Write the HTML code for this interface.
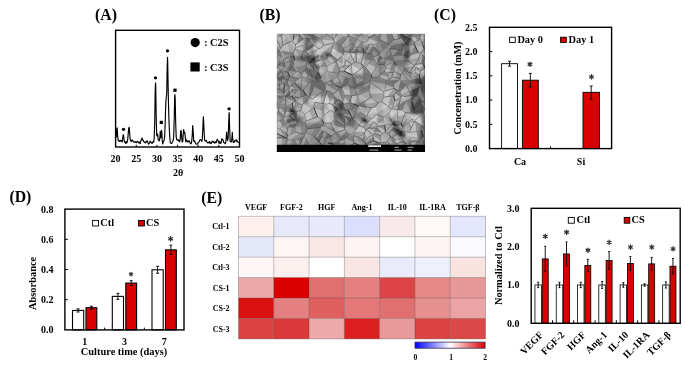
<!DOCTYPE html>
<html><head><meta charset="utf-8"><style>
html,body{margin:0;padding:0;background:#fff;}
svg{display:block;will-change:transform;}
svg text{font-family:"Liberation Serif", serif;font-weight:bold;fill:#000;}
</style></head><body>
<svg width="685" height="367" viewBox="0 0 685 367">
<rect width="685" height="367" fill="#fff"/>
<text x="95.00" y="19.60" font-size="15.8" text-anchor="start" >(A)</text>
<path d="M116.20,137.53 L116.70,129.15 L117.00,128.10 L117.20,127.88 L117.70,136.18 L118.20,140.47 L118.70,140.41 L119.20,141.42 L119.70,140.64 L120.20,141.37 L120.70,140.67 L121.20,140.30 L121.70,140.93 L122.20,141.95 L122.70,138.53 L123.20,134.47 L123.70,135.94 L124.20,140.98 L124.70,142.27 L125.20,141.93 L125.70,143.40 L126.20,141.61 L126.70,143.01 L127.20,141.90 L127.70,139.47 L128.20,134.10 L128.70,127.83 L129.00,127.56 L129.20,127.39 L129.70,133.73 L130.20,139.53 L130.70,140.99 L131.20,141.61 L131.70,140.49 L132.20,140.01 L132.70,140.28 L133.20,141.83 L133.70,141.94 L134.20,141.68 L134.70,142.27 L135.20,142.11 L135.70,141.50 L136.20,142.47 L136.70,142.61 L137.20,141.36 L137.70,141.66 L138.20,141.71 L138.70,142.80 L139.20,143.04 L139.70,142.03 L140.20,143.50 L140.70,141.51 L141.20,140.11 L141.70,139.13 L142.20,138.10 L142.70,140.28 L143.20,140.20 L143.70,141.50 L144.20,142.27 L144.70,142.11 L145.20,142.92 L145.70,141.82 L146.20,142.13 L146.70,141.05 L147.20,140.92 L147.70,141.95 L148.20,143.38 L148.70,144.13 L149.20,143.09 L149.70,143.00 L150.20,141.16 L150.70,141.96 L151.20,142.16 L151.70,143.23 L152.20,143.34 L152.70,141.97 L153.20,141.67 L153.70,142.23 L154.20,138.11 L154.70,122.58 L155.20,90.42 L155.50,82.90 L155.70,84.87 L156.20,117.06 L156.70,135.61 L157.20,135.82 L157.70,134.01 L158.20,139.65 L158.70,140.47 L159.20,140.95 L159.70,139.07 L160.20,132.77 L160.30,131.39 L160.70,137.76 L161.20,135.71 L161.60,130.31 L161.70,130.35 L162.20,140.40 L162.70,143.99 L163.20,142.15 L163.70,141.10 L164.20,139.98 L164.70,135.45 L165.20,122.78 L165.70,105.45 L166.00,100.20 L166.20,97.99 L166.70,93.97 L167.20,66.79 L167.50,57.38 L167.70,61.61 L168.20,90.69 L168.60,108.41 L168.70,112.36 L169.20,126.73 L169.70,135.90 L170.20,141.91 L170.70,143.15 L171.20,143.55 L171.70,143.42 L172.20,142.17 L172.70,141.55 L173.20,139.99 L173.70,136.54 L174.20,118.47 L174.70,95.57 L174.90,94.63 L175.20,99.14 L175.70,123.51 L176.20,137.08 L176.70,139.71 L177.20,140.10 L177.70,139.92 L178.20,140.46 L178.70,139.70 L179.20,141.66 L179.70,141.82 L180.20,138.87 L180.70,131.67 L181.00,130.32 L181.20,130.73 L181.70,137.62 L182.20,142.03 L182.70,141.55 L183.20,134.40 L183.60,130.36 L183.70,129.53 L184.20,132.99 L184.70,132.15 L185.20,136.36 L185.70,141.73 L186.20,140.84 L186.70,139.86 L187.20,142.03 L187.70,142.01 L188.20,141.04 L188.70,141.77 L189.20,140.76 L189.70,141.69 L190.20,143.41 L190.70,143.89 L191.20,143.56 L191.70,141.55 L192.20,135.84 L192.70,125.56 L192.80,126.23 L193.20,131.90 L193.70,140.84 L194.20,141.53 L194.70,140.95 L195.20,142.38 L195.70,143.68 L196.20,144.03 L196.70,144.11 L197.20,144.17 L197.70,143.92 L198.20,142.27 L198.70,142.15 L199.20,141.54 L199.70,140.25 L200.20,139.57 L200.70,139.94 L201.20,140.12 L201.70,141.26 L202.20,140.39 L202.70,130.67 L203.20,119.74 L203.40,116.80 L203.70,122.52 L204.20,133.80 L204.70,140.15 L205.20,141.13 L205.70,140.75 L206.20,140.42 L206.70,141.35 L207.20,142.56 L207.70,143.01 L208.20,142.29 L208.70,142.51 L209.20,143.13 L209.70,141.54 L210.20,142.43 L210.70,143.59 L211.20,143.65 L211.70,142.37 L212.20,141.18 L212.70,141.22 L213.20,142.42 L213.70,141.54 L214.20,142.37 L214.70,143.29 L215.20,142.20 L215.70,141.73 L216.20,142.67 L216.70,141.02 L217.20,139.28 L217.70,140.40 L218.20,140.77 L218.70,142.70 L219.20,143.27 L219.70,141.60 L220.20,142.57 L220.70,143.39 L221.20,142.32 L221.70,139.10 L222.20,138.76 L222.70,139.96 L223.20,140.05 L223.70,142.52 L224.20,142.89 L224.70,142.75 L225.20,143.80 L225.70,142.48 L226.20,138.26 L226.60,132.10 L226.70,132.43 L227.20,138.81 L227.70,140.60 L228.20,137.38 L228.70,122.65 L229.10,112.63 L229.20,112.79 L229.70,129.74 L230.20,141.40 L230.70,141.91 L231.20,141.98 L231.70,140.13 L232.20,133.99 L232.30,132.40 L232.70,138.43 L233.20,142.52 L233.70,142.49 L234.20,142.17 L234.70,140.52 L235.20,140.86 L235.70,140.33 L236.20,139.63 L236.70,141.60 L237.20,140.94 L237.70,141.54 L238.20,142.62 L238.70,142.70" fill="none" stroke="#000" stroke-width="1.15" stroke-linejoin="round"/>
<rect x="115.60" y="30.30" width="123.90" height="116.70" fill="none" stroke="#000" stroke-width="1.4" />
<line x1="136.25" y1="147.00" x2="136.25" y2="144.80" stroke="#000" stroke-width="1"/>
<line x1="156.90" y1="147.00" x2="156.90" y2="144.80" stroke="#000" stroke-width="1"/>
<line x1="177.55" y1="147.00" x2="177.55" y2="144.80" stroke="#000" stroke-width="1"/>
<line x1="198.20" y1="147.00" x2="198.20" y2="144.80" stroke="#000" stroke-width="1"/>
<line x1="218.85" y1="147.00" x2="218.85" y2="144.80" stroke="#000" stroke-width="1"/>
<text x="115.60" y="162.20" font-size="10" text-anchor="middle" >20</text>
<text x="136.25" y="162.20" font-size="10" text-anchor="middle" >25</text>
<text x="156.90" y="162.20" font-size="10" text-anchor="middle" >30</text>
<text x="177.55" y="162.20" font-size="10" text-anchor="middle" >35</text>
<text x="198.20" y="162.20" font-size="10" text-anchor="middle" >40</text>
<text x="218.85" y="162.20" font-size="10" text-anchor="middle" >45</text>
<text x="239.50" y="162.20" font-size="10" text-anchor="middle" >50</text>
<text x="178.00" y="175.80" font-size="10" text-anchor="middle" >2θ</text>
<circle cx="195.2" cy="42.6" r="4.6" fill="#000"/>
<text x="204.20" y="46.30" font-size="10" text-anchor="start" >:</text>
<text x="210.00" y="46.30" font-size="10.4" text-anchor="start" >C2S</text>
<rect x="190.40" y="62.40" width="9.30" height="9.10" fill="#000" stroke="none" stroke-width="0" />
<text x="204.20" y="70.80" font-size="10" text-anchor="start" >:</text>
<text x="210.00" y="70.80" font-size="10.4" text-anchor="start" >C3S</text>
<circle cx="123.5" cy="129.3" r="1.65" fill="#000"/>
<circle cx="155.5" cy="77.8" r="1.65" fill="#000"/>
<circle cx="167.5" cy="50.8" r="1.65" fill="#000"/>
<circle cx="229.1" cy="108.8" r="1.65" fill="#000"/>
<rect x="159.70" y="120.80" width="3.20" height="3.20" fill="#000" stroke="none" stroke-width="0" />
<rect x="173.40" y="88.60" width="3.20" height="3.20" fill="#000" stroke="none" stroke-width="0" />
<text x="259.40" y="20.30" font-size="15.8" text-anchor="start" >(B)</text>
<defs><clipPath id="semclip"><rect x="276.8" y="33.7" width="148.2" height="111.3"/></clipPath><filter id="semblur" x="-5%" y="-5%" width="110%" height="110%"><feGaussianBlur stdDeviation="1.0"/></filter></defs>
<g clip-path="url(#semclip)">
<g filter="url(#semblur)">
<rect x="274.8" y="31.700000000000003" width="152.2" height="115.3" fill="rgb(137,137,137)"/>
<polygon points="277.4,34.9 305.5,35.6 305.3,52.3 275.3,50.7" fill="rgb(172,172,172)"/>
<polygon points="306.0,34.5 316.4,32.6 314.9,49.9 304.6,51.1" fill="rgb(108,108,108)"/>
<polygon points="275.2,49.8 291.2,52.3 293.0,61.8 278.1,61.7" fill="rgb(148,148,148)"/>
<polygon points="277.0,63.0 327.0,63.0 327.0,90.0 277.0,90.0" fill="rgb(135,135,135)"/>
<polygon points="334.2,35.7 347.1,34.6 345.9,55.6 335.7,55.7" fill="rgb(143,143,143)"/>
<polygon points="348.4,33.3 365.1,32.8 364.3,47.4 346.3,49.4" fill="rgb(154,154,154)"/>
<polygon points="363.8,34.6 375.4,33.3 377.1,45.9 364.9,45.9" fill="rgb(177,177,177)"/>
<polygon points="326.7,53.4 347.7,53.3 346.9,74.8 324.3,74.6" fill="rgb(166,166,166)"/>
<polygon points="363.5,49.3 374.2,47.4 374.9,75.2 362.9,74.5" fill="rgb(137,137,137)"/>
<polygon points="327.5,75.2 340.4,73.1 341.1,91.0 324.6,90.9" fill="rgb(148,148,148)"/>
<polygon points="342.1,74.9 363.9,75.2 364.1,89.4 341.4,91.5" fill="rgb(120,120,120)"/>
<polygon points="365.0,75.1 376.2,72.9 375.3,88.8 364.1,88.7" fill="rgb(148,148,148)"/>
<polygon points="375.7,35.8 400.8,32.4 403.8,43.1 374.7,42.1" fill="rgb(148,148,148)"/>
<polygon points="411.9,35.2 424.8,33.7 423.4,44.5 409.9,43.0" fill="rgb(172,172,172)"/>
<polygon points="376.2,41.7 384.8,44.6 384.5,65.5 373.6,64.3" fill="rgb(137,137,137)"/>
<polygon points="382.7,44.2 404.8,42.8 407.3,65.8 385.7,64.3" fill="rgb(131,131,131)"/>
<polygon points="410.0,43.8 424.9,42.2 424.7,63.2 409.6,66.3" fill="rgb(166,166,166)"/>
<polygon points="376.7,65.0 405.5,63.9 404.0,89.2 376.0,91.3" fill="rgb(148,148,148)"/>
<polygon points="414.1,74.6 426.0,74.3 425.6,90.9 414.1,90.7" fill="rgb(102,102,102)"/>
<polygon points="404.7,64.4 415.6,65.2 413.9,91.6 406.0,90.3" fill="rgb(137,137,137)"/>
<polygon points="275.2,89.2 302.1,89.6 302.9,99.1 277.5,99.1" fill="rgb(148,148,148)"/>
<polygon points="302.5,89.5 318.9,90.2 317.5,99.2 304.3,98.7" fill="rgb(137,137,137)"/>
<polygon points="319.7,90.6 326.1,89.1 324.8,99.2 319.6,97.9" fill="rgb(143,143,143)"/>
<polygon points="277.7,104.8 292.8,102.8 293.0,119.8 277.6,119.2" fill="rgb(160,160,160)"/>
<polygon points="277.4,120.5 286.5,120.3 284.3,143.8 276.8,145.5" fill="rgb(166,166,166)"/>
<polygon points="285.0,126.3 308.0,124.0 307.4,144.0 284.4,143.7" fill="rgb(154,154,154)"/>
<polygon points="306.8,122.9 325.9,122.3 326.9,144.6 307.9,145.3" fill="rgb(137,137,137)"/>
<polygon points="276.1,99.5 290.2,97.7 291.2,103.7 275.6,105.2" fill="rgb(137,137,137)"/>
<polygon points="325.5,87.3 341.4,87.5 341.2,97.4 326.3,99.6" fill="rgb(143,143,143)"/>
<polygon points="342.1,88.7 360.6,89.5 359.0,102.7 341.3,104.2" fill="rgb(166,166,166)"/>
<polygon points="361.1,90.7 376.4,88.5 377.4,99.2 358.1,101.2" fill="rgb(166,166,166)"/>
<polygon points="334.0,102.7 357.0,105.4 356.1,126.8 332.6,126.2" fill="rgb(126,126,126)"/>
<polygon points="355.1,103.6 370.4,105.5 369.0,118.6 355.1,119.5" fill="rgb(137,137,137)"/>
<polygon points="325.7,126.3 356.7,127.0 354.2,144.9 324.6,145.4" fill="rgb(137,137,137)"/>
<polygon points="354.8,121.8 377.0,123.7 374.2,137.9 354.2,139.4" fill="rgb(177,177,177)"/>
<polygon points="356.0,136.9 375.2,136.6 377.8,144.3 355.4,144.9" fill="rgb(148,148,148)"/>
<polygon points="375.5,89.4 396.9,87.6 396.9,118.8 375.1,118.9" fill="rgb(177,177,177)"/>
<polygon points="395.3,89.1 414.5,88.5 415.5,101.3 394.3,100.1" fill="rgb(172,172,172)"/>
<polygon points="395.8,102.5 413.0,101.2 409.9,116.0 395.7,115.3" fill="rgb(160,160,160)"/>
<polygon points="375.7,120.0 391.7,121.0 391.4,144.6 376.3,143.9" fill="rgb(166,166,166)"/>
<polygon points="394.1,135.9 406.9,135.9 409.2,144.8 394.0,146.0" fill="rgb(166,166,166)"/>
<polygon points="422.2,118.2 424.9,119.7 425.0,144.4 419.5,145.3" fill="rgb(102,102,102)"/>
<polygon points="409.6,137.7 419.7,140.5 421.8,145.6 406.8,145.8" fill="rgb(137,137,137)"/>
<polygon points="280.0,35.0 290.0,35.0 301.0,47.0 297.0,49.0" fill="rgb(194,194,194)"/>
<polygon points="313.0,47.0 324.0,35.0 335.0,35.0 337.0,51.0 331.0,56.0 315.0,55.0" fill="rgb(192,192,192)"/>
<polygon points="292.0,51.0 304.0,50.0 312.0,52.0 310.0,56.0 293.0,56.0" fill="rgb(172,172,172)"/>
<polygon points="292.0,56.0 320.0,55.0 327.0,59.0 320.0,63.0 300.0,62.0" fill="rgb(85,85,85)"/>
<polygon points="309.2,58.8 315.7,55.4 316.2,62.0 308.0,64.6" fill="rgb(45,45,45)"/>
<polygon points="315.8,55.7 325.3,58.5 324.7,74.0 314.7,72.4" fill="rgb(177,177,177)"/>
<polygon points="294.2,72.0 306.1,73.2 306.0,84.2 294.1,86.7" fill="rgb(160,160,160)"/>
<polygon points="278.4,78.7 285.8,79.3 286.4,90.0 278.6,89.5" fill="rgb(148,148,148)"/>
<polygon points="308.9,65.2 318.4,65.0 319.7,81.2 310.7,80.1" fill="rgb(102,102,102)"/>
<polygon points="325.1,52.2 331.1,52.9 332.1,56.7 325.0,57.5" fill="rgb(68,68,68)"/>
<polygon points="347.9,52.8 364.8,54.6 362.5,74.2 345.5,72.2" fill="rgb(194,194,194)"/>
<polygon points="365.9,60.5 376.2,61.3 374.2,73.1 363.9,72.8" fill="rgb(166,166,166)"/>
<polygon points="399.4,32.7 413.2,34.7 410.6,41.6 402.7,43.6" fill="rgb(45,45,45)"/>
<polygon points="402.0,38.6 409.0,40.0 410.0,60.0 404.0,61.0" fill="rgb(80,80,80)"/>
<polygon points="408.0,66.0 414.0,62.5 422.0,65.0 422.0,72.5 415.0,74.5 408.0,72.0" fill="rgb(194,194,194)"/>
<polygon points="382.2,66.2 396.4,67.0 395.0,79.1 381.4,79.2" fill="rgb(172,172,172)"/>
<polygon points="415.6,78.7 426.2,80.5 426.1,89.8 417.3,90.1" fill="rgb(80,80,80)"/>
<polygon points="278.5,97.0 290.0,94.0 292.0,99.0 280.0,102.7" fill="rgb(102,102,102)"/>
<polygon points="309.3,96.9 327.9,96.2 325.5,105.6 307.9,105.6" fill="rgb(200,200,200)"/>
<polygon points="292.1,100.9 303.9,99.2 302.9,116.4 291.1,114.7" fill="rgb(166,166,166)"/>
<polygon points="301.3,104.4 321.5,104.6 322.2,123.6 302.8,122.7" fill="rgb(177,177,177)"/>
<polygon points="289.8,108.0 295.6,108.0 295.8,114.9 289.0,116.5" fill="rgb(45,45,45)"/>
<polygon points="286.0,117.0 299.0,114.0 301.4,127.0 288.0,127.0" fill="rgb(108,108,108)"/>
<polygon points="325.5,99.6 334.3,98.6 333.5,128.6 324.6,127.6" fill="rgb(194,194,194)"/>
<polygon points="334.2,104.6 343.8,102.8 341.9,117.8 334.0,118.0" fill="rgb(85,85,85)"/>
<polygon points="365.2,99.7 375.5,97.3 375.9,121.7 366.4,123.3" fill="rgb(189,189,189)"/>
<polygon points="359.8,117.1 367.6,119.6 367.5,123.8 362.7,122.2" fill="rgb(39,39,39)"/>
<polygon points="338.1,128.0 356.2,125.4 356.7,136.5 339.8,134.2" fill="rgb(166,166,166)"/>
<polygon points="382.5,104.3 397.4,105.8 397.6,116.4 383.1,116.4" fill="rgb(206,206,206)"/>
<polygon points="411.2,87.4 424.1,88.7 424.3,117.9 409.9,121.2" fill="rgb(80,80,80)"/>
<polygon points="393.6,110.0 405.1,110.1 404.0,121.8 393.4,122.7" fill="rgb(194,194,194)"/>
<polygon points="407.0,115.4 422.0,114.0 419.0,139.4 405.5,139.6" fill="rgb(189,189,189)"/>
<polygon points="388.7,119.5 393.0,119.5 405.5,134.0 405.5,138.0 400.0,138.0" fill="rgb(45,45,45)"/>
</g>
<polygon points="294.2,33.7 284.8,33.7 287.9,37.0 293.9,36.0" fill="#000" fill-opacity="0.01"/>
<polygon points="292.7,41.6 293.4,39.7 293.9,36.0 287.9,37.0 291.9,41.3" fill="#000" fill-opacity="0.16"/>
<path d="M291.9,41.3L292.7,41.6M292.7,41.6L293.4,39.7M293.4,39.7L294.2,33.7" stroke="#111" stroke-opacity="0.6" stroke-width="0.75" fill="none"/>
<path d="M294.2,33.7L284.8,33.7M284.8,33.7L291.9,41.3" stroke="#f0f0f0" stroke-opacity="0.4" stroke-width="0.6" fill="none"/>
<polygon points="345.1,124.8 344.4,125.9 344.8,129.7 349.3,134.2 352.3,134.5 355.8,130.0 346.6,123.7" fill="#fff" fill-opacity="0.02"/>
<polygon points="352.9,119.0 346.6,123.7 355.8,130.0 359.1,125.7 358.8,125.0 353.0,119.1" fill="#000" fill-opacity="0.16"/>
<path d="M344.8,129.7L349.3,134.2M349.3,134.2L352.3,134.5M352.3,134.5L359.1,125.7M359.1,125.7L358.8,125.0" stroke="#111" stroke-opacity="0.6" stroke-width="0.75" fill="none"/>
<path d="M353.0,119.1L352.9,119.0M352.9,119.0L345.1,124.8M345.1,124.8L344.4,125.9M344.4,125.9L344.8,129.7M358.8,125.0L353.0,119.1" stroke="#f0f0f0" stroke-opacity="0.4" stroke-width="0.6" fill="none"/>
<polygon points="361.0,63.6 363.7,66.6 365.7,67.6 370.8,60.4 362.5,58.4" fill="#fff" fill-opacity="0.03"/>
<polygon points="364.2,52.6 362.5,58.4 370.8,60.4 373.5,56.5 371.8,54.5 365.4,52.5" fill="#000" fill-opacity="0.14"/>
<path d="M361.0,63.6L363.7,66.6M363.7,66.6L365.7,67.6M365.7,67.6L373.5,56.5" stroke="#111" stroke-opacity="0.6" stroke-width="0.75" fill="none"/>
<path d="M365.4,52.5L364.2,52.6M364.2,52.6L361.0,63.6M373.5,56.5L371.8,54.5M371.8,54.5L365.4,52.5" stroke="#f0f0f0" stroke-opacity="0.4" stroke-width="0.6" fill="none"/>
<polygon points="276.8,33.7 276.8,37.6 279.4,36.6 279.2,33.7" fill="#fff" fill-opacity="0.12"/>
<polygon points="283.6,33.7 279.2,33.7 279.4,36.6 281.4,35.7" fill="#000" fill-opacity="0.18"/>
<path d="M281.4,35.7L283.6,33.7M276.8,37.6L281.4,35.7" stroke="#111" stroke-opacity="0.6" stroke-width="0.75" fill="none"/>
<path d="M283.6,33.7L276.8,33.7M276.8,33.7L276.8,37.6" stroke="#f0f0f0" stroke-opacity="0.4" stroke-width="0.6" fill="none"/>
<polygon points="300.3,89.7 292.9,85.4 291.5,86.8 294.2,89.0 297.4,90.2" fill="#fff" fill-opacity="0.03"/>
<polygon points="301.3,89.6 295.0,83.3 292.9,85.4 300.3,89.7" fill="#000" fill-opacity="0.12"/>
<path d="M297.4,90.2L301.3,89.6M301.3,89.6L295.0,83.3M294.2,89.0L297.4,90.2" stroke="#111" stroke-opacity="0.6" stroke-width="0.75" fill="none"/>
<path d="M295.0,83.3L291.5,86.8M291.5,86.8L294.2,89.0" stroke="#f0f0f0" stroke-opacity="0.4" stroke-width="0.6" fill="none"/>
<polygon points="410.1,113.3 412.2,118.6 414.4,120.5 419.3,116.8 411.5,112.1" fill="#fff" fill-opacity="0.20"/>
<polygon points="411.5,112.1 419.3,116.8 423.5,113.6 414.5,109.7 414.3,109.7" fill="#000" fill-opacity="0.05"/>
<path d="M412.2,118.6L414.4,120.5M414.4,120.5L423.5,113.6" stroke="#111" stroke-opacity="0.6" stroke-width="0.75" fill="none"/>
<path d="M414.3,109.7L410.1,113.3M410.1,113.3L412.2,118.6M423.5,113.6L414.5,109.7M414.5,109.7L414.3,109.7" stroke="#f0f0f0" stroke-opacity="0.4" stroke-width="0.6" fill="none"/>
<polygon points="283.8,78.6 281.4,79.3 281.9,83.9 282.4,83.9 286.1,79.4" fill="#000" fill-opacity="0.00"/>
<polygon points="288.1,81.8 288.3,80.4 288.2,80.1 286.1,79.4 282.4,83.9 284.4,84.2" fill="#000" fill-opacity="0.18"/>
<path d="M284.4,84.2L288.1,81.8M288.1,81.8L288.3,80.4M288.3,80.4L288.2,80.1M281.9,83.9L284.4,84.2" stroke="#111" stroke-opacity="0.6" stroke-width="0.75" fill="none"/>
<path d="M288.2,80.1L283.8,78.6M283.8,78.6L281.4,79.3M281.4,79.3L281.9,83.9" stroke="#f0f0f0" stroke-opacity="0.4" stroke-width="0.6" fill="none"/>
<polygon points="289.6,76.7 290.7,76.5 296.1,72.2 288.8,70.6 287.8,72.1" fill="#fff" fill-opacity="0.09"/>
<polygon points="297.5,71.1 293.7,65.8 290.0,68.9 288.8,70.6 296.1,72.2" fill="#000" fill-opacity="0.15"/>
<path d="M287.8,72.1L289.6,76.7M289.6,76.7L290.7,76.5M290.7,76.5L297.5,71.1" stroke="#111" stroke-opacity="0.6" stroke-width="0.75" fill="none"/>
<path d="M297.5,71.1L293.7,65.8M293.7,65.8L290.0,68.9M290.0,68.9L287.8,72.1" stroke="#f0f0f0" stroke-opacity="0.4" stroke-width="0.6" fill="none"/>
<polygon points="414.5,109.7 419.0,111.6 422.9,105.6 421.5,103.2" fill="#fff" fill-opacity="0.02"/>
<polygon points="423.5,113.6 424.3,113.8 425.0,110.2 425.0,109.3 422.9,105.6 419.0,111.6" fill="#000" fill-opacity="0.12"/>
<path d="M414.5,109.7L423.5,113.6M423.5,113.6L424.3,113.8M424.3,113.8L425.0,110.2M425.0,110.2L425.0,109.3" stroke="#111" stroke-opacity="0.6" stroke-width="0.75" fill="none"/>
<path d="M421.5,103.2L414.5,109.7M425.0,109.3L421.5,103.2" stroke="#f0f0f0" stroke-opacity="0.4" stroke-width="0.6" fill="none"/>
<polygon points="369.8,43.8 365.4,52.5 367.7,53.2 373.3,44.7" fill="#fff" fill-opacity="0.14"/>
<polygon points="373.3,44.7 367.7,53.2 371.8,54.5 374.3,46.9 374.4,45.0" fill="#000" fill-opacity="0.14"/>
<path d="M365.4,52.5L371.8,54.5M371.8,54.5L374.3,46.9" stroke="#111" stroke-opacity="0.6" stroke-width="0.75" fill="none"/>
<path d="M374.4,45.0L369.8,43.8M369.8,43.8L365.4,52.5M374.3,46.9L374.4,45.0" stroke="#f0f0f0" stroke-opacity="0.4" stroke-width="0.6" fill="none"/>
<polygon points="327.1,33.7 327.2,34.3 329.3,35.8 332.7,34.7 332.5,33.7" fill="#fff" fill-opacity="0.01"/>
<polygon points="333.2,38.5 332.7,34.7 329.3,35.8" fill="#000" fill-opacity="0.14"/>
<path d="M327.2,34.3L333.2,38.5M333.2,38.5L332.5,33.7" stroke="#111" stroke-opacity="0.6" stroke-width="0.75" fill="none"/>
<path d="M332.5,33.7L327.1,33.7M327.1,33.7L327.2,34.3" stroke="#f0f0f0" stroke-opacity="0.4" stroke-width="0.6" fill="none"/>
<polygon points="356.3,94.9 351.6,95.9 351.2,98.2 352.8,103.6 354.8,104.4 356.7,95.2" fill="#fff" fill-opacity="0.24"/>
<polygon points="359.7,105.8 360.1,104.0 357.4,95.7 356.7,95.2 354.8,104.4 358.9,106.2" fill="#000" fill-opacity="0.04"/>
<path d="M358.9,106.2L359.7,105.8M359.7,105.8L360.1,104.0M360.1,104.0L357.4,95.7M352.8,103.6L358.9,106.2" stroke="#111" stroke-opacity="0.6" stroke-width="0.75" fill="none"/>
<path d="M357.4,95.7L356.3,94.9M356.3,94.9L351.6,95.9M351.6,95.9L351.2,98.2M351.2,98.2L352.8,103.6" stroke="#f0f0f0" stroke-opacity="0.4" stroke-width="0.6" fill="none"/>
<polygon points="370.5,82.4 368.9,90.1 370.0,93.9 384.0,92.9 384.0,92.0" fill="#fff" fill-opacity="0.19"/>
<polygon points="371.1,97.4 378.1,102.8 382.1,101.8 383.8,97.0 384.0,92.9 370.0,93.9" fill="#000" fill-opacity="0.09"/>
<path d="M371.1,97.4L378.1,102.8M378.1,102.8L382.1,101.8M382.1,101.8L383.8,97.0M383.8,97.0L384.0,92.0" stroke="#111" stroke-opacity="0.6" stroke-width="0.75" fill="none"/>
<path d="M384.0,92.0L370.5,82.4M370.5,82.4L368.9,90.1M368.9,90.1L371.1,97.4" stroke="#f0f0f0" stroke-opacity="0.4" stroke-width="0.6" fill="none"/>
<polygon points="306.2,132.4 310.8,134.8 315.7,128.0 307.4,128.9" fill="#fff" fill-opacity="0.10"/>
<polygon points="314.8,136.8 321.0,127.4 315.7,128.0 310.8,134.8" fill="#000" fill-opacity="0.06"/>
<path d="M306.2,132.4L314.8,136.8M314.8,136.8L321.0,127.4" stroke="#111" stroke-opacity="0.6" stroke-width="0.75" fill="none"/>
<path d="M307.4,128.9L306.2,132.4M321.0,127.4L307.4,128.9" stroke="#f0f0f0" stroke-opacity="0.4" stroke-width="0.6" fill="none"/>
<polygon points="294.4,81.3 291.1,76.6 290.7,76.5 289.6,76.7 288.2,80.1 288.3,80.4" fill="#fff" fill-opacity="0.04"/>
<polygon points="295.2,81.4 298.6,78.7 291.1,76.6 294.4,81.3" fill="#000" fill-opacity="0.18"/>
<path d="M288.3,80.4L295.2,81.4M295.2,81.4L298.6,78.7" stroke="#111" stroke-opacity="0.6" stroke-width="0.75" fill="none"/>
<path d="M298.6,78.7L290.7,76.5M290.7,76.5L289.6,76.7M289.6,76.7L288.2,80.1M288.2,80.1L288.3,80.4" stroke="#f0f0f0" stroke-opacity="0.4" stroke-width="0.6" fill="none"/>
<polygon points="400.5,130.4 402.3,130.2 402.7,127.4 402.1,125.7 392.0,125.4 392.1,125.6 393.2,127.0" fill="#fff" fill-opacity="0.22"/>
<polygon points="401.3,123.4 397.9,121.2 393.0,121.8 391.7,124.8 392.0,125.4 402.1,125.7" fill="#000" fill-opacity="0.14"/>
<path d="M393.2,127.0L400.5,130.4M400.5,130.4L402.3,130.2M402.3,130.2L402.7,127.4M402.7,127.4L401.3,123.4" stroke="#111" stroke-opacity="0.6" stroke-width="0.75" fill="none"/>
<path d="M401.3,123.4L397.9,121.2M397.9,121.2L393.0,121.8M393.0,121.8L391.7,124.8M391.7,124.8L392.1,125.6M392.1,125.6L393.2,127.0" stroke="#f0f0f0" stroke-opacity="0.4" stroke-width="0.6" fill="none"/>
<polygon points="377.1,36.5 379.9,33.7 374.3,33.7 375.0,35.3" fill="#fff" fill-opacity="0.08"/>
<polygon points="380.2,38.4 381.4,33.7 379.9,33.7 377.1,36.5" fill="#000" fill-opacity="0.12"/>
<path d="M375.0,35.3L380.2,38.4M380.2,38.4L381.4,33.7" stroke="#111" stroke-opacity="0.6" stroke-width="0.75" fill="none"/>
<path d="M381.4,33.7L374.3,33.7M374.3,33.7L375.0,35.3" stroke="#f0f0f0" stroke-opacity="0.4" stroke-width="0.6" fill="none"/>
<polygon points="357.1,38.6 357.4,37.8 350.8,33.7 348.9,33.7 349.4,36.0" fill="#fff" fill-opacity="0.21"/>
<polygon points="358.0,36.6 357.2,33.7 350.8,33.7 357.4,37.8" fill="#000" fill-opacity="0.08"/>
<path d="M349.4,36.0L357.1,38.6M357.1,38.6L358.0,36.6M358.0,36.6L357.2,33.7" stroke="#111" stroke-opacity="0.6" stroke-width="0.75" fill="none"/>
<path d="M357.2,33.7L348.9,33.7M348.9,33.7L349.4,36.0" stroke="#f0f0f0" stroke-opacity="0.4" stroke-width="0.6" fill="none"/>
<polygon points="398.9,105.6 405.1,100.5 403.9,96.6 402.5,95.3 400.5,97.6" fill="#fff" fill-opacity="0.14"/>
<polygon points="398.1,109.9 402.1,110.1 405.5,101.6 405.1,100.5 398.9,105.6" fill="#000" fill-opacity="0.24"/>
<path d="M398.1,109.9L402.1,110.1M402.1,110.1L405.5,101.6" stroke="#111" stroke-opacity="0.6" stroke-width="0.75" fill="none"/>
<path d="M400.5,97.6L398.1,109.9M405.5,101.6L403.9,96.6M403.9,96.6L402.5,95.3M402.5,95.3L400.5,97.6" stroke="#f0f0f0" stroke-opacity="0.4" stroke-width="0.6" fill="none"/>
<polygon points="356.1,52.9 356.5,61.4 363.1,52.4 357.7,52.0" fill="#fff" fill-opacity="0.09"/>
<polygon points="356.6,62.4 361.0,63.6 364.2,52.6 364.0,52.5 363.1,52.4 356.5,61.4" fill="#000" fill-opacity="0.07"/>
<path d="M356.6,62.4L361.0,63.6M361.0,63.6L364.2,52.6" stroke="#111" stroke-opacity="0.6" stroke-width="0.75" fill="none"/>
<path d="M357.7,52.0L356.1,52.9M356.1,52.9L356.6,62.4M364.2,52.6L364.0,52.5M364.0,52.5L357.7,52.0" stroke="#f0f0f0" stroke-opacity="0.4" stroke-width="0.6" fill="none"/>
<polygon points="425.0,37.4 425.0,35.6 420.5,34.0 420.5,34.5" fill="#fff" fill-opacity="0.14"/>
<polygon points="425.0,33.7 420.6,33.7 420.5,34.0 425.0,35.6" fill="#000" fill-opacity="0.13"/>
<path d="M420.5,34.5L425.0,37.4M425.0,37.4L425.0,33.7" stroke="#111" stroke-opacity="0.6" stroke-width="0.75" fill="none"/>
<path d="M425.0,33.7L420.6,33.7M420.6,33.7L420.5,34.5" stroke="#f0f0f0" stroke-opacity="0.4" stroke-width="0.6" fill="none"/>
<polygon points="295.4,44.4 295.9,47.5 304.3,45.0 301.7,39.9" fill="#fff" fill-opacity="0.15"/>
<polygon points="304.0,38.3 301.7,39.9 304.3,45.0 307.5,44.0 310.8,39.2 310.8,38.9 305.7,38.1" fill="#000" fill-opacity="0.07"/>
<path d="M295.9,47.5L307.5,44.0M307.5,44.0L310.8,39.2M310.8,39.2L310.8,38.9" stroke="#111" stroke-opacity="0.6" stroke-width="0.75" fill="none"/>
<path d="M305.7,38.1L304.0,38.3M304.0,38.3L295.4,44.4M295.4,44.4L295.9,47.5M310.8,38.9L305.7,38.1" stroke="#f0f0f0" stroke-opacity="0.4" stroke-width="0.6" fill="none"/>
<polygon points="352.6,75.6 354.5,76.9 363.7,79.3 363.0,67.2 352.6,75.3" fill="#fff" fill-opacity="0.04"/>
<polygon points="370.3,81.0 371.9,77.5 371.2,74.8 365.7,67.6 363.7,66.6 363.0,67.2 363.7,79.3" fill="#000" fill-opacity="0.19"/>
<path d="M354.5,76.9L370.3,81.0M370.3,81.0L371.9,77.5M371.9,77.5L371.2,74.8" stroke="#111" stroke-opacity="0.6" stroke-width="0.75" fill="none"/>
<path d="M352.6,75.3L352.6,75.6M352.6,75.6L354.5,76.9M371.2,74.8L365.7,67.6M365.7,67.6L363.7,66.6M363.7,66.6L352.6,75.3" stroke="#f0f0f0" stroke-opacity="0.4" stroke-width="0.6" fill="none"/>
<polygon points="344.0,71.1 352.4,74.9 352.2,73.8 347.3,67.7" fill="#fff" fill-opacity="0.27"/>
<polygon points="347.3,67.7 352.2,73.8 351.4,64.6 349.0,65.9" fill="#000" fill-opacity="0.08"/>
<path d="M344.0,71.1L352.4,74.9M352.4,74.9L351.4,64.6" stroke="#111" stroke-opacity="0.6" stroke-width="0.75" fill="none"/>
<path d="M349.0,65.9L344.0,71.1M351.4,64.6L349.0,65.9" stroke="#f0f0f0" stroke-opacity="0.4" stroke-width="0.6" fill="none"/>
<polygon points="328.6,103.5 330.1,101.4 326.5,92.7 323.4,103.6 327.6,104.2" fill="#fff" fill-opacity="0.26"/>
<polygon points="333.7,96.3 333.5,93.7 327.1,90.4 326.5,92.7 330.1,101.4" fill="#000" fill-opacity="0.11"/>
<path d="M327.6,104.2L328.6,103.5M328.6,103.5L333.7,96.3M333.7,96.3L333.5,93.7M323.4,103.6L327.6,104.2" stroke="#111" stroke-opacity="0.6" stroke-width="0.75" fill="none"/>
<path d="M333.5,93.7L327.1,90.4M327.1,90.4L323.4,103.6" stroke="#f0f0f0" stroke-opacity="0.4" stroke-width="0.6" fill="none"/>
<polygon points="364.3,141.9 365.3,143.1 367.2,138.9 364.1,136.4" fill="#fff" fill-opacity="0.14"/>
<polygon points="364.1,136.4 367.2,138.9 367.7,137.7 365.4,131.9 364.0,134.0" fill="#000" fill-opacity="0.06"/>
<path d="M364.3,141.9L365.3,143.1M365.3,143.1L367.7,137.7" stroke="#111" stroke-opacity="0.6" stroke-width="0.75" fill="none"/>
<path d="M364.0,134.0L364.3,141.9M367.7,137.7L365.4,131.9M365.4,131.9L364.0,134.0" stroke="#f0f0f0" stroke-opacity="0.4" stroke-width="0.6" fill="none"/>
<polygon points="301.7,73.9 302.2,76.7 307.2,77.9 308.2,76.1 304.4,70.5" fill="#fff" fill-opacity="0.17"/>
<polygon points="306.4,67.9 304.4,70.5 308.2,76.1 310.7,71.9 310.4,70.2" fill="#000" fill-opacity="0.22"/>
<path d="M302.2,76.7L307.2,77.9M307.2,77.9L310.7,71.9M310.7,71.9L310.4,70.2" stroke="#111" stroke-opacity="0.6" stroke-width="0.75" fill="none"/>
<path d="M310.4,70.2L306.4,67.9M306.4,67.9L301.7,73.9M301.7,73.9L302.2,76.7" stroke="#f0f0f0" stroke-opacity="0.4" stroke-width="0.6" fill="none"/>
<polygon points="389.8,48.4 391.4,54.4 393.1,55.9 398.5,49.8" fill="#fff" fill-opacity="0.10"/>
<polygon points="402.1,50.3 398.5,49.8 393.1,55.9 393.1,56.0 402.4,55.3" fill="#000" fill-opacity="0.22"/>
<path d="M402.4,55.3L402.1,50.3M391.4,54.4L393.1,56.0M393.1,56.0L402.4,55.3" stroke="#111" stroke-opacity="0.6" stroke-width="0.75" fill="none"/>
<path d="M402.1,50.3L389.8,48.4M389.8,48.4L391.4,54.4" stroke="#f0f0f0" stroke-opacity="0.4" stroke-width="0.6" fill="none"/>
<polygon points="403.9,96.6 405.1,100.4 414.0,96.4 411.1,95.5" fill="#fff" fill-opacity="0.03"/>
<polygon points="405.5,101.6 412.1,101.7 414.6,96.6 414.0,96.4 405.1,100.4" fill="#000" fill-opacity="0.18"/>
<path d="M405.5,101.6L412.1,101.7M412.1,101.7L414.6,96.6" stroke="#111" stroke-opacity="0.6" stroke-width="0.75" fill="none"/>
<path d="M411.1,95.5L403.9,96.6M403.9,96.6L405.5,101.6M414.6,96.6L411.1,95.5" stroke="#f0f0f0" stroke-opacity="0.4" stroke-width="0.6" fill="none"/>
<polygon points="338.1,73.7 338.1,74.6 349.9,78.7 352.5,75.7 338.2,73.5" fill="#fff" fill-opacity="0.15"/>
<polygon points="339.4,71.3 338.2,73.5 352.5,75.7 352.6,75.6 352.6,75.3 352.4,74.9 344.0,71.1" fill="#000" fill-opacity="0.10"/>
<path d="M338.1,74.6L349.9,78.7M349.9,78.7L352.6,75.6M352.6,75.6L352.6,75.3M352.6,75.3L352.4,74.9M352.4,74.9L344.0,71.1" stroke="#111" stroke-opacity="0.6" stroke-width="0.75" fill="none"/>
<path d="M344.0,71.1L339.4,71.3M339.4,71.3L338.1,73.7M338.1,73.7L338.1,74.6" stroke="#f0f0f0" stroke-opacity="0.4" stroke-width="0.6" fill="none"/>
<polygon points="314.2,70.0 318.1,72.2 318.3,70.2 313.6,64.9" fill="#fff" fill-opacity="0.13"/>
<polygon points="313.2,61.4 313.6,64.9 318.3,70.2 318.4,70.0 314.7,61.6" fill="#000" fill-opacity="0.22"/>
<path d="M314.2,70.0L318.1,72.2M318.1,72.2L318.4,70.0" stroke="#111" stroke-opacity="0.6" stroke-width="0.75" fill="none"/>
<path d="M314.7,61.6L313.2,61.4M313.2,61.4L314.2,70.0M318.4,70.0L314.7,61.6" stroke="#f0f0f0" stroke-opacity="0.4" stroke-width="0.6" fill="none"/>
<polygon points="287.8,72.1 282.1,71.7 283.4,76.9 288.6,74.2" fill="#fff" fill-opacity="0.02"/>
<polygon points="288.6,74.2 283.4,76.9 283.8,78.6 288.2,80.1 289.6,76.7" fill="#000" fill-opacity="0.11"/>
<path d="M289.6,76.7L287.8,72.1M283.8,78.6L288.2,80.1M288.2,80.1L289.6,76.7" stroke="#111" stroke-opacity="0.6" stroke-width="0.75" fill="none"/>
<path d="M287.8,72.1L282.1,71.7M282.1,71.7L283.8,78.6" stroke="#f0f0f0" stroke-opacity="0.4" stroke-width="0.6" fill="none"/>
<polygon points="404.1,33.7 403.9,34.4 409.7,37.2 414.2,36.2 409.7,33.7" fill="#fff" fill-opacity="0.09"/>
<polygon points="420.5,34.5 420.6,33.7 409.7,33.7 414.2,36.2 420.4,34.8" fill="#000" fill-opacity="0.15"/>
<path d="M420.4,34.8L420.5,34.5M420.5,34.5L420.6,33.7M409.7,37.2L420.4,34.8" stroke="#111" stroke-opacity="0.6" stroke-width="0.75" fill="none"/>
<path d="M420.6,33.7L404.1,33.7M404.1,33.7L403.9,34.4M403.9,34.4L409.7,37.2" stroke="#f0f0f0" stroke-opacity="0.4" stroke-width="0.6" fill="none"/>
<polygon points="342.6,102.1 338.4,89.8 333.5,93.7 333.7,96.3 338.6,100.0 341.6,101.7 342.6,102.2" fill="#fff" fill-opacity="0.20"/>
<polygon points="345.8,94.9 342.6,87.4 342.2,87.3 341.2,87.7 338.4,89.8 342.6,102.1" fill="#000" fill-opacity="0.16"/>
<path d="M342.6,102.2L345.8,94.9M333.7,96.3L338.6,100.0M338.6,100.0L341.6,101.7M341.6,101.7L342.6,102.2" stroke="#111" stroke-opacity="0.6" stroke-width="0.75" fill="none"/>
<path d="M345.8,94.9L342.6,87.4M342.6,87.4L342.2,87.3M342.2,87.3L341.2,87.7M341.2,87.7L333.5,93.7M333.5,93.7L333.7,96.3" stroke="#f0f0f0" stroke-opacity="0.4" stroke-width="0.6" fill="none"/>
<polygon points="292.3,102.5 293.0,108.0 295.2,101.6" fill="#fff" fill-opacity="0.18"/>
<polygon points="295.7,101.4 295.2,101.6 293.0,108.0 293.1,108.8 293.2,108.9 295.4,106.0 296.3,101.8 296.0,101.5" fill="#000" fill-opacity="0.05"/>
<path d="M292.3,102.5L293.1,108.8M293.1,108.8L293.2,108.9M293.2,108.9L295.4,106.0M295.4,106.0L296.3,101.8" stroke="#111" stroke-opacity="0.6" stroke-width="0.75" fill="none"/>
<path d="M296.0,101.5L295.7,101.4M295.7,101.4L292.3,102.5M296.3,101.8L296.0,101.5" stroke="#f0f0f0" stroke-opacity="0.4" stroke-width="0.6" fill="none"/>
<polygon points="376.2,114.5 372.4,118.9 373.7,121.6 376.6,124.0 377.6,123.3 377.6,115.1" fill="#fff" fill-opacity="0.25"/>
<polygon points="377.6,115.1 377.6,123.3 383.9,118.1 384.0,117.5" fill="#000" fill-opacity="0.08"/>
<path d="M373.7,121.6L376.6,124.0M376.6,124.0L383.9,118.1M383.9,118.1L384.0,117.5" stroke="#111" stroke-opacity="0.6" stroke-width="0.75" fill="none"/>
<path d="M384.0,117.5L376.2,114.5M376.2,114.5L372.4,118.9M372.4,118.9L373.7,121.6" stroke="#f0f0f0" stroke-opacity="0.4" stroke-width="0.6" fill="none"/>
<polygon points="303.5,136.8 300.1,145.0 303.6,145.0 306.0,138.6 304.3,136.0" fill="#fff" fill-opacity="0.07"/>
<polygon points="310.2,145.0 306.0,138.6 303.6,145.0" fill="#000" fill-opacity="0.17"/>
<path d="M300.1,145.0L310.2,145.0M310.2,145.0L304.3,136.0" stroke="#111" stroke-opacity="0.6" stroke-width="0.75" fill="none"/>
<path d="M304.3,136.0L303.5,136.8M303.5,136.8L300.1,145.0" stroke="#f0f0f0" stroke-opacity="0.4" stroke-width="0.6" fill="none"/>
<polygon points="415.1,70.1 411.1,73.2 415.6,71.9" fill="#fff" fill-opacity="0.23"/>
<polygon points="415.6,71.9 411.1,73.2 410.6,73.5 416.1,73.4" fill="#000" fill-opacity="0.11"/>
<path d="M416.1,73.4L415.1,70.1M410.6,73.5L416.1,73.4" stroke="#111" stroke-opacity="0.6" stroke-width="0.75" fill="none"/>
<path d="M415.1,70.1L410.6,73.5" stroke="#f0f0f0" stroke-opacity="0.4" stroke-width="0.6" fill="none"/>
<polygon points="302.2,104.8 300.7,110.6 305.0,114.4 311.6,109.1 304.2,102.9" fill="#fff" fill-opacity="0.20"/>
<polygon points="312.6,99.2 310.0,97.6 309.8,97.6 304.2,102.9 311.6,109.1 313.8,107.4 314.8,102.2" fill="#000" fill-opacity="0.04"/>
<path d="M300.7,110.6L305.0,114.4M305.0,114.4L313.8,107.4M313.8,107.4L314.8,102.2" stroke="#111" stroke-opacity="0.6" stroke-width="0.75" fill="none"/>
<path d="M314.8,102.2L312.6,99.2M312.6,99.2L310.0,97.6M310.0,97.6L309.8,97.6M309.8,97.6L302.2,104.8M302.2,104.8L300.7,110.6" stroke="#f0f0f0" stroke-opacity="0.4" stroke-width="0.6" fill="none"/>
<polygon points="276.8,83.6 278.9,83.7 278.7,82.1 276.8,80.2" fill="#fff" fill-opacity="0.18"/>
<polygon points="276.8,77.6 276.8,80.2 278.7,82.1 278.3,78.7" fill="#000" fill-opacity="0.17"/>
<path d="M276.8,83.6L278.9,83.7M278.9,83.7L278.3,78.7" stroke="#111" stroke-opacity="0.6" stroke-width="0.75" fill="none"/>
<path d="M278.3,78.7L276.8,77.6M276.8,77.6L276.8,83.6" stroke="#f0f0f0" stroke-opacity="0.4" stroke-width="0.6" fill="none"/>
<polygon points="309.7,60.0 302.8,54.3 301.8,60.6 306.9,61.8" fill="#fff" fill-opacity="0.03"/>
<polygon points="309.8,59.9 310.1,57.4 306.1,51.1 305.0,50.4 303.4,50.2 302.8,54.3 309.7,60.0" fill="#000" fill-opacity="0.20"/>
<path d="M306.9,61.8L309.8,59.9M309.8,59.9L310.1,57.4M301.8,60.6L306.9,61.8" stroke="#111" stroke-opacity="0.6" stroke-width="0.75" fill="none"/>
<path d="M310.1,57.4L306.1,51.1M306.1,51.1L305.0,50.4M305.0,50.4L303.4,50.2M303.4,50.2L301.8,60.6" stroke="#f0f0f0" stroke-opacity="0.4" stroke-width="0.6" fill="none"/>
<polygon points="321.7,137.0 324.7,137.9 327.4,133.4 322.8,130.8" fill="#fff" fill-opacity="0.07"/>
<polygon points="327.6,138.8 331.9,137.0 332.1,136.0 327.4,133.4 324.7,137.9" fill="#000" fill-opacity="0.26"/>
<path d="M321.7,137.0L327.6,138.8M327.6,138.8L331.9,137.0M331.9,137.0L332.1,136.0" stroke="#111" stroke-opacity="0.6" stroke-width="0.75" fill="none"/>
<path d="M322.8,130.8L321.7,137.0M332.1,136.0L322.8,130.8" stroke="#f0f0f0" stroke-opacity="0.4" stroke-width="0.6" fill="none"/>
<polygon points="345.1,124.8 349.0,122.0 344.9,116.3 344.2,116.1 344.0,116.3" fill="#fff" fill-opacity="0.11"/>
<polygon points="352.9,119.0 352.8,118.8 352.5,118.5 344.9,116.3 349.0,122.0" fill="#000" fill-opacity="0.23"/>
<path d="M345.1,124.8L352.9,119.0M352.9,119.0L352.8,118.8M352.8,118.8L352.5,118.5" stroke="#111" stroke-opacity="0.6" stroke-width="0.75" fill="none"/>
<path d="M344.0,116.3L345.1,124.8M352.5,118.5L344.2,116.1M344.2,116.1L344.0,116.3" stroke="#f0f0f0" stroke-opacity="0.4" stroke-width="0.6" fill="none"/>
<polygon points="410.2,142.1 409.7,143.0 411.6,145.0 415.4,145.0 415.9,141.2" fill="#fff" fill-opacity="0.19"/>
<polygon points="420.7,140.4 415.9,141.2 415.4,145.0 419.3,145.0 419.8,144.9" fill="#000" fill-opacity="0.16"/>
<path d="M419.8,144.9L420.7,140.4M411.6,145.0L419.3,145.0M419.3,145.0L419.8,144.9" stroke="#111" stroke-opacity="0.6" stroke-width="0.75" fill="none"/>
<path d="M420.7,140.4L410.2,142.1M410.2,142.1L409.7,143.0M409.7,143.0L411.6,145.0" stroke="#f0f0f0" stroke-opacity="0.4" stroke-width="0.6" fill="none"/>
<polygon points="382.9,133.0 385.3,132.3 385.4,132.1 385.2,129.9 377.5,126.8 377.4,126.9" fill="#fff" fill-opacity="0.24"/>
<polygon points="384.9,125.3 377.5,126.5 377.5,126.8 385.2,129.9" fill="#000" fill-opacity="0.14"/>
<path d="M382.9,133.0L385.3,132.3M385.3,132.3L385.4,132.1M385.4,132.1L384.9,125.3" stroke="#111" stroke-opacity="0.6" stroke-width="0.75" fill="none"/>
<path d="M377.4,126.9L382.9,133.0M384.9,125.3L377.5,126.5M377.5,126.5L377.4,126.9" stroke="#f0f0f0" stroke-opacity="0.4" stroke-width="0.6" fill="none"/>
<polygon points="321.7,137.0 318.9,141.7 322.4,144.9 323.9,137.7" fill="#fff" fill-opacity="0.12"/>
<polygon points="323.9,145.0 325.7,143.5 327.6,138.8 323.9,137.7 322.4,144.9 322.5,145.0" fill="#000" fill-opacity="0.09"/>
<path d="M322.5,145.0L323.9,145.0M323.9,145.0L325.7,143.5M325.7,143.5L327.6,138.8M318.9,141.7L322.5,145.0" stroke="#111" stroke-opacity="0.6" stroke-width="0.75" fill="none"/>
<path d="M327.6,138.8L321.7,137.0M321.7,137.0L318.9,141.7" stroke="#f0f0f0" stroke-opacity="0.4" stroke-width="0.6" fill="none"/>
<polygon points="276.8,52.1 277.8,51.6 276.8,48.6" fill="#fff" fill-opacity="0.00"/>
<polygon points="276.8,47.4 276.8,48.6 277.8,51.6 278.5,51.2" fill="#000" fill-opacity="0.15"/>
<path d="M276.8,52.1L278.5,51.2" stroke="#111" stroke-opacity="0.6" stroke-width="0.75" fill="none"/>
<path d="M278.5,51.2L276.8,47.4M276.8,47.4L276.8,52.1" stroke="#f0f0f0" stroke-opacity="0.4" stroke-width="0.6" fill="none"/>
<polygon points="425.0,52.9 421.4,52.3 420.9,53.0 424.7,56.8 425.0,56.9" fill="#fff" fill-opacity="0.03"/>
<polygon points="425.0,48.6 424.0,48.8 421.4,52.3 425.0,52.9" fill="#000" fill-opacity="0.13"/>
<path d="M425.0,56.9L425.0,48.6M420.9,53.0L424.7,56.8M424.7,56.8L425.0,56.9" stroke="#111" stroke-opacity="0.6" stroke-width="0.75" fill="none"/>
<path d="M425.0,48.6L424.0,48.8M424.0,48.8L420.9,53.0" stroke="#f0f0f0" stroke-opacity="0.4" stroke-width="0.6" fill="none"/>
<polygon points="338.1,74.6 337.9,76.2 341.5,85.6 345.4,77.1" fill="#fff" fill-opacity="0.16"/>
<polygon points="347.4,85.1 349.9,78.7 345.4,77.1 341.5,85.6 342.2,87.3 342.6,87.4" fill="#000" fill-opacity="0.12"/>
<path d="M342.6,87.4L347.4,85.1M347.4,85.1L349.9,78.7M342.2,87.3L342.6,87.4" stroke="#111" stroke-opacity="0.6" stroke-width="0.75" fill="none"/>
<path d="M349.9,78.7L338.1,74.6M338.1,74.6L337.9,76.2M337.9,76.2L342.2,87.3" stroke="#f0f0f0" stroke-opacity="0.4" stroke-width="0.6" fill="none"/>
<polygon points="382.1,101.8 378.1,102.8 375.4,106.8 376.1,113.6 387.8,106.3" fill="#fff" fill-opacity="0.05"/>
<polygon points="391.4,109.1 387.8,106.3 376.1,113.6 376.2,114.5 384.0,117.5 390.3,111.6" fill="#000" fill-opacity="0.10"/>
<path d="M390.3,111.6L391.4,109.1M376.2,114.5L384.0,117.5M384.0,117.5L390.3,111.6" stroke="#111" stroke-opacity="0.6" stroke-width="0.75" fill="none"/>
<path d="M391.4,109.1L382.1,101.8M382.1,101.8L378.1,102.8M378.1,102.8L375.4,106.8M375.4,106.8L376.2,114.5" stroke="#f0f0f0" stroke-opacity="0.4" stroke-width="0.6" fill="none"/>
<polygon points="278.9,83.7 279.9,84.8 281.9,83.9 281.7,82.1 278.6,81.3" fill="#fff" fill-opacity="0.03"/>
<polygon points="278.3,78.7 278.6,81.3 281.7,82.1 281.4,79.3" fill="#000" fill-opacity="0.20"/>
<path d="M278.9,83.7L279.9,84.8M279.9,84.8L281.9,83.9M281.9,83.9L281.4,79.3" stroke="#111" stroke-opacity="0.6" stroke-width="0.75" fill="none"/>
<path d="M281.4,79.3L278.3,78.7M278.3,78.7L278.9,83.7" stroke="#f0f0f0" stroke-opacity="0.4" stroke-width="0.6" fill="none"/>
<polygon points="283.7,96.9 283.7,94.0 276.8,92.5 276.8,95.6 281.7,97.0" fill="#fff" fill-opacity="0.05"/>
<polygon points="283.7,93.0 280.3,89.3 276.8,89.1 276.8,92.5 283.7,94.0" fill="#000" fill-opacity="0.10"/>
<path d="M281.7,97.0L283.7,96.9M283.7,96.9L283.7,93.0M276.8,95.6L281.7,97.0" stroke="#111" stroke-opacity="0.6" stroke-width="0.75" fill="none"/>
<path d="M283.7,93.0L280.3,89.3M280.3,89.3L276.8,89.1M276.8,89.1L276.8,95.6" stroke="#f0f0f0" stroke-opacity="0.4" stroke-width="0.6" fill="none"/>
<polygon points="405.6,112.4 401.3,123.4 401.5,123.9 410.9,115.3 410.1,113.3" fill="#fff" fill-opacity="0.15"/>
<polygon points="402.7,127.4 408.6,122.5 412.2,118.6 410.9,115.3 401.5,123.9" fill="#000" fill-opacity="0.05"/>
<path d="M401.3,123.4L402.7,127.4M402.7,127.4L408.6,122.5M408.6,122.5L412.2,118.6" stroke="#111" stroke-opacity="0.6" stroke-width="0.75" fill="none"/>
<path d="M410.1,113.3L405.6,112.4M405.6,112.4L401.3,123.4M412.2,118.6L410.1,113.3" stroke="#f0f0f0" stroke-opacity="0.4" stroke-width="0.6" fill="none"/>
<polygon points="358.0,36.6 357.1,38.6 357.4,39.6 362.1,42.1 367.0,41.6 360.1,35.3" fill="#fff" fill-opacity="0.09"/>
<polygon points="368.8,38.2 366.5,34.5 363.6,33.7 362.6,33.7 360.1,35.3 367.0,41.6 367.6,41.5" fill="#000" fill-opacity="0.11"/>
<path d="M367.6,41.5L368.8,38.2M368.8,38.2L366.5,34.5M357.4,39.6L362.1,42.1M362.1,42.1L367.6,41.5" stroke="#111" stroke-opacity="0.6" stroke-width="0.75" fill="none"/>
<path d="M366.5,34.5L363.6,33.7M363.6,33.7L362.6,33.7M362.6,33.7L358.0,36.6M358.0,36.6L357.1,38.6M357.1,38.6L357.4,39.6" stroke="#f0f0f0" stroke-opacity="0.4" stroke-width="0.6" fill="none"/>
<polygon points="317.5,116.8 321.7,119.2 323.0,116.3 323.2,110.7 314.3,108.6" fill="#fff" fill-opacity="0.14"/>
<polygon points="313.8,107.4 314.3,108.6 323.2,110.7 323.3,103.6 314.8,102.2" fill="#000" fill-opacity="0.11"/>
<path d="M313.8,107.4L317.5,116.8M317.5,116.8L321.7,119.2M321.7,119.2L323.0,116.3M323.0,116.3L323.3,103.6" stroke="#111" stroke-opacity="0.6" stroke-width="0.75" fill="none"/>
<path d="M314.8,102.2L313.8,107.4M323.3,103.6L314.8,102.2" stroke="#f0f0f0" stroke-opacity="0.4" stroke-width="0.6" fill="none"/>
<polygon points="314.0,33.7 313.9,34.3 318.4,36.5 322.9,33.7" fill="#fff" fill-opacity="0.13"/>
<polygon points="327.1,34.3 325.4,33.7 322.9,33.7 318.4,36.5 321.1,37.8" fill="#000" fill-opacity="0.01"/>
<path d="M321.1,37.8L327.1,34.3M327.1,34.3L325.4,33.7" stroke="#111" stroke-opacity="0.6" stroke-width="0.75" fill="none"/>
<path d="M325.4,33.7L314.0,33.7M314.0,33.7L313.9,34.3M313.9,34.3L321.1,37.8" stroke="#f0f0f0" stroke-opacity="0.4" stroke-width="0.6" fill="none"/>
<polygon points="283.8,58.8 283.6,62.2 284.3,62.5 288.9,62.1 290.0,56.8" fill="#fff" fill-opacity="0.05"/>
<polygon points="294.8,60.0 293.6,55.6 290.0,56.8 288.9,62.1 293.9,61.7" fill="#000" fill-opacity="0.23"/>
<path d="M293.9,61.7L294.8,60.0M294.8,60.0L293.6,55.6M284.3,62.5L293.9,61.7" stroke="#111" stroke-opacity="0.6" stroke-width="0.75" fill="none"/>
<path d="M293.6,55.6L283.8,58.8M283.8,58.8L283.6,62.2M283.6,62.2L284.3,62.5" stroke="#f0f0f0" stroke-opacity="0.4" stroke-width="0.6" fill="none"/>
<polygon points="300.7,110.6 296.3,111.4 296.4,118.8 305.1,115.3 305.0,114.4" fill="#fff" fill-opacity="0.11"/>
<polygon points="296.4,121.2 297.3,122.0 305.2,122.7 305.9,121.0 305.1,115.3 296.4,118.8" fill="#000" fill-opacity="0.09"/>
<path d="M296.4,121.2L297.3,122.0M297.3,122.0L305.2,122.7M305.2,122.7L305.9,121.0M305.9,121.0L305.0,114.4" stroke="#111" stroke-opacity="0.6" stroke-width="0.75" fill="none"/>
<path d="M305.0,114.4L300.7,110.6M300.7,110.6L296.3,111.4M296.3,111.4L296.4,121.2" stroke="#f0f0f0" stroke-opacity="0.4" stroke-width="0.6" fill="none"/>
<polygon points="278.0,107.9 276.8,107.6 276.8,113.5 277.5,113.1 278.1,108.0" fill="#fff" fill-opacity="0.21"/>
<polygon points="278.6,108.4 278.1,108.0 277.5,113.1 279.3,111.9" fill="#000" fill-opacity="0.17"/>
<path d="M279.3,111.9L278.6,108.4M276.8,113.5L279.3,111.9" stroke="#111" stroke-opacity="0.6" stroke-width="0.75" fill="none"/>
<path d="M278.6,108.4L278.0,107.9M278.0,107.9L276.8,107.6M276.8,107.6L276.8,113.5" stroke="#f0f0f0" stroke-opacity="0.4" stroke-width="0.6" fill="none"/>
<polygon points="402.5,73.4 400.9,74.7 399.9,78.4 400.1,79.5 400.7,80.1 408.3,79.9" fill="#fff" fill-opacity="0.12"/>
<polygon points="411.3,83.1 408.3,79.9 400.7,80.1 405.9,85.6 406.6,85.4" fill="#000" fill-opacity="0.06"/>
<path d="M406.6,85.4L411.3,83.1M400.1,79.5L405.9,85.6M405.9,85.6L406.6,85.4" stroke="#111" stroke-opacity="0.6" stroke-width="0.75" fill="none"/>
<path d="M411.3,83.1L402.5,73.4M402.5,73.4L400.9,74.7M400.9,74.7L399.9,78.4M399.9,78.4L400.1,79.5" stroke="#f0f0f0" stroke-opacity="0.4" stroke-width="0.6" fill="none"/>
<polygon points="346.4,60.1 344.0,65.5 347.1,65.8 348.2,61.5" fill="#fff" fill-opacity="0.16"/>
<polygon points="351.4,64.6 351.7,64.1 348.2,61.5 347.1,65.8 349.0,65.9" fill="#000" fill-opacity="0.11"/>
<path d="M349.0,65.9L351.4,64.6M351.4,64.6L351.7,64.1M344.0,65.5L349.0,65.9" stroke="#111" stroke-opacity="0.6" stroke-width="0.75" fill="none"/>
<path d="M351.7,64.1L346.4,60.1M346.4,60.1L344.0,65.5" stroke="#f0f0f0" stroke-opacity="0.4" stroke-width="0.6" fill="none"/>
<polygon points="290.3,134.5 291.5,126.8 288.4,126.8 286.5,133.3 287.5,135.9" fill="#fff" fill-opacity="0.14"/>
<polygon points="295.7,132.0 294.7,126.8 291.5,126.8 290.3,134.5" fill="#000" fill-opacity="0.08"/>
<path d="M287.5,135.9L295.7,132.0M295.7,132.0L294.7,126.8M286.5,133.3L287.5,135.9" stroke="#111" stroke-opacity="0.6" stroke-width="0.75" fill="none"/>
<path d="M294.7,126.8L288.4,126.8M288.4,126.8L286.5,133.3" stroke="#f0f0f0" stroke-opacity="0.4" stroke-width="0.6" fill="none"/>
<polygon points="384.4,64.6 385.4,65.8 394.3,62.2 394.2,61.7 385.3,59.3" fill="#fff" fill-opacity="0.12"/>
<polygon points="391.4,54.4 385.4,59.1 385.3,59.3 394.2,61.7 393.1,56.0" fill="#000" fill-opacity="0.14"/>
<path d="M384.4,64.6L385.4,65.8M385.4,65.8L394.3,62.2M394.3,62.2L393.1,56.0" stroke="#111" stroke-opacity="0.6" stroke-width="0.75" fill="none"/>
<path d="M393.1,56.0L391.4,54.4M391.4,54.4L385.4,59.1M385.4,59.1L384.4,64.6" stroke="#f0f0f0" stroke-opacity="0.4" stroke-width="0.6" fill="none"/>
<polygon points="300.0,33.7 304.0,38.3 305.7,38.1 305.6,37.3 301.0,33.7" fill="#fff" fill-opacity="0.17"/>
<polygon points="301.0,33.7 305.6,37.3 304.8,33.7" fill="#000" fill-opacity="0.11"/>
<path d="M304.0,38.3L305.7,38.1M305.7,38.1L304.8,33.7" stroke="#111" stroke-opacity="0.6" stroke-width="0.75" fill="none"/>
<path d="M304.8,33.7L300.0,33.7M300.0,33.7L304.0,38.3" stroke="#f0f0f0" stroke-opacity="0.4" stroke-width="0.6" fill="none"/>
<polygon points="283.6,62.2 283.8,58.8 283.5,58.0 276.8,55.2 276.8,56.6 280.6,62.8" fill="#fff" fill-opacity="0.01"/>
<polygon points="281.5,51.5 279.8,50.8 278.5,51.2 276.8,52.1 276.8,55.2 283.5,58.0" fill="#000" fill-opacity="0.19"/>
<path d="M280.6,62.8L283.6,62.2M283.6,62.2L283.8,58.8M276.8,56.6L280.6,62.8" stroke="#111" stroke-opacity="0.6" stroke-width="0.75" fill="none"/>
<path d="M283.8,58.8L281.5,51.5M281.5,51.5L279.8,50.8M279.8,50.8L278.5,51.2M278.5,51.2L276.8,52.1M276.8,52.1L276.8,56.6" stroke="#f0f0f0" stroke-opacity="0.4" stroke-width="0.6" fill="none"/>
<polygon points="363.6,33.7 365.7,34.3 365.9,33.7" fill="#fff" fill-opacity="0.02"/>
<polygon points="365.9,33.7 365.7,34.3 366.5,34.5 367.0,34.0 367.0,33.7" fill="#000" fill-opacity="0.13"/>
<path d="M366.5,34.5L367.0,34.0M367.0,34.0L367.0,33.7" stroke="#111" stroke-opacity="0.6" stroke-width="0.75" fill="none"/>
<path d="M367.0,33.7L363.6,33.7M363.6,33.7L366.5,34.5" stroke="#f0f0f0" stroke-opacity="0.4" stroke-width="0.6" fill="none"/>
<polygon points="409.6,132.5 410.0,132.7 416.6,131.5 414.9,121.0 414.7,120.9 411.0,128.1" fill="#fff" fill-opacity="0.03"/>
<polygon points="421.3,130.6 422.4,126.4 414.9,121.0 416.6,131.5" fill="#000" fill-opacity="0.22"/>
<path d="M409.6,132.5L410.0,132.7M410.0,132.7L421.3,130.6M421.3,130.6L422.4,126.4" stroke="#111" stroke-opacity="0.6" stroke-width="0.75" fill="none"/>
<path d="M411.0,128.1L409.6,132.5M422.4,126.4L414.7,120.9M414.7,120.9L411.0,128.1" stroke="#f0f0f0" stroke-opacity="0.4" stroke-width="0.6" fill="none"/>
<polygon points="276.8,39.4 276.8,46.7 279.7,46.2" fill="#fff" fill-opacity="0.11"/>
<polygon points="279.8,50.8 280.6,48.3 279.7,46.2 276.8,46.7 276.8,47.4 278.5,51.2" fill="#000" fill-opacity="0.07"/>
<path d="M278.5,51.2L279.8,50.8M279.8,50.8L280.6,48.3M276.8,47.4L278.5,51.2" stroke="#111" stroke-opacity="0.6" stroke-width="0.75" fill="none"/>
<path d="M280.6,48.3L276.8,39.4M276.8,39.4L276.8,47.4" stroke="#f0f0f0" stroke-opacity="0.4" stroke-width="0.6" fill="none"/>
<polygon points="395.6,145.0 397.6,145.0 396.2,143.8" fill="#fff" fill-opacity="0.11"/>
<polygon points="396.3,143.7 396.2,143.8 397.6,145.0 398.8,145.0 397.0,143.7" fill="#000" fill-opacity="0.17"/>
<path d="M395.6,145.0L398.8,145.0M398.8,145.0L397.0,143.7" stroke="#111" stroke-opacity="0.6" stroke-width="0.75" fill="none"/>
<path d="M397.0,143.7L396.3,143.7M396.3,143.7L395.6,145.0" stroke="#f0f0f0" stroke-opacity="0.4" stroke-width="0.6" fill="none"/>
<polygon points="301.8,60.6 301.9,60.1 295.1,49.5 293.2,53.2 293.6,55.6 294.8,60.0" fill="#fff" fill-opacity="0.14"/>
<polygon points="303.4,50.2 295.9,47.9 295.1,49.5 301.9,60.1" fill="#000" fill-opacity="0.11"/>
<path d="M294.8,60.0L301.8,60.6M301.8,60.6L303.4,50.2M293.6,55.6L294.8,60.0" stroke="#111" stroke-opacity="0.6" stroke-width="0.75" fill="none"/>
<path d="M303.4,50.2L295.9,47.9M295.9,47.9L293.2,53.2M293.2,53.2L293.6,55.6" stroke="#f0f0f0" stroke-opacity="0.4" stroke-width="0.6" fill="none"/>
<polygon points="284.3,62.5 284.8,66.4 288.3,68.0 290.2,62.0" fill="#fff" fill-opacity="0.11"/>
<polygon points="293.7,65.8 293.9,61.7 290.2,62.0 288.3,68.0 290.0,68.9" fill="#000" fill-opacity="0.20"/>
<path d="M290.0,68.9L293.7,65.8M293.7,65.8L293.9,61.7M284.8,66.4L290.0,68.9" stroke="#111" stroke-opacity="0.6" stroke-width="0.75" fill="none"/>
<path d="M293.9,61.7L284.3,62.5M284.3,62.5L284.8,66.4" stroke="#f0f0f0" stroke-opacity="0.4" stroke-width="0.6" fill="none"/>
<polygon points="276.8,101.2 280.1,98.4 276.8,97.4" fill="#fff" fill-opacity="0.06"/>
<polygon points="276.8,95.6 276.8,97.4 280.1,98.4 281.7,97.0" fill="#000" fill-opacity="0.13"/>
<path d="M276.8,101.2L281.7,97.0" stroke="#111" stroke-opacity="0.6" stroke-width="0.75" fill="none"/>
<path d="M281.7,97.0L276.8,95.6M276.8,95.6L276.8,101.2" stroke="#f0f0f0" stroke-opacity="0.4" stroke-width="0.6" fill="none"/>
<polygon points="314.7,61.6 317.0,66.9 318.6,62.5 318.0,61.2" fill="#fff" fill-opacity="0.08"/>
<polygon points="318.4,70.0 320.3,66.3 318.6,62.5 317.0,66.9" fill="#000" fill-opacity="0.16"/>
<path d="M314.7,61.6L318.4,70.0M318.4,70.0L320.3,66.3" stroke="#111" stroke-opacity="0.6" stroke-width="0.75" fill="none"/>
<path d="M318.0,61.2L314.7,61.6M320.3,66.3L318.0,61.2" stroke="#f0f0f0" stroke-opacity="0.4" stroke-width="0.6" fill="none"/>
<polygon points="378.1,76.9 386.3,80.4 389.0,79.9 388.7,77.1 380.6,74.6" fill="#fff" fill-opacity="0.07"/>
<polygon points="385.2,70.3 380.6,74.6 388.7,77.1 388.1,72.7" fill="#000" fill-opacity="0.22"/>
<path d="M378.1,76.9L386.3,80.4M386.3,80.4L389.0,79.9M389.0,79.9L388.1,72.7" stroke="#111" stroke-opacity="0.6" stroke-width="0.75" fill="none"/>
<path d="M388.1,72.7L385.2,70.3M385.2,70.3L378.1,76.9" stroke="#f0f0f0" stroke-opacity="0.4" stroke-width="0.6" fill="none"/>
<polygon points="346.8,37.8 340.8,45.3 343.2,48.3 348.8,45.8 349.3,36.1" fill="#fff" fill-opacity="0.18"/>
<polygon points="357.1,38.6 349.4,36.0 349.3,36.1 348.8,45.8 355.6,42.7 357.4,39.6" fill="#000" fill-opacity="0.13"/>
<path d="M357.4,39.6L357.1,38.6M340.8,45.3L343.2,48.3M343.2,48.3L355.6,42.7M355.6,42.7L357.4,39.6" stroke="#111" stroke-opacity="0.6" stroke-width="0.75" fill="none"/>
<path d="M357.1,38.6L349.4,36.0M349.4,36.0L346.8,37.8M346.8,37.8L340.8,45.3" stroke="#f0f0f0" stroke-opacity="0.4" stroke-width="0.6" fill="none"/>
<polygon points="402.5,73.4 411.3,83.1 411.3,83.1 410.8,77.4 402.7,73.0" fill="#fff" fill-opacity="0.20"/>
<polygon points="404.4,70.2 402.7,73.0 410.8,77.4 410.4,73.6 410.3,73.4" fill="#000" fill-opacity="0.02"/>
<path d="M402.5,73.4L411.3,83.1M411.3,83.1L411.3,83.1M411.3,83.1L410.4,73.6" stroke="#111" stroke-opacity="0.6" stroke-width="0.75" fill="none"/>
<path d="M410.3,73.4L404.4,70.2M404.4,70.2L402.5,73.4M410.4,73.6L410.3,73.4" stroke="#f0f0f0" stroke-opacity="0.4" stroke-width="0.6" fill="none"/>
<polygon points="310.8,38.9 312.2,36.8 305.0,34.7 305.7,38.1" fill="#fff" fill-opacity="0.14"/>
<polygon points="313.9,34.3 314.0,33.7 304.8,33.7 305.0,34.7 312.2,36.8" fill="#000" fill-opacity="0.17"/>
<path d="M305.7,38.1L310.8,38.9M310.8,38.9L313.9,34.3M313.9,34.3L314.0,33.7" stroke="#111" stroke-opacity="0.6" stroke-width="0.75" fill="none"/>
<path d="M314.0,33.7L304.8,33.7M304.8,33.7L305.7,38.1" stroke="#f0f0f0" stroke-opacity="0.4" stroke-width="0.6" fill="none"/>
<polygon points="318.4,48.5 319.7,58.7 322.5,51.0 320.4,48.2" fill="#fff" fill-opacity="0.04"/>
<polygon points="319.8,60.2 323.6,60.3 323.8,59.9 323.5,52.2 322.5,51.0 319.7,58.7" fill="#000" fill-opacity="0.19"/>
<path d="M319.8,60.2L323.6,60.3M323.6,60.3L323.8,59.9M323.8,59.9L323.5,52.2" stroke="#111" stroke-opacity="0.6" stroke-width="0.75" fill="none"/>
<path d="M320.4,48.2L318.4,48.5M318.4,48.5L319.8,60.2M323.5,52.2L320.4,48.2" stroke="#f0f0f0" stroke-opacity="0.4" stroke-width="0.6" fill="none"/>
<polygon points="306.2,132.4 304.5,134.6 304.3,136.0 309.9,144.6 311.8,135.2" fill="#fff" fill-opacity="0.13"/>
<polygon points="314.8,136.8 311.8,135.2 309.9,144.6 310.2,145.0 312.8,145.0 318.9,141.7" fill="#fff" fill-opacity="0.01"/>
<path d="M318.9,141.7L314.8,136.8M310.2,145.0L312.8,145.0M312.8,145.0L318.9,141.7" stroke="#111" stroke-opacity="0.6" stroke-width="0.75" fill="none"/>
<path d="M314.8,136.8L306.2,132.4M306.2,132.4L304.5,134.6M304.5,134.6L304.3,136.0M304.3,136.0L310.2,145.0" stroke="#f0f0f0" stroke-opacity="0.4" stroke-width="0.6" fill="none"/>
<polygon points="425.0,56.9 424.7,56.8 423.4,63.4 425.0,62.2" fill="#fff" fill-opacity="0.12"/>
<polygon points="425.0,62.2 423.4,63.4 423.2,64.2 425.0,68.0" fill="#000" fill-opacity="0.10"/>
<path d="M425.0,68.0L425.0,56.9M423.2,64.2L425.0,68.0" stroke="#111" stroke-opacity="0.6" stroke-width="0.75" fill="none"/>
<path d="M425.0,56.9L424.7,56.8M424.7,56.8L423.2,64.2" stroke="#f0f0f0" stroke-opacity="0.4" stroke-width="0.6" fill="none"/>
<polygon points="420.9,53.0 420.4,53.1 418.7,59.6 420.5,63.8 421.2,63.9 422.1,54.2" fill="#fff" fill-opacity="0.11"/>
<polygon points="424.7,56.8 422.1,54.2 421.2,63.9 423.2,64.2" fill="#000" fill-opacity="0.29"/>
<path d="M423.2,64.2L424.7,56.8M418.7,59.6L420.5,63.8M420.5,63.8L423.2,64.2" stroke="#111" stroke-opacity="0.6" stroke-width="0.75" fill="none"/>
<path d="M424.7,56.8L420.9,53.0M420.9,53.0L420.4,53.1M420.4,53.1L418.7,59.6" stroke="#f0f0f0" stroke-opacity="0.4" stroke-width="0.6" fill="none"/>
<polygon points="328.1,112.1 323.3,105.6 323.0,116.3" fill="#fff" fill-opacity="0.17"/>
<polygon points="330.6,110.1 327.6,104.2 323.4,103.6 323.3,103.6 323.3,105.6 328.1,112.1" fill="#000" fill-opacity="0.06"/>
<path d="M323.0,116.3L330.6,110.1" stroke="#111" stroke-opacity="0.6" stroke-width="0.75" fill="none"/>
<path d="M330.6,110.1L327.6,104.2M327.6,104.2L323.4,103.6M323.4,103.6L323.3,103.6M323.3,103.6L323.0,116.3" stroke="#f0f0f0" stroke-opacity="0.4" stroke-width="0.6" fill="none"/>
<polygon points="344.8,129.7 336.0,132.4 339.8,138.2 346.1,131.0" fill="#fff" fill-opacity="0.02"/>
<polygon points="349.3,134.2 346.1,131.0 339.8,138.2 341.4,140.5 344.3,139.9" fill="#000" fill-opacity="0.22"/>
<path d="M344.3,139.9L349.3,134.2M341.4,140.5L344.3,139.9" stroke="#111" stroke-opacity="0.6" stroke-width="0.75" fill="none"/>
<path d="M349.3,134.2L344.8,129.7M344.8,129.7L336.0,132.4M336.0,132.4L341.4,140.5" stroke="#f0f0f0" stroke-opacity="0.4" stroke-width="0.6" fill="none"/>
<polygon points="323.6,60.3 319.8,60.2 318.0,61.2 320.3,66.3 320.7,66.3 323.6,60.4" fill="#fff" fill-opacity="0.04"/>
<polygon points="323.6,60.4 320.7,66.3 326.8,66.0" fill="#000" fill-opacity="0.19"/>
<path d="M326.8,66.0L323.6,60.3M320.3,66.3L326.8,66.0" stroke="#111" stroke-opacity="0.6" stroke-width="0.75" fill="none"/>
<path d="M323.6,60.3L319.8,60.2M319.8,60.2L318.0,61.2M318.0,61.2L320.3,66.3" stroke="#f0f0f0" stroke-opacity="0.4" stroke-width="0.6" fill="none"/>
<polygon points="388.1,72.7 388.9,79.4 391.9,72.6" fill="#fff" fill-opacity="0.08"/>
<polygon points="392.7,77.0 393.4,72.6 391.9,72.6 388.9,79.4 389.0,79.9 389.7,80.0" fill="#000" fill-opacity="0.16"/>
<path d="M389.7,80.0L392.7,77.0M392.7,77.0L393.4,72.6M389.0,79.9L389.7,80.0" stroke="#111" stroke-opacity="0.6" stroke-width="0.75" fill="none"/>
<path d="M393.4,72.6L388.1,72.7M388.1,72.7L389.0,79.9" stroke="#f0f0f0" stroke-opacity="0.4" stroke-width="0.6" fill="none"/>
<polygon points="276.8,113.5 276.8,121.7 282.1,119.2 277.0,113.4" fill="#fff" fill-opacity="0.08"/>
<polygon points="284.7,116.5 284.6,116.3 279.3,111.9 277.0,113.4 282.1,119.2 284.0,118.4" fill="#000" fill-opacity="0.18"/>
<path d="M284.0,118.4L284.7,116.5M284.7,116.5L284.6,116.3M276.8,121.7L284.0,118.4" stroke="#111" stroke-opacity="0.6" stroke-width="0.75" fill="none"/>
<path d="M284.6,116.3L279.3,111.9M279.3,111.9L276.8,113.5M276.8,113.5L276.8,121.7" stroke="#f0f0f0" stroke-opacity="0.4" stroke-width="0.6" fill="none"/>
<polygon points="276.8,121.7 276.8,128.1 279.7,129.0 282.2,126.8 279.9,120.3" fill="#fff" fill-opacity="0.19"/>
<polygon points="279.9,120.3 282.2,126.8 286.7,122.9 284.0,118.4" fill="#000" fill-opacity="0.20"/>
<path d="M276.8,128.1L279.7,129.0M279.7,129.0L286.7,122.9" stroke="#111" stroke-opacity="0.6" stroke-width="0.75" fill="none"/>
<path d="M284.0,118.4L276.8,121.7M276.8,121.7L276.8,128.1M286.7,122.9L284.0,118.4" stroke="#f0f0f0" stroke-opacity="0.4" stroke-width="0.6" fill="none"/>
<polygon points="333.6,104.2 338.6,102.7 337.2,101.2" fill="#fff" fill-opacity="0.22"/>
<polygon points="337.2,101.2 338.6,102.7 341.6,101.7 338.6,100.0" fill="#000" fill-opacity="0.05"/>
<path d="M333.6,104.2L341.6,101.7M341.6,101.7L338.6,100.0" stroke="#111" stroke-opacity="0.6" stroke-width="0.75" fill="none"/>
<path d="M338.6,100.0L333.6,104.2" stroke="#f0f0f0" stroke-opacity="0.4" stroke-width="0.6" fill="none"/>
<polygon points="307.3,53.0 318.0,48.2 314.7,45.4 306.1,51.1" fill="#fff" fill-opacity="0.23"/>
<polygon points="310.1,57.4 318.4,48.5 318.0,48.2 307.3,53.0" fill="#000" fill-opacity="0.08"/>
<path d="M306.1,51.1L310.1,57.4M310.1,57.4L318.4,48.5" stroke="#111" stroke-opacity="0.6" stroke-width="0.75" fill="none"/>
<path d="M318.4,48.5L314.7,45.4M314.7,45.4L306.1,51.1" stroke="#f0f0f0" stroke-opacity="0.4" stroke-width="0.6" fill="none"/>
<polygon points="404.0,44.1 402.1,50.3 402.4,55.3 402.5,55.4 408.8,49.3 407.6,46.0" fill="#fff" fill-opacity="0.14"/>
<polygon points="407.7,58.8 411.1,55.1 408.8,49.3 402.5,55.4" fill="#000" fill-opacity="0.17"/>
<path d="M402.4,55.3L407.7,58.8M407.7,58.8L411.1,55.1M411.1,55.1L407.6,46.0" stroke="#111" stroke-opacity="0.6" stroke-width="0.75" fill="none"/>
<path d="M407.6,46.0L404.0,44.1M404.0,44.1L402.1,50.3M402.1,50.3L402.4,55.3" stroke="#f0f0f0" stroke-opacity="0.4" stroke-width="0.6" fill="none"/>
<polygon points="391.7,124.8 393.0,121.8 392.9,121.3 384.5,117.0 384.0,117.5 383.9,118.1 385.9,123.9" fill="#fff" fill-opacity="0.19"/>
<polygon points="390.3,111.6 384.5,117.0 392.9,121.3" fill="#000" fill-opacity="0.14"/>
<path d="M385.9,123.9L391.7,124.8M391.7,124.8L393.0,121.8" stroke="#111" stroke-opacity="0.6" stroke-width="0.75" fill="none"/>
<path d="M393.0,121.8L390.3,111.6M390.3,111.6L384.0,117.5M384.0,117.5L383.9,118.1M383.9,118.1L385.9,123.9" stroke="#f0f0f0" stroke-opacity="0.4" stroke-width="0.6" fill="none"/>
<polygon points="355.3,112.7 362.4,112.0 359.9,106.0 359.7,105.8 358.9,106.2 357.6,107.3" fill="#fff" fill-opacity="0.18"/>
<polygon points="352.8,118.8 352.9,119.0 353.0,119.1 363.0,113.4 362.4,112.0 355.3,112.7" fill="#000" fill-opacity="0.03"/>
<path d="M352.8,118.8L352.9,119.0M352.9,119.0L353.0,119.1M353.0,119.1L363.0,113.4" stroke="#111" stroke-opacity="0.6" stroke-width="0.75" fill="none"/>
<path d="M357.6,107.3L352.8,118.8M363.0,113.4L359.9,106.0M359.9,106.0L359.7,105.8M359.7,105.8L358.9,106.2M358.9,106.2L357.6,107.3" stroke="#f0f0f0" stroke-opacity="0.4" stroke-width="0.6" fill="none"/>
<polygon points="373.9,141.0 380.2,143.2 380.7,142.8 380.7,141.2 372.9,134.8 372.8,135.0" fill="#fff" fill-opacity="0.29"/>
<polygon points="380.6,135.6 374.5,133.6 373.0,134.4 372.9,134.8 380.7,141.2" fill="#000" fill-opacity="0.09"/>
<path d="M373.9,141.0L380.2,143.2M380.2,143.2L380.7,142.8M380.7,142.8L380.6,135.6" stroke="#111" stroke-opacity="0.6" stroke-width="0.75" fill="none"/>
<path d="M372.8,135.0L373.9,141.0M380.6,135.6L374.5,133.6M374.5,133.6L373.0,134.4M373.0,134.4L372.8,135.0" stroke="#f0f0f0" stroke-opacity="0.4" stroke-width="0.6" fill="none"/>
<polygon points="385.9,123.9 385.8,123.7 378.4,122.6 376.6,124.0 377.5,126.5 384.9,125.3" fill="#fff" fill-opacity="0.21"/>
<polygon points="383.9,118.1 378.4,122.6 385.8,123.7" fill="#000" fill-opacity="0.01"/>
<path d="M384.9,125.3L385.9,123.9M377.5,126.5L384.9,125.3" stroke="#111" stroke-opacity="0.6" stroke-width="0.75" fill="none"/>
<path d="M385.9,123.9L383.9,118.1M383.9,118.1L376.6,124.0M376.6,124.0L377.5,126.5" stroke="#f0f0f0" stroke-opacity="0.4" stroke-width="0.6" fill="none"/>
<polygon points="392.7,77.0 389.7,80.0 390.2,80.5 399.9,79.6 400.1,79.5 399.9,78.4" fill="#fff" fill-opacity="0.08"/>
<polygon points="393.4,84.2 399.9,79.6 390.2,80.5" fill="#000" fill-opacity="0.23"/>
<path d="M389.7,80.0L393.4,84.2M393.4,84.2L400.1,79.5M400.1,79.5L399.9,78.4" stroke="#111" stroke-opacity="0.6" stroke-width="0.75" fill="none"/>
<path d="M399.9,78.4L392.7,77.0M392.7,77.0L389.7,80.0" stroke="#f0f0f0" stroke-opacity="0.4" stroke-width="0.6" fill="none"/>
<polygon points="424.0,48.8 423.3,46.3 415.2,46.1 418.5,52.8 420.4,53.1 420.9,53.0" fill="#fff" fill-opacity="0.18"/>
<polygon points="422.3,42.6 419.7,39.3 414.8,42.2 414.1,44.0 415.2,46.1 423.3,46.3" fill="#000" fill-opacity="0.01"/>
<path d="M420.9,53.0L424.0,48.8M424.0,48.8L422.3,42.6M414.1,44.0L418.5,52.8M418.5,52.8L420.4,53.1M420.4,53.1L420.9,53.0" stroke="#111" stroke-opacity="0.6" stroke-width="0.75" fill="none"/>
<path d="M422.3,42.6L419.7,39.3M419.7,39.3L414.8,42.2M414.8,42.2L414.1,44.0" stroke="#f0f0f0" stroke-opacity="0.4" stroke-width="0.6" fill="none"/>
<polygon points="295.7,132.0 287.5,135.9 287.1,138.2 287.4,139.6 290.1,140.0 299.8,133.2" fill="#fff" fill-opacity="0.17"/>
<polygon points="299.8,133.2 290.1,140.0 294.0,140.4 303.5,136.8 304.3,136.0 304.5,134.6" fill="#000" fill-opacity="0.07"/>
<path d="M287.4,139.6L294.0,140.4M294.0,140.4L303.5,136.8M303.5,136.8L304.3,136.0M304.3,136.0L304.5,134.6" stroke="#111" stroke-opacity="0.6" stroke-width="0.75" fill="none"/>
<path d="M304.5,134.6L295.7,132.0M295.7,132.0L287.5,135.9M287.5,135.9L287.1,138.2M287.1,138.2L287.4,139.6" stroke="#f0f0f0" stroke-opacity="0.4" stroke-width="0.6" fill="none"/>
<polygon points="375.4,106.8 371.4,107.9 367.3,114.7 375.9,111.9" fill="#fff" fill-opacity="0.18"/>
<polygon points="372.4,118.9 376.2,114.5 375.9,111.9 367.3,114.7 366.6,115.8 371.0,118.7" fill="#000" fill-opacity="0.03"/>
<path d="M371.0,118.7L372.4,118.9M372.4,118.9L376.2,114.5M366.6,115.8L371.0,118.7" stroke="#111" stroke-opacity="0.6" stroke-width="0.75" fill="none"/>
<path d="M376.2,114.5L375.4,106.8M375.4,106.8L371.4,107.9M371.4,107.9L366.6,115.8" stroke="#f0f0f0" stroke-opacity="0.4" stroke-width="0.6" fill="none"/>
<polygon points="295.3,99.0 292.5,95.8 291.9,96.0 295.5,100.9" fill="#fff" fill-opacity="0.01"/>
<polygon points="295.1,96.6 293.7,95.4 292.5,95.8 295.3,99.0" fill="#000" fill-opacity="0.20"/>
<path d="M295.5,100.9L295.1,96.6M291.9,96.0L295.5,100.9" stroke="#111" stroke-opacity="0.6" stroke-width="0.75" fill="none"/>
<path d="M295.1,96.6L293.7,95.4M293.7,95.4L291.9,96.0" stroke="#f0f0f0" stroke-opacity="0.4" stroke-width="0.6" fill="none"/>
<polygon points="336.4,111.7 344.0,114.0 345.4,111.5 338.9,107.8" fill="#fff" fill-opacity="0.04"/>
<polygon points="343.2,104.3 339.0,107.6 338.9,107.8 345.4,111.5 346.7,109.2 343.5,104.4" fill="#000" fill-opacity="0.23"/>
<path d="M336.4,111.7L344.0,114.0M344.0,114.0L346.7,109.2" stroke="#111" stroke-opacity="0.6" stroke-width="0.75" fill="none"/>
<path d="M343.5,104.4L343.2,104.3M343.2,104.3L339.0,107.6M339.0,107.6L336.4,111.7M346.7,109.2L343.5,104.4" stroke="#f0f0f0" stroke-opacity="0.4" stroke-width="0.6" fill="none"/>
<polygon points="394.1,71.6 393.4,72.6 392.7,77.0 396.2,77.7 396.9,72.9" fill="#fff" fill-opacity="0.13"/>
<polygon points="396.9,72.9 396.2,77.7 399.9,78.4 400.9,74.7" fill="#000" fill-opacity="0.03"/>
<path d="M392.7,77.0L399.9,78.4M399.9,78.4L400.9,74.7" stroke="#111" stroke-opacity="0.6" stroke-width="0.75" fill="none"/>
<path d="M400.9,74.7L394.1,71.6M394.1,71.6L393.4,72.6M393.4,72.6L392.7,77.0" stroke="#f0f0f0" stroke-opacity="0.4" stroke-width="0.6" fill="none"/>
<polygon points="415.1,69.9 412.3,68.7 410.3,73.4 410.4,73.6 410.6,73.5 415.1,70.1" fill="#fff" fill-opacity="0.04"/>
<polygon points="415.8,66.8 414.9,65.6 414.5,65.3 413.9,65.1 412.3,68.7 415.1,69.9" fill="#000" fill-opacity="0.14"/>
<path d="M415.1,70.1L415.8,66.8M410.3,73.4L410.4,73.6M410.4,73.6L410.6,73.5M410.6,73.5L415.1,70.1" stroke="#111" stroke-opacity="0.6" stroke-width="0.75" fill="none"/>
<path d="M415.8,66.8L414.9,65.6M414.9,65.6L414.5,65.3M414.5,65.3L413.9,65.1M413.9,65.1L410.3,73.4" stroke="#f0f0f0" stroke-opacity="0.4" stroke-width="0.6" fill="none"/>
<polygon points="382.1,101.8 387.9,106.4 390.6,96.2 383.8,97.0" fill="#fff" fill-opacity="0.22"/>
<polygon points="391.4,109.1 392.0,109.0 394.9,100.9 393.9,95.8 390.6,96.2 387.9,106.4" fill="#000" fill-opacity="0.12"/>
<path d="M382.1,101.8L391.4,109.1M391.4,109.1L392.0,109.0M392.0,109.0L394.9,100.9M394.9,100.9L393.9,95.8" stroke="#111" stroke-opacity="0.6" stroke-width="0.75" fill="none"/>
<path d="M383.8,97.0L382.1,101.8M393.9,95.8L383.8,97.0" stroke="#f0f0f0" stroke-opacity="0.4" stroke-width="0.6" fill="none"/>
<polygon points="276.8,89.1 277.0,89.1 279.8,86.2 279.7,85.6 276.8,86.2" fill="#fff" fill-opacity="0.16"/>
<polygon points="280.3,89.3 279.8,86.2 277.0,89.1" fill="#000" fill-opacity="0.15"/>
<path d="M276.8,89.1L280.3,89.3M280.3,89.3L279.7,85.6" stroke="#111" stroke-opacity="0.6" stroke-width="0.75" fill="none"/>
<path d="M276.8,86.2L276.8,89.1M279.7,85.6L276.8,86.2" stroke="#f0f0f0" stroke-opacity="0.4" stroke-width="0.6" fill="none"/>
<polygon points="321.7,119.2 323.8,123.1 330.8,122.7 331.5,122.2 326.7,113.3 323.0,116.3" fill="#fff" fill-opacity="0.16"/>
<polygon points="334.6,119.9 334.8,113.0 330.6,110.1 326.7,113.3 331.5,122.2" fill="#000" fill-opacity="0.01"/>
<path d="M321.7,119.2L323.8,123.1M323.8,123.1L330.8,122.7M330.8,122.7L334.6,119.9M334.6,119.9L334.8,113.0" stroke="#111" stroke-opacity="0.6" stroke-width="0.75" fill="none"/>
<path d="M323.0,116.3L321.7,119.2M334.8,113.0L330.6,110.1M330.6,110.1L323.0,116.3" stroke="#f0f0f0" stroke-opacity="0.4" stroke-width="0.6" fill="none"/>
<polygon points="297.3,145.0 300.0,145.0 298.2,138.9 294.0,140.4" fill="#fff" fill-opacity="0.06"/>
<polygon points="300.1,145.0 303.5,136.8 298.2,138.9 300.0,145.0" fill="#000" fill-opacity="0.24"/>
<path d="M297.3,145.0L300.1,145.0M300.1,145.0L303.5,136.8" stroke="#111" stroke-opacity="0.6" stroke-width="0.75" fill="none"/>
<path d="M294.0,140.4L297.3,145.0M303.5,136.8L294.0,140.4" stroke="#f0f0f0" stroke-opacity="0.4" stroke-width="0.6" fill="none"/>
<polygon points="421.3,130.6 423.5,136.7 425.0,137.3 425.0,133.8 422.1,127.6" fill="#fff" fill-opacity="0.04"/>
<polygon points="422.1,127.6 425.0,133.8 425.0,124.6 422.4,126.4" fill="#000" fill-opacity="0.10"/>
<path d="M421.3,130.6L423.5,136.7M423.5,136.7L425.0,137.3M425.0,137.3L425.0,124.6" stroke="#111" stroke-opacity="0.6" stroke-width="0.75" fill="none"/>
<path d="M422.4,126.4L421.3,130.6M425.0,124.6L422.4,126.4" stroke="#f0f0f0" stroke-opacity="0.4" stroke-width="0.6" fill="none"/>
<polygon points="297.5,71.1 290.7,76.5 295.2,77.7 299.8,72.6" fill="#fff" fill-opacity="0.14"/>
<polygon points="302.2,76.7 301.7,73.9 299.8,72.6 295.2,77.7 298.6,78.7 301.6,77.7" fill="#000" fill-opacity="0.07"/>
<path d="M301.6,77.7L302.2,76.7M302.2,76.7L301.7,73.9M290.7,76.5L298.6,78.7M298.6,78.7L301.6,77.7" stroke="#111" stroke-opacity="0.6" stroke-width="0.75" fill="none"/>
<path d="M301.7,73.9L297.5,71.1M297.5,71.1L290.7,76.5" stroke="#f0f0f0" stroke-opacity="0.4" stroke-width="0.6" fill="none"/>
<polygon points="312.5,80.2 316.1,80.4 314.8,78.4 308.4,75.8 307.2,77.9" fill="#fff" fill-opacity="0.10"/>
<polygon points="310.7,71.9 308.4,75.8 314.8,78.4" fill="#000" fill-opacity="0.13"/>
<path d="M307.2,77.9L312.5,80.2M312.5,80.2L316.1,80.4M316.1,80.4L310.7,71.9" stroke="#111" stroke-opacity="0.6" stroke-width="0.75" fill="none"/>
<path d="M310.7,71.9L307.2,77.9" stroke="#f0f0f0" stroke-opacity="0.4" stroke-width="0.6" fill="none"/>
<polygon points="327.6,138.8 325.7,143.5 327.7,143.0 328.7,141.9 328.8,138.3" fill="#fff" fill-opacity="0.13"/>
<polygon points="331.9,137.0 328.8,138.3 328.7,141.9 332.2,137.9" fill="#000" fill-opacity="0.05"/>
<path d="M325.7,143.5L327.7,143.0M327.7,143.0L332.2,137.9" stroke="#111" stroke-opacity="0.6" stroke-width="0.75" fill="none"/>
<path d="M332.2,137.9L331.9,137.0M331.9,137.0L327.6,138.8M327.6,138.8L325.7,143.5" stroke="#f0f0f0" stroke-opacity="0.4" stroke-width="0.6" fill="none"/>
<polygon points="282.1,71.7 281.4,71.4 276.8,77.1 276.8,77.6 276.8,77.6 283.0,75.2" fill="#fff" fill-opacity="0.08"/>
<polygon points="281.4,79.3 283.8,78.6 283.0,75.2 276.8,77.6 278.3,78.7" fill="#000" fill-opacity="0.27"/>
<path d="M278.3,78.7L281.4,79.3M281.4,79.3L283.8,78.6M283.8,78.6L282.1,71.7M276.8,77.6L278.3,78.7" stroke="#111" stroke-opacity="0.6" stroke-width="0.75" fill="none"/>
<path d="M282.1,71.7L281.4,71.4M281.4,71.4L276.8,77.1M276.8,77.1L276.8,77.6" stroke="#f0f0f0" stroke-opacity="0.4" stroke-width="0.6" fill="none"/>
<polygon points="402.3,130.2 403.1,131.0 407.1,131.9 406.8,124.0 402.7,127.4" fill="#fff" fill-opacity="0.12"/>
<polygon points="409.6,132.5 411.0,128.1 408.6,122.5 406.8,124.0 407.1,131.9" fill="#000" fill-opacity="0.09"/>
<path d="M403.1,131.0L409.6,132.5M409.6,132.5L411.0,128.1" stroke="#111" stroke-opacity="0.6" stroke-width="0.75" fill="none"/>
<path d="M402.7,127.4L402.3,130.2M402.3,130.2L403.1,131.0M411.0,128.1L408.6,122.5M408.6,122.5L402.7,127.4" stroke="#f0f0f0" stroke-opacity="0.4" stroke-width="0.6" fill="none"/>
<polygon points="367.6,41.5 369.8,43.8 374.4,45.0 379.4,41.7 368.6,38.8" fill="#fff" fill-opacity="0.15"/>
<polygon points="380.2,38.4 375.0,35.3 368.8,38.2 368.6,38.8 379.4,41.7 381.2,40.4" fill="#000" fill-opacity="0.18"/>
<path d="M381.2,40.4L380.2,38.4M369.8,43.8L374.4,45.0M374.4,45.0L381.2,40.4" stroke="#111" stroke-opacity="0.6" stroke-width="0.75" fill="none"/>
<path d="M380.2,38.4L375.0,35.3M375.0,35.3L368.8,38.2M368.8,38.2L367.6,41.5M367.6,41.5L369.8,43.8" stroke="#f0f0f0" stroke-opacity="0.4" stroke-width="0.6" fill="none"/>
<polygon points="301.6,77.7 298.6,78.7 295.2,81.4 295.0,83.3 295.6,83.8 301.8,82.7" fill="#fff" fill-opacity="0.05"/>
<polygon points="302.0,89.6 301.8,82.7 295.6,83.8 301.3,89.6" fill="#000" fill-opacity="0.08"/>
<path d="M301.3,89.6L302.0,89.6M302.0,89.6L301.6,77.7M295.0,83.3L301.3,89.6" stroke="#111" stroke-opacity="0.6" stroke-width="0.75" fill="none"/>
<path d="M301.6,77.7L298.6,78.7M298.6,78.7L295.2,81.4M295.2,81.4L295.0,83.3" stroke="#f0f0f0" stroke-opacity="0.4" stroke-width="0.6" fill="none"/>
<polygon points="347.4,85.1 342.6,87.4 345.8,94.9 349.9,95.6 349.5,85.9" fill="#fff" fill-opacity="0.23"/>
<polygon points="349.5,85.9 349.9,95.6 351.6,95.9 356.3,94.9 355.2,88.0" fill="#000" fill-opacity="0.13"/>
<path d="M345.8,94.9L351.6,95.9M351.6,95.9L356.3,94.9M356.3,94.9L355.2,88.0" stroke="#111" stroke-opacity="0.6" stroke-width="0.75" fill="none"/>
<path d="M355.2,88.0L347.4,85.1M347.4,85.1L342.6,87.4M342.6,87.4L345.8,94.9" stroke="#f0f0f0" stroke-opacity="0.4" stroke-width="0.6" fill="none"/>
<polygon points="279.7,129.0 286.5,133.3 287.5,129.8 282.5,126.6" fill="#fff" fill-opacity="0.15"/>
<polygon points="282.5,126.6 287.5,129.8 288.4,126.8 287.4,123.5 286.7,122.9" fill="#000" fill-opacity="0.06"/>
<path d="M279.7,129.0L286.5,133.3M286.5,133.3L288.4,126.8" stroke="#111" stroke-opacity="0.6" stroke-width="0.75" fill="none"/>
<path d="M286.7,122.9L279.7,129.0M288.4,126.8L287.4,123.5M287.4,123.5L286.7,122.9" stroke="#f0f0f0" stroke-opacity="0.4" stroke-width="0.6" fill="none"/>
<polygon points="365.4,131.9 367.7,137.7 369.4,136.8 367.7,130.3 366.5,129.4 365.9,129.4" fill="#fff" fill-opacity="0.18"/>
<polygon points="372.8,135.0 373.0,134.4 367.7,130.3 369.4,136.8" fill="#000" fill-opacity="0.01"/>
<path d="M367.7,137.7L372.8,135.0M372.8,135.0L373.0,134.4" stroke="#111" stroke-opacity="0.6" stroke-width="0.75" fill="none"/>
<path d="M365.9,129.4L365.4,131.9M365.4,131.9L367.7,137.7M373.0,134.4L366.5,129.4M366.5,129.4L365.9,129.4" stroke="#f0f0f0" stroke-opacity="0.4" stroke-width="0.6" fill="none"/>
<polygon points="306.2,47.4 313.5,43.4 310.8,39.2 307.5,44.0" fill="#fff" fill-opacity="0.12"/>
<polygon points="305.0,50.4 306.1,51.1 314.7,45.4 313.5,43.4 306.2,47.4" fill="#000" fill-opacity="0.10"/>
<path d="M305.0,50.4L306.1,51.1M306.1,51.1L314.7,45.4" stroke="#111" stroke-opacity="0.6" stroke-width="0.75" fill="none"/>
<path d="M307.5,44.0L305.0,50.4M314.7,45.4L310.8,39.2M310.8,39.2L307.5,44.0" stroke="#f0f0f0" stroke-opacity="0.4" stroke-width="0.6" fill="none"/>
<polygon points="276.8,101.2 276.8,102.6 281.4,101.5 283.8,97.0 283.7,96.9 281.7,97.0" fill="#fff" fill-opacity="0.17"/>
<polygon points="276.8,107.6 278.0,107.9 281.4,101.5 276.8,102.6" fill="#000" fill-opacity="0.01"/>
<path d="M276.8,101.2L276.8,107.6M276.8,107.6L278.0,107.9M278.0,107.9L283.8,97.0" stroke="#111" stroke-opacity="0.6" stroke-width="0.75" fill="none"/>
<path d="M281.7,97.0L276.8,101.2M283.8,97.0L283.7,96.9M283.7,96.9L281.7,97.0" stroke="#f0f0f0" stroke-opacity="0.4" stroke-width="0.6" fill="none"/>
<polygon points="285.4,98.1 285.9,105.4 292.4,102.9 292.3,102.5" fill="#fff" fill-opacity="0.20"/>
<polygon points="286.0,107.1 286.3,107.6 293.1,108.8 292.4,102.9 285.9,105.4" fill="#000" fill-opacity="0.12"/>
<path d="M286.0,107.1L286.3,107.6M286.3,107.6L293.1,108.8M293.1,108.8L292.3,102.5" stroke="#111" stroke-opacity="0.6" stroke-width="0.75" fill="none"/>
<path d="M292.3,102.5L285.4,98.1M285.4,98.1L286.0,107.1" stroke="#f0f0f0" stroke-opacity="0.4" stroke-width="0.6" fill="none"/>
<polygon points="357.4,39.6 355.6,42.7 355.8,44.6 356.6,46.5 357.6,46.9 361.1,41.6" fill="#fff" fill-opacity="0.15"/>
<polygon points="361.1,41.6 357.6,46.9 363.0,48.8 362.1,42.1" fill="#000" fill-opacity="0.12"/>
<path d="M356.6,46.5L363.0,48.8M363.0,48.8L362.1,42.1" stroke="#111" stroke-opacity="0.6" stroke-width="0.75" fill="none"/>
<path d="M362.1,42.1L357.4,39.6M357.4,39.6L355.6,42.7M355.6,42.7L355.8,44.6M355.8,44.6L356.6,46.5" stroke="#f0f0f0" stroke-opacity="0.4" stroke-width="0.6" fill="none"/>
<polygon points="366.5,129.4 373.0,134.4 374.5,133.6 374.9,132.5 368.8,128.2" fill="#fff" fill-opacity="0.17"/>
<polygon points="368.8,128.2 374.9,132.5 376.3,128.1 368.8,128.2" fill="#000" fill-opacity="0.10"/>
<path d="M366.5,129.4L373.0,134.4M373.0,134.4L374.5,133.6M374.5,133.6L376.3,128.1" stroke="#111" stroke-opacity="0.6" stroke-width="0.75" fill="none"/>
<path d="M368.8,128.2L366.5,129.4M376.3,128.1L368.8,128.2" stroke="#f0f0f0" stroke-opacity="0.4" stroke-width="0.6" fill="none"/>
<polygon points="312.6,99.2 314.8,102.2 321.0,103.3 320.5,92.7" fill="#fff" fill-opacity="0.15"/>
<polygon points="327.1,90.4 325.5,88.6 320.5,92.7 321.0,103.3 323.3,103.6 323.4,103.6" fill="#000" fill-opacity="0.16"/>
<path d="M323.4,103.6L327.1,90.4M314.8,102.2L323.3,103.6M323.3,103.6L323.4,103.6" stroke="#111" stroke-opacity="0.6" stroke-width="0.75" fill="none"/>
<path d="M327.1,90.4L325.5,88.6M325.5,88.6L312.6,99.2M312.6,99.2L314.8,102.2" stroke="#f0f0f0" stroke-opacity="0.4" stroke-width="0.6" fill="none"/>
<polygon points="373.9,141.0 365.8,144.9 365.8,145.0 371.9,145.0 376.4,141.9" fill="#fff" fill-opacity="0.08"/>
<polygon points="376.4,141.9 371.9,145.0 379.8,145.0 380.2,143.2" fill="#000" fill-opacity="0.24"/>
<path d="M380.2,143.2L373.9,141.0M365.8,145.0L379.8,145.0M379.8,145.0L380.2,143.2" stroke="#111" stroke-opacity="0.6" stroke-width="0.75" fill="none"/>
<path d="M373.9,141.0L365.8,144.9M365.8,144.9L365.8,145.0" stroke="#f0f0f0" stroke-opacity="0.4" stroke-width="0.6" fill="none"/>
<polygon points="333.6,43.0 323.9,45.4 320.4,48.2 323.5,52.2 323.6,52.3 333.5,43.5" fill="#fff" fill-opacity="0.02"/>
<polygon points="333.5,43.5 323.6,52.3 329.6,54.8 330.7,54.4" fill="#000" fill-opacity="0.18"/>
<path d="M330.7,54.4L333.6,43.0M323.5,52.2L329.6,54.8M329.6,54.8L330.7,54.4" stroke="#111" stroke-opacity="0.6" stroke-width="0.75" fill="none"/>
<path d="M333.6,43.0L323.9,45.4M323.9,45.4L320.4,48.2M320.4,48.2L323.5,52.2" stroke="#f0f0f0" stroke-opacity="0.4" stroke-width="0.6" fill="none"/>
<polygon points="291.9,96.0 293.7,95.4 294.9,93.7 291.0,92.2 290.7,92.5 288.1,96.7" fill="#fff" fill-opacity="0.11"/>
<polygon points="297.4,90.2 294.2,89.0 291.0,92.2 294.9,93.7" fill="#000" fill-opacity="0.10"/>
<path d="M288.1,96.7L291.9,96.0M291.9,96.0L293.7,95.4M293.7,95.4L297.4,90.2" stroke="#111" stroke-opacity="0.6" stroke-width="0.75" fill="none"/>
<path d="M297.4,90.2L294.2,89.0M294.2,89.0L290.7,92.5M290.7,92.5L288.1,96.7" stroke="#f0f0f0" stroke-opacity="0.4" stroke-width="0.6" fill="none"/>
<polygon points="318.1,72.2 321.0,77.9 324.6,74.1 320.1,66.6 318.4,70.0" fill="#fff" fill-opacity="0.14"/>
<polygon points="327.1,71.4 327.2,66.4 326.8,66.0 320.3,66.3 320.1,66.6 324.6,74.1" fill="#000" fill-opacity="0.03"/>
<path d="M318.1,72.2L321.0,77.9M321.0,77.9L327.1,71.4M327.1,71.4L327.2,66.4" stroke="#111" stroke-opacity="0.6" stroke-width="0.75" fill="none"/>
<path d="M318.4,70.0L318.1,72.2M327.2,66.4L326.8,66.0M326.8,66.0L320.3,66.3M320.3,66.3L318.4,70.0" stroke="#f0f0f0" stroke-opacity="0.4" stroke-width="0.6" fill="none"/>
<polygon points="328.6,103.5 327.6,104.2 330.6,110.1 334.8,113.0 335.3,112.6 331.7,104.0" fill="#fff" fill-opacity="0.13"/>
<polygon points="331.7,104.0 335.3,112.6 336.4,111.7 339.0,107.6 333.5,104.3" fill="#000" fill-opacity="0.23"/>
<path d="M330.6,110.1L334.8,113.0M334.8,113.0L336.4,111.7M336.4,111.7L339.0,107.6" stroke="#111" stroke-opacity="0.6" stroke-width="0.75" fill="none"/>
<path d="M333.5,104.3L328.6,103.5M328.6,103.5L327.6,104.2M327.6,104.2L330.6,110.1M339.0,107.6L333.5,104.3" stroke="#f0f0f0" stroke-opacity="0.4" stroke-width="0.6" fill="none"/>
<polygon points="413.5,106.8 419.5,97.8 417.6,95.3 414.6,96.6 412.1,101.7" fill="#fff" fill-opacity="0.18"/>
<polygon points="414.3,109.7 414.5,109.7 421.5,103.2 422.2,101.3 419.5,97.8 413.5,106.8" fill="#000" fill-opacity="0.04"/>
<path d="M412.1,101.7L414.3,109.7M414.3,109.7L414.5,109.7M414.5,109.7L421.5,103.2M421.5,103.2L422.2,101.3" stroke="#111" stroke-opacity="0.6" stroke-width="0.75" fill="none"/>
<path d="M422.2,101.3L417.6,95.3M417.6,95.3L414.6,96.6M414.6,96.6L412.1,101.7" stroke="#f0f0f0" stroke-opacity="0.4" stroke-width="0.6" fill="none"/>
<polygon points="283.9,92.5 283.7,93.0 283.7,96.9 283.8,97.0 284.9,97.7 289.9,87.5 289.9,87.1" fill="#fff" fill-opacity="0.07"/>
<polygon points="285.2,97.8 288.1,96.7 290.7,92.5 289.9,87.5 284.9,97.7" fill="#000" fill-opacity="0.24"/>
<path d="M283.7,96.9L283.8,97.0M283.8,97.0L285.2,97.8M285.2,97.8L288.1,96.7M288.1,96.7L290.7,92.5" stroke="#111" stroke-opacity="0.6" stroke-width="0.75" fill="none"/>
<path d="M289.9,87.1L283.9,92.5M283.9,92.5L283.7,93.0M283.7,93.0L283.7,96.9M290.7,92.5L289.9,87.1" stroke="#f0f0f0" stroke-opacity="0.4" stroke-width="0.6" fill="none"/>
<polygon points="282.1,71.7 283.5,71.8 287.6,67.7 284.8,66.4 281.2,71.0 281.4,71.4" fill="#fff" fill-opacity="0.16"/>
<polygon points="287.8,72.1 290.0,68.9 287.6,67.7 283.5,71.8" fill="#000" fill-opacity="0.06"/>
<path d="M282.1,71.7L287.8,72.1M287.8,72.1L290.0,68.9" stroke="#111" stroke-opacity="0.6" stroke-width="0.75" fill="none"/>
<path d="M281.4,71.4L282.1,71.7M290.0,68.9L284.8,66.4M284.8,66.4L281.2,71.0M281.2,71.0L281.4,71.4" stroke="#f0f0f0" stroke-opacity="0.4" stroke-width="0.6" fill="none"/>
<polygon points="370.5,82.4 370.2,81.4 356.7,86.6 355.2,88.0 355.9,92.2 370.0,84.7" fill="#000" fill-opacity="0.02"/>
<polygon points="370.0,84.7 355.9,92.2 356.3,94.9 357.4,95.7 368.9,90.1" fill="#000" fill-opacity="0.17"/>
<path d="M368.9,90.1L370.5,82.4M356.3,94.9L357.4,95.7M357.4,95.7L368.9,90.1" stroke="#111" stroke-opacity="0.6" stroke-width="0.75" fill="none"/>
<path d="M370.5,82.4L370.2,81.4M370.2,81.4L356.7,86.6M356.7,86.6L355.2,88.0M355.2,88.0L356.3,94.9" stroke="#f0f0f0" stroke-opacity="0.4" stroke-width="0.6" fill="none"/>
<polygon points="425.0,68.3 421.1,70.4 419.4,75.1 420.0,79.6 425.0,74.9" fill="#fff" fill-opacity="0.28"/>
<polygon points="425.0,74.9 420.0,79.6 420.7,84.9 425.0,84.8" fill="#000" fill-opacity="0.12"/>
<path d="M425.0,84.8L425.0,68.3M419.4,75.1L420.7,84.9M420.7,84.9L425.0,84.8" stroke="#111" stroke-opacity="0.6" stroke-width="0.75" fill="none"/>
<path d="M425.0,68.3L421.1,70.4M421.1,70.4L419.4,75.1" stroke="#f0f0f0" stroke-opacity="0.4" stroke-width="0.6" fill="none"/>
<polygon points="417.9,139.0 416.4,131.5 410.0,132.7 410.9,137.1" fill="#fff" fill-opacity="0.08"/>
<polygon points="421.0,139.8 423.5,136.7 421.3,130.6 416.4,131.5 417.9,139.0" fill="#000" fill-opacity="0.27"/>
<path d="M410.9,137.1L421.0,139.8M421.0,139.8L423.5,136.7M423.5,136.7L421.3,130.6" stroke="#111" stroke-opacity="0.6" stroke-width="0.75" fill="none"/>
<path d="M421.3,130.6L410.0,132.7M410.0,132.7L410.9,137.1" stroke="#f0f0f0" stroke-opacity="0.4" stroke-width="0.6" fill="none"/>
<polygon points="370.5,82.4 384.0,92.0 384.9,91.2 385.8,84.3 370.2,81.4" fill="#fff" fill-opacity="0.15"/>
<polygon points="371.9,77.5 370.3,81.0 370.2,81.4 370.2,81.4 385.8,84.3 386.3,80.4 378.1,76.9" fill="#000" fill-opacity="0.14"/>
<path d="M370.5,82.4L384.0,92.0M384.0,92.0L384.9,91.2M384.9,91.2L386.3,80.4" stroke="#111" stroke-opacity="0.6" stroke-width="0.75" fill="none"/>
<path d="M378.1,76.9L371.9,77.5M371.9,77.5L370.3,81.0M370.3,81.0L370.2,81.4M370.2,81.4L370.5,82.4M386.3,80.4L378.1,76.9" stroke="#f0f0f0" stroke-opacity="0.4" stroke-width="0.6" fill="none"/>
<polygon points="284.4,84.2 281.9,83.9 279.9,84.8 279.7,85.6 280.3,88.9 284.3,86.4" fill="#fff" fill-opacity="0.09"/>
<polygon points="283.7,93.0 283.9,92.5 284.3,86.4 280.3,88.9 280.3,89.3" fill="#000" fill-opacity="0.10"/>
<path d="M280.3,89.3L283.7,93.0M283.7,93.0L283.9,92.5M283.9,92.5L284.4,84.2" stroke="#111" stroke-opacity="0.6" stroke-width="0.75" fill="none"/>
<path d="M284.4,84.2L281.9,83.9M281.9,83.9L279.9,84.8M279.9,84.8L279.7,85.6M279.7,85.6L280.3,89.3" stroke="#f0f0f0" stroke-opacity="0.4" stroke-width="0.6" fill="none"/>
<polygon points="402.4,55.3 393.1,56.0 394.0,60.6 407.7,60.1 407.7,58.8" fill="#fff" fill-opacity="0.08"/>
<polygon points="394.3,62.2 396.2,65.1 403.9,65.9 407.7,61.2 407.7,60.1 394.0,60.6" fill="#000" fill-opacity="0.12"/>
<path d="M394.3,62.2L396.2,65.1M396.2,65.1L403.9,65.9M403.9,65.9L407.7,61.2M407.7,61.2L407.7,58.8" stroke="#111" stroke-opacity="0.6" stroke-width="0.75" fill="none"/>
<path d="M407.7,58.8L402.4,55.3M402.4,55.3L393.1,56.0M393.1,56.0L394.3,62.2" stroke="#f0f0f0" stroke-opacity="0.4" stroke-width="0.6" fill="none"/>
<polygon points="378.7,54.9 373.9,56.6 377.0,61.7 379.2,55.4" fill="#fff" fill-opacity="0.14"/>
<polygon points="382.6,58.1 379.2,55.4 377.0,61.7 377.8,62.9" fill="#000" fill-opacity="0.26"/>
<path d="M377.8,62.9L382.6,58.1" stroke="#111" stroke-opacity="0.6" stroke-width="0.75" fill="none"/>
<path d="M382.6,58.1L378.7,54.9M378.7,54.9L373.9,56.6M373.9,56.6L377.8,62.9" stroke="#f0f0f0" stroke-opacity="0.4" stroke-width="0.6" fill="none"/>
<polygon points="287.4,139.6 286.1,145.0 289.5,145.0 292.7,140.3" fill="#fff" fill-opacity="0.10"/>
<polygon points="292.7,140.3 289.5,145.0 297.3,145.0 294.0,140.4" fill="#000" fill-opacity="0.14"/>
<path d="M286.1,145.0L297.3,145.0M297.3,145.0L294.0,140.4" stroke="#111" stroke-opacity="0.6" stroke-width="0.75" fill="none"/>
<path d="M294.0,140.4L287.4,139.6M287.4,139.6L286.1,145.0" stroke="#f0f0f0" stroke-opacity="0.4" stroke-width="0.6" fill="none"/>
<polygon points="339.1,68.6 339.4,71.3 344.0,71.1 345.1,70.1 341.9,66.8" fill="#fff" fill-opacity="0.14"/>
<polygon points="341.9,66.8 345.1,70.1 349.0,65.9 344.0,65.5 343.8,65.6" fill="#000" fill-opacity="0.11"/>
<path d="M339.4,71.3L344.0,71.1M344.0,71.1L349.0,65.9" stroke="#111" stroke-opacity="0.6" stroke-width="0.75" fill="none"/>
<path d="M343.8,65.6L339.1,68.6M339.1,68.6L339.4,71.3M349.0,65.9L344.0,65.5M344.0,65.5L343.8,65.6" stroke="#f0f0f0" stroke-opacity="0.4" stroke-width="0.6" fill="none"/>
<polygon points="279.7,129.0 276.8,128.1 276.8,133.6 282.9,136.5 280.5,129.5" fill="#fff" fill-opacity="0.16"/>
<polygon points="287.1,138.2 287.5,135.9 286.5,133.3 280.5,129.5 282.9,136.5 286.6,138.2" fill="#000" fill-opacity="0.10"/>
<path d="M286.6,138.2L287.1,138.2M287.1,138.2L287.5,135.9M287.5,135.9L286.5,133.3M276.8,133.6L286.6,138.2" stroke="#111" stroke-opacity="0.6" stroke-width="0.75" fill="none"/>
<path d="M286.5,133.3L279.7,129.0M279.7,129.0L276.8,128.1M276.8,128.1L276.8,133.6" stroke="#f0f0f0" stroke-opacity="0.4" stroke-width="0.6" fill="none"/>
<polygon points="400.5,97.6 394.9,100.9 393.0,106.3 399.4,103.1" fill="#fff" fill-opacity="0.12"/>
<polygon points="397.6,109.9 398.1,109.9 399.4,103.1 393.0,106.3 392.0,109.0" fill="#000" fill-opacity="0.16"/>
<path d="M392.0,109.0L397.6,109.9M397.6,109.9L398.1,109.9M398.1,109.9L400.5,97.6" stroke="#111" stroke-opacity="0.6" stroke-width="0.75" fill="none"/>
<path d="M400.5,97.6L394.9,100.9M394.9,100.9L392.0,109.0" stroke="#f0f0f0" stroke-opacity="0.4" stroke-width="0.6" fill="none"/>
<polygon points="380.7,142.8 380.2,143.2 380.0,144.2 385.6,143.6 385.1,142.5" fill="#000" fill-opacity="0.01"/>
<polygon points="379.8,145.0 386.2,145.0 385.6,143.6 380.0,144.2" fill="#000" fill-opacity="0.18"/>
<path d="M379.8,145.0L386.2,145.0M386.2,145.0L385.1,142.5" stroke="#111" stroke-opacity="0.6" stroke-width="0.75" fill="none"/>
<path d="M385.1,142.5L380.7,142.8M380.7,142.8L380.2,143.2M380.2,143.2L379.8,145.0" stroke="#f0f0f0" stroke-opacity="0.4" stroke-width="0.6" fill="none"/>
<polygon points="389.2,46.8 403.1,42.7 400.5,38.4 393.8,39.6 388.7,44.0 388.7,45.7" fill="#fff" fill-opacity="0.03"/>
<polygon points="389.8,48.4 402.1,50.3 404.0,44.1 403.1,42.7 389.2,46.8" fill="#000" fill-opacity="0.17"/>
<path d="M389.8,48.4L402.1,50.3M402.1,50.3L404.0,44.1" stroke="#111" stroke-opacity="0.6" stroke-width="0.75" fill="none"/>
<path d="M388.7,45.7L389.8,48.4M404.0,44.1L400.5,38.4M400.5,38.4L393.8,39.6M393.8,39.6L388.7,44.0M388.7,44.0L388.7,45.7" stroke="#f0f0f0" stroke-opacity="0.4" stroke-width="0.6" fill="none"/>
<polygon points="390.6,145.0 393.3,145.0 390.5,137.5 387.3,141.6" fill="#fff" fill-opacity="0.08"/>
<polygon points="395.6,145.0 396.3,143.7 394.8,139.9 392.4,137.1 390.8,137.0 390.5,137.5 393.3,145.0" fill="#000" fill-opacity="0.14"/>
<path d="M390.6,145.0L395.6,145.0M395.6,145.0L396.3,143.7M396.3,143.7L394.8,139.9" stroke="#111" stroke-opacity="0.6" stroke-width="0.75" fill="none"/>
<path d="M387.3,141.6L390.6,145.0M394.8,139.9L392.4,137.1M392.4,137.1L390.8,137.0M390.8,137.0L387.3,141.6" stroke="#f0f0f0" stroke-opacity="0.4" stroke-width="0.6" fill="none"/>
<polygon points="321.7,119.2 317.5,116.8 305.9,121.0 305.2,122.7 306.8,127.2 321.9,119.5" fill="#fff" fill-opacity="0.03"/>
<polygon points="323.8,123.1 321.9,119.5 306.8,127.2 307.4,128.9 321.0,127.4 321.5,127.2" fill="#000" fill-opacity="0.17"/>
<path d="M321.5,127.2L323.8,123.1M323.8,123.1L321.7,119.2M307.4,128.9L321.0,127.4M321.0,127.4L321.5,127.2" stroke="#111" stroke-opacity="0.6" stroke-width="0.75" fill="none"/>
<path d="M321.7,119.2L317.5,116.8M317.5,116.8L305.9,121.0M305.9,121.0L305.2,122.7M305.2,122.7L307.4,128.9" stroke="#f0f0f0" stroke-opacity="0.4" stroke-width="0.6" fill="none"/>
<polygon points="400.5,97.6 400.6,97.5 395.6,93.5 393.9,95.8 394.9,100.9" fill="#fff" fill-opacity="0.18"/>
<polygon points="402.5,95.3 400.8,91.1 397.6,90.7 395.6,93.5 400.6,97.5" fill="#000" fill-opacity="0.21"/>
<path d="M394.9,100.9L400.5,97.6M400.5,97.6L402.5,95.3M393.9,95.8L394.9,100.9" stroke="#111" stroke-opacity="0.6" stroke-width="0.75" fill="none"/>
<path d="M402.5,95.3L400.8,91.1M400.8,91.1L397.6,90.7M397.6,90.7L393.9,95.8" stroke="#f0f0f0" stroke-opacity="0.4" stroke-width="0.6" fill="none"/>
<polygon points="305.0,114.4 305.9,121.0 312.7,118.5 309.2,111.1" fill="#fff" fill-opacity="0.26"/>
<polygon points="309.2,111.1 312.7,118.5 317.5,116.8 313.8,107.4" fill="#000" fill-opacity="0.08"/>
<path d="M305.9,121.0L317.5,116.8M317.5,116.8L313.8,107.4" stroke="#111" stroke-opacity="0.6" stroke-width="0.75" fill="none"/>
<path d="M313.8,107.4L305.0,114.4M305.0,114.4L305.9,121.0" stroke="#f0f0f0" stroke-opacity="0.4" stroke-width="0.6" fill="none"/>
<polygon points="289.3,115.7 293.8,119.7 294.0,111.3" fill="#fff" fill-opacity="0.13"/>
<polygon points="294.5,110.8 294.0,111.3 293.8,119.7 295.1,120.9 296.4,121.2 296.3,111.4" fill="#000" fill-opacity="0.22"/>
<path d="M289.3,115.7L295.1,120.9M295.1,120.9L296.4,121.2M296.4,121.2L296.3,111.4" stroke="#111" stroke-opacity="0.6" stroke-width="0.75" fill="none"/>
<path d="M296.3,111.4L294.5,110.8M294.5,110.8L289.3,115.7" stroke="#f0f0f0" stroke-opacity="0.4" stroke-width="0.6" fill="none"/>
<polygon points="324.5,83.2 324.6,83.5 331.7,84.7 329.7,81.0" fill="#fff" fill-opacity="0.09"/>
<polygon points="329.7,81.0 331.7,84.7 335.6,85.5 332.4,79.8" fill="#000" fill-opacity="0.19"/>
<path d="M324.6,83.5L335.6,85.5M335.6,85.5L332.4,79.8" stroke="#111" stroke-opacity="0.6" stroke-width="0.75" fill="none"/>
<path d="M332.4,79.8L324.5,83.2M324.5,83.2L324.6,83.5" stroke="#f0f0f0" stroke-opacity="0.4" stroke-width="0.6" fill="none"/>
<polygon points="343.5,104.4 346.7,109.2 347.9,109.7 352.5,108.5 348.0,103.3" fill="#fff" fill-opacity="0.04"/>
<polygon points="348.0,103.3 352.5,108.5 357.6,107.3 358.9,106.2 352.8,103.6 348.9,103.0" fill="#000" fill-opacity="0.13"/>
<path d="M346.7,109.2L347.9,109.7M347.9,109.7L357.6,107.3M357.6,107.3L358.9,106.2M358.9,106.2L352.8,103.6" stroke="#111" stroke-opacity="0.6" stroke-width="0.75" fill="none"/>
<path d="M348.9,103.0L343.5,104.4M343.5,104.4L346.7,109.2M352.8,103.6L348.9,103.0" stroke="#f0f0f0" stroke-opacity="0.4" stroke-width="0.6" fill="none"/>
<polygon points="318.4,48.5 318.4,48.5 310.1,57.4 309.8,59.8 319.2,54.6" fill="#fff" fill-opacity="0.09"/>
<polygon points="319.2,54.6 309.8,59.8 309.8,59.9 313.2,61.4 314.7,61.6 318.0,61.2 319.8,60.2" fill="#000" fill-opacity="0.25"/>
<path d="M309.8,59.9L313.2,61.4M313.2,61.4L314.7,61.6M314.7,61.6L318.0,61.2M318.0,61.2L319.8,60.2" stroke="#111" stroke-opacity="0.6" stroke-width="0.75" fill="none"/>
<path d="M319.8,60.2L318.4,48.5M318.4,48.5L318.4,48.5M318.4,48.5L310.1,57.4M310.1,57.4L309.8,59.9" stroke="#f0f0f0" stroke-opacity="0.4" stroke-width="0.6" fill="none"/>
<polygon points="367.5,114.3 363.6,106.6 359.9,106.0 363.0,113.4 364.8,115.6 366.6,115.8" fill="#fff" fill-opacity="0.23"/>
<polygon points="371.4,107.9 363.6,106.6 367.5,114.3" fill="#000" fill-opacity="0.09"/>
<path d="M366.6,115.8L371.4,107.9M363.0,113.4L364.8,115.6M364.8,115.6L366.6,115.8" stroke="#111" stroke-opacity="0.6" stroke-width="0.75" fill="none"/>
<path d="M371.4,107.9L359.9,106.0M359.9,106.0L363.0,113.4" stroke="#f0f0f0" stroke-opacity="0.4" stroke-width="0.6" fill="none"/>
<polygon points="302.8,90.1 306.3,95.0 308.3,96.5 311.2,81.6" fill="#fff" fill-opacity="0.11"/>
<polygon points="316.7,80.5 316.1,80.4 312.5,80.2 311.2,81.6 308.3,96.5 309.8,97.6 310.0,97.6" fill="#000" fill-opacity="0.21"/>
<path d="M310.0,97.6L316.7,80.5M302.8,90.1L306.3,95.0M306.3,95.0L309.8,97.6M309.8,97.6L310.0,97.6" stroke="#111" stroke-opacity="0.6" stroke-width="0.75" fill="none"/>
<path d="M316.7,80.5L316.1,80.4M316.1,80.4L312.5,80.2M312.5,80.2L302.8,90.1" stroke="#f0f0f0" stroke-opacity="0.4" stroke-width="0.6" fill="none"/>
<polygon points="365.3,143.1 365.5,143.6 373.2,137.2 372.8,135.0 367.7,137.7" fill="#fff" fill-opacity="0.16"/>
<polygon points="365.8,144.9 373.9,141.0 373.2,137.2 365.5,143.6" fill="#000" fill-opacity="0.19"/>
<path d="M365.3,143.1L365.8,144.9M365.8,144.9L373.9,141.0M373.9,141.0L372.8,135.0" stroke="#111" stroke-opacity="0.6" stroke-width="0.75" fill="none"/>
<path d="M367.7,137.7L365.3,143.1M372.8,135.0L367.7,137.7" stroke="#f0f0f0" stroke-opacity="0.4" stroke-width="0.6" fill="none"/>
<polygon points="323.6,60.3 326.8,66.0 327.2,66.4 330.4,64.4 324.9,59.4 323.8,59.9" fill="#fff" fill-opacity="0.09"/>
<polygon points="332.4,63.2 327.7,57.8 324.9,59.4 330.4,64.4" fill="#000" fill-opacity="0.04"/>
<path d="M326.8,66.0L327.2,66.4M327.2,66.4L332.4,63.2" stroke="#111" stroke-opacity="0.6" stroke-width="0.75" fill="none"/>
<path d="M323.8,59.9L323.6,60.3M323.6,60.3L326.8,66.0M332.4,63.2L327.7,57.8M327.7,57.8L323.8,59.9" stroke="#f0f0f0" stroke-opacity="0.4" stroke-width="0.6" fill="none"/>
<polygon points="385.9,123.9 384.9,125.3 385.4,132.1 385.4,132.1 388.8,124.3" fill="#fff" fill-opacity="0.06"/>
<polygon points="391.7,124.8 388.8,124.3 385.4,132.1 392.1,125.6" fill="#000" fill-opacity="0.06"/>
<path d="M392.1,125.6L391.7,124.8M384.9,125.3L385.4,132.1M385.4,132.1L392.1,125.6" stroke="#111" stroke-opacity="0.6" stroke-width="0.75" fill="none"/>
<path d="M391.7,124.8L385.9,123.9M385.9,123.9L384.9,125.3" stroke="#f0f0f0" stroke-opacity="0.4" stroke-width="0.6" fill="none"/>
<polygon points="318.9,141.7 313.0,144.9 320.7,143.4 318.9,141.7" fill="#000" fill-opacity="0.01"/>
<polygon points="312.8,145.0 322.5,145.0 320.7,143.4 313.0,144.9" fill="#000" fill-opacity="0.14"/>
<path d="M312.8,145.0L322.5,145.0M322.5,145.0L318.9,141.7" stroke="#111" stroke-opacity="0.6" stroke-width="0.75" fill="none"/>
<path d="M318.9,141.7L318.9,141.7M318.9,141.7L312.8,145.0" stroke="#f0f0f0" stroke-opacity="0.4" stroke-width="0.6" fill="none"/>
<polygon points="394.8,139.9 402.4,138.0 402.6,136.2 395.2,134.9 392.4,137.1" fill="#fff" fill-opacity="0.10"/>
<polygon points="403.1,131.0 402.3,130.2 400.5,130.4 395.2,134.9 402.6,136.2" fill="#000" fill-opacity="0.14"/>
<path d="M392.4,137.1L394.8,139.9M394.8,139.9L402.4,138.0M402.4,138.0L403.1,131.0" stroke="#111" stroke-opacity="0.6" stroke-width="0.75" fill="none"/>
<path d="M403.1,131.0L402.3,130.2M402.3,130.2L400.5,130.4M400.5,130.4L392.4,137.1" stroke="#f0f0f0" stroke-opacity="0.4" stroke-width="0.6" fill="none"/>
<polygon points="333.4,144.4 333.3,145.0 335.3,145.0 339.8,143.1 339.7,142.5" fill="#fff" fill-opacity="0.01"/>
<polygon points="340.0,145.0 339.8,143.1 335.3,145.0" fill="#000" fill-opacity="0.13"/>
<path d="M333.3,145.0L340.0,145.0M340.0,145.0L339.7,142.5" stroke="#111" stroke-opacity="0.6" stroke-width="0.75" fill="none"/>
<path d="M339.7,142.5L333.4,144.4M333.4,144.4L333.3,145.0" stroke="#f0f0f0" stroke-opacity="0.4" stroke-width="0.6" fill="none"/>
<polygon points="356.6,46.5 357.4,50.4 363.1,49.3 363.0,48.8" fill="#fff" fill-opacity="0.01"/>
<polygon points="357.7,52.0 364.0,52.5 363.1,49.3 357.4,50.4" fill="#000" fill-opacity="0.11"/>
<path d="M357.7,52.0L364.0,52.5M364.0,52.5L363.0,48.8" stroke="#111" stroke-opacity="0.6" stroke-width="0.75" fill="none"/>
<path d="M363.0,48.8L356.6,46.5M356.6,46.5L357.7,52.0" stroke="#f0f0f0" stroke-opacity="0.4" stroke-width="0.6" fill="none"/>
<polygon points="374.4,45.0 374.3,46.9 380.5,52.2 382.8,50.4 379.8,41.4" fill="#fff" fill-opacity="0.02"/>
<polygon points="379.8,41.4 382.8,50.4 388.7,45.7 388.7,44.0 381.2,40.4" fill="#000" fill-opacity="0.10"/>
<path d="M374.3,46.9L380.5,52.2M380.5,52.2L388.7,45.7M388.7,45.7L388.7,44.0" stroke="#111" stroke-opacity="0.6" stroke-width="0.75" fill="none"/>
<path d="M381.2,40.4L374.4,45.0M374.4,45.0L374.3,46.9M388.7,44.0L381.2,40.4" stroke="#f0f0f0" stroke-opacity="0.4" stroke-width="0.6" fill="none"/>
<polygon points="351.6,52.4 349.8,52.6 353.1,59.4 355.3,52.8" fill="#fff" fill-opacity="0.17"/>
<polygon points="355.3,52.8 353.1,59.4 354.7,62.7 356.6,62.4 356.1,52.9" fill="#000" fill-opacity="0.12"/>
<path d="M354.7,62.7L356.6,62.4M356.6,62.4L356.1,52.9" stroke="#111" stroke-opacity="0.6" stroke-width="0.75" fill="none"/>
<path d="M356.1,52.9L351.6,52.4M351.6,52.4L349.8,52.6M349.8,52.6L354.7,62.7" stroke="#f0f0f0" stroke-opacity="0.4" stroke-width="0.6" fill="none"/>
<polygon points="314.2,70.0 310.4,70.2 310.7,71.9 314.4,77.9 317.5,71.8" fill="#fff" fill-opacity="0.05"/>
<polygon points="316.7,80.5 320.6,79.3 321.0,77.9 318.1,72.2 317.5,71.8 314.4,77.9 316.1,80.4" fill="#000" fill-opacity="0.24"/>
<path d="M316.1,80.4L316.7,80.5M316.7,80.5L320.6,79.3M320.6,79.3L321.0,77.9M321.0,77.9L318.1,72.2" stroke="#111" stroke-opacity="0.6" stroke-width="0.75" fill="none"/>
<path d="M318.1,72.2L314.2,70.0M314.2,70.0L310.4,70.2M310.4,70.2L310.7,71.9M310.7,71.9L316.1,80.4" stroke="#f0f0f0" stroke-opacity="0.4" stroke-width="0.6" fill="none"/>
<polygon points="425.0,41.5 422.3,42.6 423.3,46.2 425.0,43.0" fill="#fff" fill-opacity="0.09"/>
<polygon points="425.0,48.6 425.0,43.0 423.3,46.2 424.0,48.8" fill="#000" fill-opacity="0.20"/>
<path d="M424.0,48.8L425.0,48.6M425.0,48.6L425.0,41.5M422.3,42.6L424.0,48.8" stroke="#111" stroke-opacity="0.6" stroke-width="0.75" fill="none"/>
<path d="M425.0,41.5L422.3,42.6" stroke="#f0f0f0" stroke-opacity="0.4" stroke-width="0.6" fill="none"/>
<polygon points="283.0,45.2 280.6,48.3 279.8,50.8 281.5,51.5 290.0,52.8 287.5,43.2" fill="#fff" fill-opacity="0.17"/>
<polygon points="295.9,47.9 295.9,47.5 295.4,44.4 292.7,41.6 291.9,41.3 287.5,43.2 290.0,52.8 293.2,53.2" fill="#000" fill-opacity="0.02"/>
<path d="M293.2,53.2L295.9,47.9M295.9,47.9L295.9,47.5M295.9,47.5L295.4,44.4M281.5,51.5L293.2,53.2" stroke="#111" stroke-opacity="0.6" stroke-width="0.75" fill="none"/>
<path d="M295.4,44.4L292.7,41.6M292.7,41.6L291.9,41.3M291.9,41.3L283.0,45.2M283.0,45.2L280.6,48.3M280.6,48.3L279.8,50.8M279.8,50.8L281.5,51.5" stroke="#f0f0f0" stroke-opacity="0.4" stroke-width="0.6" fill="none"/>
<polygon points="353.1,135.6 353.8,142.9 359.0,145.0 361.8,145.0 354.2,135.9" fill="#fff" fill-opacity="0.14"/>
<polygon points="354.2,135.9 361.8,145.0 365.8,145.0 365.8,144.9 365.3,143.1 364.3,141.9 358.1,137.2" fill="#000" fill-opacity="0.02"/>
<path d="M353.8,142.9L359.0,145.0M359.0,145.0L365.8,145.0M365.8,145.0L365.8,144.9M365.8,144.9L365.3,143.1M365.3,143.1L364.3,141.9" stroke="#111" stroke-opacity="0.6" stroke-width="0.75" fill="none"/>
<path d="M358.1,137.2L353.1,135.6M353.1,135.6L353.8,142.9M364.3,141.9L358.1,137.2" stroke="#f0f0f0" stroke-opacity="0.4" stroke-width="0.6" fill="none"/>
<polygon points="277.7,67.2 276.8,67.1 276.8,73.1 280.2,69.9" fill="#fff" fill-opacity="0.21"/>
<polygon points="281.2,71.0 280.2,69.9 276.8,73.1 276.8,77.1 281.4,71.4" fill="#000" fill-opacity="0.14"/>
<path d="M281.4,71.4L281.2,71.0M276.8,77.1L281.4,71.4" stroke="#111" stroke-opacity="0.6" stroke-width="0.75" fill="none"/>
<path d="M281.2,71.0L277.7,67.2M277.7,67.2L276.8,67.1M276.8,67.1L276.8,77.1" stroke="#f0f0f0" stroke-opacity="0.4" stroke-width="0.6" fill="none"/>
<polygon points="297.3,104.9 296.5,101.9 296.3,101.8 295.4,106.0" fill="#fff" fill-opacity="0.14"/>
<polygon points="299.2,103.7 296.5,101.9 297.3,104.9" fill="#000" fill-opacity="0.12"/>
<path d="M295.4,106.0L299.2,103.7" stroke="#111" stroke-opacity="0.6" stroke-width="0.75" fill="none"/>
<path d="M299.2,103.7L296.3,101.8M296.3,101.8L295.4,106.0" stroke="#f0f0f0" stroke-opacity="0.4" stroke-width="0.6" fill="none"/>
<polygon points="400.1,79.5 393.4,84.2 394.1,88.3 397.6,90.7 397.7,90.7 400.9,80.4" fill="#fff" fill-opacity="0.15"/>
<polygon points="405.9,85.6 400.9,80.4 397.7,90.7 400.8,91.1" fill="#000" fill-opacity="0.24"/>
<path d="M400.8,91.1L405.9,85.6M394.1,88.3L397.6,90.7M397.6,90.7L400.8,91.1" stroke="#111" stroke-opacity="0.6" stroke-width="0.75" fill="none"/>
<path d="M405.9,85.6L400.1,79.5M400.1,79.5L393.4,84.2M393.4,84.2L394.1,88.3" stroke="#f0f0f0" stroke-opacity="0.4" stroke-width="0.6" fill="none"/>
<polygon points="397.6,109.9 392.0,109.0 391.4,109.1 390.3,111.6 391.9,117.4 397.6,112.3" fill="#fff" fill-opacity="0.00"/>
<polygon points="397.9,121.2 397.6,112.3 391.9,117.4 393.0,121.8" fill="#000" fill-opacity="0.12"/>
<path d="M393.0,121.8L397.9,121.2M397.9,121.2L397.6,109.9" stroke="#111" stroke-opacity="0.6" stroke-width="0.75" fill="none"/>
<path d="M397.6,109.9L392.0,109.0M392.0,109.0L391.4,109.1M391.4,109.1L390.3,111.6M390.3,111.6L393.0,121.8" stroke="#f0f0f0" stroke-opacity="0.4" stroke-width="0.6" fill="none"/>
<polygon points="373.7,121.6 370.2,126.4 377.0,125.2 376.6,124.0" fill="#fff" fill-opacity="0.10"/>
<polygon points="368.8,128.2 376.3,128.1 377.4,126.9 377.5,126.5 377.0,125.2 370.2,126.4" fill="#000" fill-opacity="0.09"/>
<path d="M368.8,128.2L376.3,128.1M376.3,128.1L377.4,126.9M377.4,126.9L377.5,126.5M377.5,126.5L376.6,124.0" stroke="#111" stroke-opacity="0.6" stroke-width="0.75" fill="none"/>
<path d="M376.6,124.0L373.7,121.6M373.7,121.6L368.8,128.2" stroke="#f0f0f0" stroke-opacity="0.4" stroke-width="0.6" fill="none"/>
<polygon points="411.0,80.1 419.8,77.8 419.4,75.1 416.1,73.4 410.6,73.5 410.4,73.6" fill="#fff" fill-opacity="0.15"/>
<polygon points="411.3,83.1 420.7,84.9 420.7,84.9 419.8,77.8 411.0,80.1" fill="#000" fill-opacity="0.15"/>
<path d="M411.3,83.1L420.7,84.9M420.7,84.9L420.7,84.9M420.7,84.9L419.4,75.1" stroke="#111" stroke-opacity="0.6" stroke-width="0.75" fill="none"/>
<path d="M410.4,73.6L411.3,83.1M419.4,75.1L416.1,73.4M416.1,73.4L410.6,73.5M410.6,73.5L410.4,73.6" stroke="#f0f0f0" stroke-opacity="0.4" stroke-width="0.6" fill="none"/>
<polygon points="384.9,91.2 384.0,92.0 383.8,97.0 387.5,96.6 393.5,88.5" fill="#fff" fill-opacity="0.29"/>
<polygon points="394.1,88.3 393.5,88.5 387.5,96.6 393.9,95.8 397.6,90.7" fill="#000" fill-opacity="0.11"/>
<path d="M397.6,90.7L394.1,88.3M383.8,97.0L393.9,95.8M393.9,95.8L397.6,90.7" stroke="#111" stroke-opacity="0.6" stroke-width="0.75" fill="none"/>
<path d="M394.1,88.3L384.9,91.2M384.9,91.2L384.0,92.0M384.0,92.0L383.8,97.0" stroke="#f0f0f0" stroke-opacity="0.4" stroke-width="0.6" fill="none"/>
<polygon points="310.8,39.2 314.7,45.4 318.4,48.5 318.4,48.5 320.4,48.2 323.7,45.6 311.5,37.8 310.8,38.9" fill="#fff" fill-opacity="0.04"/>
<polygon points="323.9,45.4 321.1,37.8 313.9,34.3 311.5,37.8 323.7,45.6" fill="#000" fill-opacity="0.12"/>
<path d="M314.7,45.4L318.4,48.5M318.4,48.5L318.4,48.5M318.4,48.5L320.4,48.2M320.4,48.2L323.9,45.4M323.9,45.4L321.1,37.8" stroke="#111" stroke-opacity="0.6" stroke-width="0.75" fill="none"/>
<path d="M310.8,38.9L310.8,39.2M310.8,39.2L314.7,45.4M321.1,37.8L313.9,34.3M313.9,34.3L310.8,38.9" stroke="#f0f0f0" stroke-opacity="0.4" stroke-width="0.6" fill="none"/>
<polygon points="365.7,67.6 371.2,74.8 376.2,67.6 368.4,63.8" fill="#fff" fill-opacity="0.23"/>
<polygon points="368.4,63.8 376.2,67.6 378.4,64.5 377.8,62.9 373.9,56.6 373.5,56.5" fill="#000" fill-opacity="0.10"/>
<path d="M365.7,67.6L371.2,74.8M371.2,74.8L378.4,64.5M378.4,64.5L377.8,62.9" stroke="#111" stroke-opacity="0.6" stroke-width="0.75" fill="none"/>
<path d="M373.5,56.5L365.7,67.6M377.8,62.9L373.9,56.6M373.9,56.6L373.5,56.5" stroke="#f0f0f0" stroke-opacity="0.4" stroke-width="0.6" fill="none"/>
<polygon points="323.8,59.9 327.7,57.8 328.2,57.0 323.6,54.9" fill="#fff" fill-opacity="0.03"/>
<polygon points="323.6,54.9 328.2,57.0 329.6,54.8 323.5,52.2" fill="#000" fill-opacity="0.11"/>
<path d="M323.8,59.9L327.7,57.8M327.7,57.8L329.6,54.8" stroke="#111" stroke-opacity="0.6" stroke-width="0.75" fill="none"/>
<path d="M323.5,52.2L323.8,59.9M329.6,54.8L323.5,52.2" stroke="#f0f0f0" stroke-opacity="0.4" stroke-width="0.6" fill="none"/>
<polygon points="385.9,68.0 389.6,68.5 393.6,62.4 385.4,65.8" fill="#fff" fill-opacity="0.16"/>
<polygon points="394.0,69.0 396.2,65.1 394.3,62.2 393.6,62.4 389.6,68.5" fill="#000" fill-opacity="0.18"/>
<path d="M385.9,68.0L394.0,69.0M394.0,69.0L396.2,65.1M396.2,65.1L394.3,62.2" stroke="#111" stroke-opacity="0.6" stroke-width="0.75" fill="none"/>
<path d="M385.4,65.8L385.9,68.0M394.3,62.2L385.4,65.8" stroke="#f0f0f0" stroke-opacity="0.4" stroke-width="0.6" fill="none"/>
<polygon points="327.2,66.4 327.1,71.4 331.6,72.4 336.3,62.3 332.4,63.2" fill="#fff" fill-opacity="0.26"/>
<polygon points="338.1,73.7 339.4,71.3 339.1,68.6 336.5,62.3 336.3,62.3 331.6,72.4" fill="#000" fill-opacity="0.11"/>
<path d="M327.1,71.4L338.1,73.7M338.1,73.7L339.4,71.3M339.4,71.3L339.1,68.6" stroke="#111" stroke-opacity="0.6" stroke-width="0.75" fill="none"/>
<path d="M332.4,63.2L327.2,66.4M327.2,66.4L327.1,71.4M339.1,68.6L336.5,62.3M336.5,62.3L332.4,63.2" stroke="#f0f0f0" stroke-opacity="0.4" stroke-width="0.6" fill="none"/>
<polygon points="295.5,100.9 295.7,101.4 296.0,101.5 297.8,99.2 295.2,98.2" fill="#fff" fill-opacity="0.22"/>
<polygon points="295.1,96.6 295.2,98.2 297.8,99.2 298.9,97.8" fill="#000" fill-opacity="0.10"/>
<path d="M295.5,100.9L295.7,101.4M295.7,101.4L296.0,101.5M296.0,101.5L298.9,97.8" stroke="#111" stroke-opacity="0.6" stroke-width="0.75" fill="none"/>
<path d="M298.9,97.8L295.1,96.6M295.1,96.6L295.5,100.9" stroke="#f0f0f0" stroke-opacity="0.4" stroke-width="0.6" fill="none"/>
<polygon points="403.9,65.9 404.2,68.5 413.7,65.6 413.9,65.1 407.7,61.2" fill="#fff" fill-opacity="0.05"/>
<polygon points="404.4,70.2 410.3,73.4 413.7,65.6 404.2,68.5" fill="#000" fill-opacity="0.19"/>
<path d="M404.4,70.2L410.3,73.4M410.3,73.4L413.9,65.1" stroke="#111" stroke-opacity="0.6" stroke-width="0.75" fill="none"/>
<path d="M407.7,61.2L403.9,65.9M403.9,65.9L404.4,70.2M413.9,65.1L407.7,61.2" stroke="#f0f0f0" stroke-opacity="0.4" stroke-width="0.6" fill="none"/>
<polygon points="371.2,74.8 371.9,77.5 378.1,76.9 379.2,75.9 378.3,64.6" fill="#fff" fill-opacity="0.09"/>
<polygon points="378.4,64.5 378.3,64.6 379.2,75.9 385.2,70.3 385.9,68.0 385.4,65.8 384.4,64.6" fill="#000" fill-opacity="0.13"/>
<path d="M371.2,74.8L371.9,77.5M371.9,77.5L378.1,76.9M378.1,76.9L385.2,70.3M385.2,70.3L385.9,68.0M385.9,68.0L385.4,65.8" stroke="#111" stroke-opacity="0.6" stroke-width="0.75" fill="none"/>
<path d="M384.4,64.6L378.4,64.5M378.4,64.5L371.2,74.8M385.4,65.8L384.4,64.6" stroke="#f0f0f0" stroke-opacity="0.4" stroke-width="0.6" fill="none"/>
<polygon points="386.1,132.8 392.6,128.1 393.2,127.0 392.1,125.6 385.4,132.1 385.3,132.3" fill="#fff" fill-opacity="0.19"/>
<polygon points="389.1,134.6 392.6,128.1 386.1,132.8" fill="#000" fill-opacity="0.12"/>
<path d="M385.3,132.3L389.1,134.6M389.1,134.6L393.2,127.0" stroke="#111" stroke-opacity="0.6" stroke-width="0.75" fill="none"/>
<path d="M393.2,127.0L392.1,125.6M392.1,125.6L385.4,132.1M385.4,132.1L385.3,132.3" stroke="#f0f0f0" stroke-opacity="0.4" stroke-width="0.6" fill="none"/>
<polygon points="358.4,36.4 359.8,33.7 357.2,33.7 358.0,36.6" fill="#000" fill-opacity="0.01"/>
<polygon points="362.6,33.7 359.8,33.7 358.4,36.4" fill="#000" fill-opacity="0.17"/>
<path d="M358.0,36.6L362.6,33.7" stroke="#111" stroke-opacity="0.6" stroke-width="0.75" fill="none"/>
<path d="M362.6,33.7L357.2,33.7M357.2,33.7L358.0,36.6" stroke="#f0f0f0" stroke-opacity="0.4" stroke-width="0.6" fill="none"/>
<polygon points="391.7,33.7 393.8,39.6 398.3,38.8 396.6,33.7" fill="#fff" fill-opacity="0.21"/>
<polygon points="404.1,33.7 396.6,33.7 398.3,38.8 400.5,38.4 403.9,34.4" fill="#000" fill-opacity="0.15"/>
<path d="M403.9,34.4L404.1,33.7M393.8,39.6L400.5,38.4M400.5,38.4L403.9,34.4" stroke="#111" stroke-opacity="0.6" stroke-width="0.75" fill="none"/>
<path d="M404.1,33.7L391.7,33.7M391.7,33.7L393.8,39.6" stroke="#f0f0f0" stroke-opacity="0.4" stroke-width="0.6" fill="none"/>
<polygon points="342.6,33.7 337.4,33.7 333.8,39.0 334.4,42.5 335.0,42.8 344.4,35.5" fill="#fff" fill-opacity="0.20"/>
<polygon points="346.8,37.8 344.4,35.5 335.0,42.8 340.8,45.3" fill="#000" fill-opacity="0.09"/>
<path d="M340.8,45.3L346.8,37.8M334.4,42.5L340.8,45.3" stroke="#111" stroke-opacity="0.6" stroke-width="0.75" fill="none"/>
<path d="M346.8,37.8L342.6,33.7M342.6,33.7L337.4,33.7M337.4,33.7L333.8,39.0M333.8,39.0L334.4,42.5" stroke="#f0f0f0" stroke-opacity="0.4" stroke-width="0.6" fill="none"/>
<polygon points="365.9,129.4 363.4,127.2 359.1,125.7 354.4,131.8 365.4,131.7" fill="#fff" fill-opacity="0.23"/>
<polygon points="353.1,135.6 358.1,137.2 364.0,134.0 365.4,131.9 365.4,131.7 354.4,131.8 352.3,134.5" fill="#000" fill-opacity="0.09"/>
<path d="M353.1,135.6L358.1,137.2M358.1,137.2L364.0,134.0M364.0,134.0L365.4,131.9M365.4,131.9L365.9,129.4" stroke="#111" stroke-opacity="0.6" stroke-width="0.75" fill="none"/>
<path d="M352.3,134.5L353.1,135.6M365.9,129.4L363.4,127.2M363.4,127.2L359.1,125.7M359.1,125.7L352.3,134.5" stroke="#f0f0f0" stroke-opacity="0.4" stroke-width="0.6" fill="none"/>
<polygon points="285.2,97.8 283.8,97.0 280.1,104.0 285.7,103.5 285.4,98.1" fill="#fff" fill-opacity="0.23"/>
<polygon points="278.0,107.9 278.6,108.4 286.0,107.1 285.7,103.5 280.1,104.0" fill="#000" fill-opacity="0.10"/>
<path d="M278.0,107.9L278.6,108.4M278.6,108.4L286.0,107.1M286.0,107.1L285.4,98.1" stroke="#111" stroke-opacity="0.6" stroke-width="0.75" fill="none"/>
<path d="M285.4,98.1L285.2,97.8M285.2,97.8L283.8,97.0M283.8,97.0L278.0,107.9" stroke="#f0f0f0" stroke-opacity="0.4" stroke-width="0.6" fill="none"/>
<polygon points="353.0,119.1 358.8,125.0 362.3,119.6 355.2,117.8" fill="#fff" fill-opacity="0.15"/>
<polygon points="363.0,113.4 355.2,117.8 362.3,119.6 364.8,115.6" fill="#fff" fill-opacity="0.02"/>
<path d="M353.0,119.1L358.8,125.0M358.8,125.0L364.8,115.6" stroke="#111" stroke-opacity="0.6" stroke-width="0.75" fill="none"/>
<path d="M364.8,115.6L363.0,113.4M363.0,113.4L353.0,119.1" stroke="#f0f0f0" stroke-opacity="0.4" stroke-width="0.6" fill="none"/>
<polygon points="398.8,145.0 403.5,145.0 400.5,142.3 397.0,143.7" fill="#fff" fill-opacity="0.03"/>
<polygon points="405.7,145.0 406.1,144.0 403.2,141.2 400.5,142.3 403.5,145.0" fill="#000" fill-opacity="0.18"/>
<path d="M398.8,145.0L405.7,145.0M405.7,145.0L406.1,144.0M406.1,144.0L403.2,141.2" stroke="#111" stroke-opacity="0.6" stroke-width="0.75" fill="none"/>
<path d="M397.0,143.7L398.8,145.0M403.2,141.2L397.0,143.7" stroke="#f0f0f0" stroke-opacity="0.4" stroke-width="0.6" fill="none"/>
<polygon points="378.7,54.9 382.6,58.1 383.3,58.4 388.8,46.1 388.7,45.7 380.5,52.2" fill="#fff" fill-opacity="0.12"/>
<polygon points="385.4,59.1 391.4,54.4 389.8,48.4 388.8,46.1 383.3,58.4" fill="#000" fill-opacity="0.00"/>
<path d="M378.7,54.9L382.6,58.1M382.6,58.1L385.4,59.1M385.4,59.1L391.4,54.4M391.4,54.4L389.8,48.4" stroke="#111" stroke-opacity="0.6" stroke-width="0.75" fill="none"/>
<path d="M380.5,52.2L378.7,54.9M389.8,48.4L388.7,45.7M388.7,45.7L380.5,52.2" stroke="#f0f0f0" stroke-opacity="0.4" stroke-width="0.6" fill="none"/>
<polygon points="397.0,143.7 400.2,142.4 397.8,139.1 394.8,139.9 396.3,143.7" fill="#fff" fill-opacity="0.25"/>
<polygon points="403.2,141.2 402.4,138.0 397.8,139.1 400.2,142.4" fill="#000" fill-opacity="0.08"/>
<path d="M396.3,143.7L397.0,143.7M397.0,143.7L403.2,141.2M403.2,141.2L402.4,138.0" stroke="#111" stroke-opacity="0.6" stroke-width="0.75" fill="none"/>
<path d="M402.4,138.0L394.8,139.9M394.8,139.9L396.3,143.7" stroke="#f0f0f0" stroke-opacity="0.4" stroke-width="0.6" fill="none"/>
<polygon points="346.5,60.2 350.6,54.3 349.8,52.6 344.0,51.2 342.6,55.6 346.4,60.1" fill="#fff" fill-opacity="0.14"/>
<polygon points="351.7,64.1 354.7,62.7 350.6,54.3 346.5,60.2" fill="#000" fill-opacity="0.09"/>
<path d="M346.4,60.1L351.7,64.1M351.7,64.1L354.7,62.7M354.7,62.7L349.8,52.6" stroke="#111" stroke-opacity="0.6" stroke-width="0.75" fill="none"/>
<path d="M349.8,52.6L344.0,51.2M344.0,51.2L342.6,55.6M342.6,55.6L346.4,60.1" stroke="#f0f0f0" stroke-opacity="0.4" stroke-width="0.6" fill="none"/>
<polygon points="411.3,83.1 406.6,85.4 409.3,91.4 420.4,86.0 420.7,84.9 411.3,83.1" fill="#fff" fill-opacity="0.11"/>
<polygon points="411.1,95.5 414.6,96.6 417.6,95.3 420.4,86.0 409.3,91.4" fill="#000" fill-opacity="0.21"/>
<path d="M411.1,95.5L414.6,96.6M414.6,96.6L417.6,95.3M417.6,95.3L420.7,84.9" stroke="#111" stroke-opacity="0.6" stroke-width="0.75" fill="none"/>
<path d="M411.3,83.1L411.3,83.1M411.3,83.1L406.6,85.4M406.6,85.4L411.1,95.5M420.7,84.9L411.3,83.1" stroke="#f0f0f0" stroke-opacity="0.4" stroke-width="0.6" fill="none"/>
<polygon points="284.6,116.3 284.7,116.5 289.3,115.7 293.3,111.9 285.5,111.7" fill="#fff" fill-opacity="0.21"/>
<polygon points="286.3,107.6 285.5,111.7 293.3,111.9 294.5,110.8 293.2,108.9 293.1,108.8" fill="#000" fill-opacity="0.16"/>
<path d="M284.6,116.3L284.7,116.5M284.7,116.5L289.3,115.7M289.3,115.7L294.5,110.8M294.5,110.8L293.2,108.9" stroke="#111" stroke-opacity="0.6" stroke-width="0.75" fill="none"/>
<path d="M293.1,108.8L286.3,107.6M286.3,107.6L284.6,116.3M293.2,108.9L293.1,108.8" stroke="#f0f0f0" stroke-opacity="0.4" stroke-width="0.6" fill="none"/>
<polygon points="408.6,122.5 411.0,128.1 413.5,123.2 408.9,122.3" fill="#fff" fill-opacity="0.15"/>
<polygon points="408.9,122.3 413.5,123.2 414.7,120.9 414.4,120.5 412.2,118.6" fill="#000" fill-opacity="0.12"/>
<path d="M408.6,122.5L411.0,128.1M411.0,128.1L414.7,120.9" stroke="#111" stroke-opacity="0.6" stroke-width="0.75" fill="none"/>
<path d="M412.2,118.6L408.6,122.5M414.7,120.9L414.4,120.5M414.4,120.5L412.2,118.6" stroke="#f0f0f0" stroke-opacity="0.4" stroke-width="0.6" fill="none"/>
<polygon points="332.4,63.2 335.2,62.6 329.4,55.0 327.7,57.8" fill="#fff" fill-opacity="0.13"/>
<polygon points="336.5,62.3 337.5,59.8 330.7,54.4 329.6,54.8 329.4,55.0 335.2,62.6" fill="#000" fill-opacity="0.24"/>
<path d="M332.4,63.2L336.5,62.3M336.5,62.3L337.5,59.8" stroke="#111" stroke-opacity="0.6" stroke-width="0.75" fill="none"/>
<path d="M327.7,57.8L332.4,63.2M337.5,59.8L330.7,54.4M330.7,54.4L329.6,54.8M329.6,54.8L327.7,57.8" stroke="#f0f0f0" stroke-opacity="0.4" stroke-width="0.6" fill="none"/>
<polygon points="289.1,87.8 284.3,85.5 283.9,92.5" fill="#fff" fill-opacity="0.07"/>
<polygon points="289.9,87.1 290.4,86.5 288.1,81.8 284.4,84.2 284.3,85.5 289.1,87.8" fill="#000" fill-opacity="0.14"/>
<path d="M283.9,92.5L289.9,87.1M289.9,87.1L290.4,86.5M284.4,84.2L283.9,92.5" stroke="#111" stroke-opacity="0.6" stroke-width="0.75" fill="none"/>
<path d="M290.4,86.5L288.1,81.8M288.1,81.8L284.4,84.2" stroke="#f0f0f0" stroke-opacity="0.4" stroke-width="0.6" fill="none"/>
<polygon points="366.5,34.5 367.7,36.4 374.4,33.9 374.3,33.7 367.4,33.7 367.0,34.0" fill="#fff" fill-opacity="0.08"/>
<polygon points="368.8,38.2 375.0,35.3 374.4,33.9 367.7,36.4" fill="#000" fill-opacity="0.23"/>
<path d="M368.8,38.2L375.0,35.3M375.0,35.3L374.3,33.7" stroke="#111" stroke-opacity="0.6" stroke-width="0.75" fill="none"/>
<path d="M367.0,34.0L366.5,34.5M366.5,34.5L368.8,38.2M374.3,33.7L367.4,33.7M367.4,33.7L367.0,34.0" stroke="#f0f0f0" stroke-opacity="0.4" stroke-width="0.6" fill="none"/>
<polygon points="343.8,65.6 344.0,65.5 345.1,63.0 342.6,55.7" fill="#fff" fill-opacity="0.12"/>
<polygon points="342.6,55.7 345.1,63.0 346.4,60.1 342.6,55.6 342.6,55.7" fill="#000" fill-opacity="0.03"/>
<path d="M343.8,65.6L344.0,65.5M344.0,65.5L346.4,60.1" stroke="#111" stroke-opacity="0.6" stroke-width="0.75" fill="none"/>
<path d="M342.6,55.7L343.8,65.6M346.4,60.1L342.6,55.6M342.6,55.6L342.6,55.7" stroke="#f0f0f0" stroke-opacity="0.4" stroke-width="0.6" fill="none"/>
<polygon points="410.0,132.7 409.6,132.5 403.1,131.0 402.4,138.0 402.7,139.3 410.5,135.5" fill="#fff" fill-opacity="0.07"/>
<polygon points="406.1,144.0 409.7,143.0 410.2,142.1 410.9,137.1 410.5,135.5 402.7,139.3 403.2,141.2" fill="#000" fill-opacity="0.07"/>
<path d="M403.2,141.2L406.1,144.0M406.1,144.0L409.7,143.0M409.7,143.0L410.2,142.1M410.2,142.1L410.9,137.1" stroke="#111" stroke-opacity="0.6" stroke-width="0.75" fill="none"/>
<path d="M410.9,137.1L410.0,132.7M410.0,132.7L409.6,132.5M409.6,132.5L403.1,131.0M403.1,131.0L402.4,138.0M402.4,138.0L403.2,141.2" stroke="#f0f0f0" stroke-opacity="0.4" stroke-width="0.6" fill="none"/>
<polygon points="288.1,96.7 285.2,97.8 285.4,98.1 292.3,102.5 293.9,102.0 288.3,96.6" fill="#fff" fill-opacity="0.15"/>
<polygon points="291.9,96.0 288.3,96.6 293.9,102.0 295.7,101.4 295.5,100.9" fill="#000" fill-opacity="0.05"/>
<path d="M295.5,100.9L291.9,96.0M292.3,102.5L295.7,101.4M295.7,101.4L295.5,100.9" stroke="#111" stroke-opacity="0.6" stroke-width="0.75" fill="none"/>
<path d="M291.9,96.0L288.1,96.7M288.1,96.7L285.2,97.8M285.2,97.8L285.4,98.1M285.4,98.1L292.3,102.5" stroke="#f0f0f0" stroke-opacity="0.4" stroke-width="0.6" fill="none"/>
<polygon points="373.7,121.6 372.4,118.9 371.0,118.7 365.8,124.5 371.9,124.1" fill="#fff" fill-opacity="0.11"/>
<polygon points="366.5,129.4 368.8,128.2 371.9,124.1 365.8,124.5 363.4,127.2 365.9,129.4" fill="#000" fill-opacity="0.09"/>
<path d="M365.9,129.4L366.5,129.4M366.5,129.4L368.8,128.2M368.8,128.2L373.7,121.6M363.4,127.2L365.9,129.4" stroke="#111" stroke-opacity="0.6" stroke-width="0.75" fill="none"/>
<path d="M373.7,121.6L372.4,118.9M372.4,118.9L371.0,118.7M371.0,118.7L363.4,127.2" stroke="#f0f0f0" stroke-opacity="0.4" stroke-width="0.6" fill="none"/>
<polygon points="332.1,136.0 331.9,137.0 332.2,137.9 332.2,137.9 338.5,140.3 334.1,133.8" fill="#fff" fill-opacity="0.09"/>
<polygon points="341.4,140.5 336.0,132.4 335.4,132.4 334.1,133.8 338.5,140.3 340.6,141.1" fill="#000" fill-opacity="0.05"/>
<path d="M340.6,141.1L341.4,140.5M341.4,140.5L336.0,132.4M332.2,137.9L340.6,141.1" stroke="#111" stroke-opacity="0.6" stroke-width="0.75" fill="none"/>
<path d="M336.0,132.4L335.4,132.4M335.4,132.4L332.1,136.0M332.1,136.0L331.9,137.0M331.9,137.0L332.2,137.9M332.2,137.9L332.2,137.9" stroke="#f0f0f0" stroke-opacity="0.4" stroke-width="0.6" fill="none"/>
<polygon points="352.4,74.9 352.6,75.3 360.0,69.5 351.5,65.0" fill="#fff" fill-opacity="0.21"/>
<polygon points="354.7,62.7 351.7,64.1 351.4,64.6 351.5,65.0 360.0,69.5 363.7,66.6 361.0,63.6 356.6,62.4" fill="#000" fill-opacity="0.11"/>
<path d="M352.4,74.9L352.6,75.3M352.6,75.3L363.7,66.6M363.7,66.6L361.0,63.6" stroke="#111" stroke-opacity="0.6" stroke-width="0.75" fill="none"/>
<path d="M356.6,62.4L354.7,62.7M354.7,62.7L351.7,64.1M351.7,64.1L351.4,64.6M351.4,64.6L352.4,74.9M361.0,63.6L356.6,62.4" stroke="#f0f0f0" stroke-opacity="0.4" stroke-width="0.6" fill="none"/>
<polygon points="350.4,145.0 353.2,145.0 351.9,144.4" fill="#fff" fill-opacity="0.09"/>
<polygon points="351.9,144.4 353.2,145.0 353.4,145.0 353.3,143.8" fill="#000" fill-opacity="0.20"/>
<path d="M350.4,145.0L353.4,145.0M353.4,145.0L353.3,143.8" stroke="#111" stroke-opacity="0.6" stroke-width="0.75" fill="none"/>
<path d="M353.3,143.8L350.4,145.0" stroke="#f0f0f0" stroke-opacity="0.4" stroke-width="0.6" fill="none"/>
<polygon points="288.3,80.4 288.1,81.8 289.6,84.9 293.6,81.2" fill="#fff" fill-opacity="0.14"/>
<polygon points="295.2,81.4 293.6,81.2 289.6,84.9 290.4,86.5 291.5,86.8 295.0,83.3" fill="#000" fill-opacity="0.06"/>
<path d="M295.0,83.3L295.2,81.4M290.4,86.5L291.5,86.8M291.5,86.8L295.0,83.3" stroke="#111" stroke-opacity="0.6" stroke-width="0.75" fill="none"/>
<path d="M295.2,81.4L288.3,80.4M288.3,80.4L288.1,81.8M288.1,81.8L290.4,86.5" stroke="#f0f0f0" stroke-opacity="0.4" stroke-width="0.6" fill="none"/>
<polygon points="343.2,48.3 344.0,51.2 347.9,52.1 351.7,44.5" fill="#fff" fill-opacity="0.08"/>
<polygon points="351.7,44.5 347.9,52.1 349.8,52.6 351.6,52.4 355.8,44.6 355.6,42.7" fill="#000" fill-opacity="0.20"/>
<path d="M344.0,51.2L349.8,52.6M349.8,52.6L351.6,52.4M351.6,52.4L355.8,44.6" stroke="#111" stroke-opacity="0.6" stroke-width="0.75" fill="none"/>
<path d="M355.6,42.7L343.2,48.3M343.2,48.3L344.0,51.2M355.8,44.6L355.6,42.7" stroke="#f0f0f0" stroke-opacity="0.4" stroke-width="0.6" fill="none"/>
<polygon points="406.6,85.4 405.9,85.6 400.8,91.1 402.0,94.0 408.7,90.2" fill="#fff" fill-opacity="0.16"/>
<polygon points="411.1,95.5 408.7,90.2 402.0,94.0 402.5,95.3 403.9,96.6" fill="#000" fill-opacity="0.06"/>
<path d="M403.9,96.6L411.1,95.5M411.1,95.5L406.6,85.4M402.5,95.3L403.9,96.6" stroke="#111" stroke-opacity="0.6" stroke-width="0.75" fill="none"/>
<path d="M406.6,85.4L405.9,85.6M405.9,85.6L400.8,91.1M400.8,91.1L402.5,95.3" stroke="#f0f0f0" stroke-opacity="0.4" stroke-width="0.6" fill="none"/>
<polygon points="302.2,104.8 303.1,104.0 302.5,96.5 298.9,97.8 296.0,101.5 296.3,101.8 299.2,103.7" fill="#fff" fill-opacity="0.17"/>
<polygon points="309.8,97.6 306.3,95.0 302.5,96.5 303.1,104.0" fill="#000" fill-opacity="0.08"/>
<path d="M299.2,103.7L302.2,104.8M302.2,104.8L309.8,97.6M296.3,101.8L299.2,103.7" stroke="#111" stroke-opacity="0.6" stroke-width="0.75" fill="none"/>
<path d="M309.8,97.6L306.3,95.0M306.3,95.0L298.9,97.8M298.9,97.8L296.0,101.5M296.0,101.5L296.3,101.8" stroke="#f0f0f0" stroke-opacity="0.4" stroke-width="0.6" fill="none"/>
<polygon points="279.3,111.9 284.6,116.3 284.9,114.8 281.2,108.0 278.6,108.4" fill="#fff" fill-opacity="0.16"/>
<polygon points="286.3,107.6 286.0,107.1 281.2,108.0 284.9,114.8" fill="#000" fill-opacity="0.18"/>
<path d="M279.3,111.9L284.6,116.3M284.6,116.3L286.3,107.6" stroke="#111" stroke-opacity="0.6" stroke-width="0.75" fill="none"/>
<path d="M278.6,108.4L279.3,111.9M286.3,107.6L286.0,107.1M286.0,107.1L278.6,108.4" stroke="#f0f0f0" stroke-opacity="0.4" stroke-width="0.6" fill="none"/>
<polygon points="342.6,33.7 345.4,36.5 348.0,33.7" fill="#fff" fill-opacity="0.25"/>
<polygon points="349.4,36.0 348.9,33.7 348.0,33.7 345.4,36.5 346.8,37.8" fill="#000" fill-opacity="0.07"/>
<path d="M346.8,37.8L349.4,36.0M349.4,36.0L348.9,33.7" stroke="#111" stroke-opacity="0.6" stroke-width="0.75" fill="none"/>
<path d="M348.9,33.7L342.6,33.7M342.6,33.7L346.8,37.8" stroke="#f0f0f0" stroke-opacity="0.4" stroke-width="0.6" fill="none"/>
<polygon points="425.0,108.5 422.8,101.2 422.2,101.3 421.5,103.2 425.0,109.3" fill="#fff" fill-opacity="0.21"/>
<polygon points="425.0,101.0 422.8,101.2 425.0,108.5" fill="#000" fill-opacity="0.01"/>
<path d="M425.0,109.3L425.0,101.0M421.5,103.2L425.0,109.3" stroke="#111" stroke-opacity="0.6" stroke-width="0.75" fill="none"/>
<path d="M425.0,101.0L422.2,101.3M422.2,101.3L421.5,103.2" stroke="#f0f0f0" stroke-opacity="0.4" stroke-width="0.6" fill="none"/>
<polygon points="276.8,137.9 276.8,145.0 281.6,145.0 282.0,138.1" fill="#fff" fill-opacity="0.16"/>
<polygon points="287.1,138.2 286.6,138.2 282.0,138.1 281.6,145.0 286.1,145.0 287.4,139.6" fill="#000" fill-opacity="0.08"/>
<path d="M287.4,139.6L287.1,138.2M276.8,145.0L286.1,145.0M286.1,145.0L287.4,139.6" stroke="#111" stroke-opacity="0.6" stroke-width="0.75" fill="none"/>
<path d="M287.1,138.2L286.6,138.2M286.6,138.2L276.8,137.9M276.8,137.9L276.8,145.0" stroke="#f0f0f0" stroke-opacity="0.4" stroke-width="0.6" fill="none"/>
<polygon points="425.0,114.6 425.0,113.1 424.5,112.6 424.3,113.8" fill="#fff" fill-opacity="0.24"/>
<polygon points="425.0,110.2 424.5,112.6 425.0,113.1" fill="#000" fill-opacity="0.14"/>
<path d="M424.3,113.8L425.0,114.6" stroke="#111" stroke-opacity="0.6" stroke-width="0.75" fill="none"/>
<path d="M425.0,114.6L425.0,110.2M425.0,110.2L424.3,113.8" stroke="#f0f0f0" stroke-opacity="0.4" stroke-width="0.6" fill="none"/>
<polygon points="353.3,143.8 353.4,145.0 354.9,145.0 355.6,143.6 353.8,142.9" fill="#fff" fill-opacity="0.16"/>
<polygon points="359.0,145.0 355.6,143.6 354.9,145.0" fill="#000" fill-opacity="0.04"/>
<path d="M353.4,145.0L359.0,145.0M359.0,145.0L353.8,142.9" stroke="#111" stroke-opacity="0.6" stroke-width="0.75" fill="none"/>
<path d="M353.8,142.9L353.3,143.8M353.3,143.8L353.4,145.0" stroke="#f0f0f0" stroke-opacity="0.4" stroke-width="0.6" fill="none"/>
<polygon points="291.5,86.8 290.4,86.5 289.9,87.1 290.2,89.5 293.7,88.6" fill="#fff" fill-opacity="0.25"/>
<polygon points="293.7,88.6 290.2,89.5 290.7,92.5 294.2,89.0" fill="#000" fill-opacity="0.09"/>
<path d="M290.7,92.5L294.2,89.0" stroke="#111" stroke-opacity="0.6" stroke-width="0.75" fill="none"/>
<path d="M294.2,89.0L291.5,86.8M291.5,86.8L290.4,86.5M290.4,86.5L289.9,87.1M289.9,87.1L290.7,92.5" stroke="#f0f0f0" stroke-opacity="0.4" stroke-width="0.6" fill="none"/>
<polygon points="344.6,128.4 331.7,124.6 335.4,132.4 336.0,132.4 344.8,129.7" fill="#fff" fill-opacity="0.24"/>
<polygon points="344.4,125.9 335.5,120.1 334.6,119.9 330.8,122.7 331.7,124.6 344.6,128.4" fill="#000" fill-opacity="0.09"/>
<path d="M344.8,129.7L344.4,125.9M335.4,132.4L336.0,132.4M336.0,132.4L344.8,129.7" stroke="#111" stroke-opacity="0.6" stroke-width="0.75" fill="none"/>
<path d="M344.4,125.9L335.5,120.1M335.5,120.1L334.6,119.9M334.6,119.9L330.8,122.7M330.8,122.7L335.4,132.4" stroke="#f0f0f0" stroke-opacity="0.4" stroke-width="0.6" fill="none"/>
<polygon points="295.9,47.5 295.9,47.9 302.7,50.0 302.4,45.5" fill="#fff" fill-opacity="0.08"/>
<polygon points="302.4,45.5 302.7,50.0 303.4,50.2 305.0,50.4 307.5,44.0" fill="#000" fill-opacity="0.06"/>
<path d="M303.4,50.2L305.0,50.4M305.0,50.4L307.5,44.0" stroke="#111" stroke-opacity="0.6" stroke-width="0.75" fill="none"/>
<path d="M307.5,44.0L295.9,47.5M295.9,47.5L295.9,47.9M295.9,47.9L303.4,50.2" stroke="#f0f0f0" stroke-opacity="0.4" stroke-width="0.6" fill="none"/>
<polygon points="380.6,135.6 380.7,142.8 385.1,142.5 387.3,141.6 388.0,140.6 381.6,134.5" fill="#fff" fill-opacity="0.15"/>
<polygon points="381.6,134.5 388.0,140.6 390.8,137.0 389.1,134.6 385.3,132.3 382.9,133.0" fill="#fff" fill-opacity="0.02"/>
<path d="M380.7,142.8L385.1,142.5M385.1,142.5L387.3,141.6M387.3,141.6L390.8,137.0M390.8,137.0L389.1,134.6" stroke="#111" stroke-opacity="0.6" stroke-width="0.75" fill="none"/>
<path d="M382.9,133.0L380.6,135.6M380.6,135.6L380.7,142.8M389.1,134.6L385.3,132.3M385.3,132.3L382.9,133.0" stroke="#f0f0f0" stroke-opacity="0.4" stroke-width="0.6" fill="none"/>
<polygon points="354.5,76.9 356.2,84.2 364.4,79.4" fill="#fff" fill-opacity="0.20"/>
<polygon points="364.4,79.4 356.2,84.2 356.7,86.6 370.2,81.4 370.3,81.0" fill="#000" fill-opacity="0.10"/>
<path d="M356.7,86.6L370.2,81.4M370.2,81.4L370.3,81.0" stroke="#111" stroke-opacity="0.6" stroke-width="0.75" fill="none"/>
<path d="M370.3,81.0L354.5,76.9M354.5,76.9L356.7,86.6" stroke="#f0f0f0" stroke-opacity="0.4" stroke-width="0.6" fill="none"/>
<polygon points="316.7,139.1 322.4,129.7 321.5,127.2 321.0,127.4 314.8,136.8" fill="#fff" fill-opacity="0.05"/>
<polygon points="318.9,141.7 318.9,141.7 321.7,137.0 322.8,130.8 322.4,129.7 316.7,139.1" fill="#000" fill-opacity="0.20"/>
<path d="M314.8,136.8L318.9,141.7M318.9,141.7L318.9,141.7M318.9,141.7L321.7,137.0M321.7,137.0L322.8,130.8" stroke="#111" stroke-opacity="0.6" stroke-width="0.75" fill="none"/>
<path d="M322.8,130.8L321.5,127.2M321.5,127.2L321.0,127.4M321.0,127.4L314.8,136.8" stroke="#f0f0f0" stroke-opacity="0.4" stroke-width="0.6" fill="none"/>
<polygon points="306.9,61.8 306.4,67.9 310.4,70.2 314.0,70.0 307.4,61.6" fill="#fff" fill-opacity="0.15"/>
<polygon points="313.2,61.4 309.8,59.9 307.4,61.6 314.0,70.0 314.2,70.0" fill="#000" fill-opacity="0.11"/>
<path d="M314.2,70.0L313.2,61.4M306.4,67.9L310.4,70.2M310.4,70.2L314.2,70.0" stroke="#111" stroke-opacity="0.6" stroke-width="0.75" fill="none"/>
<path d="M313.2,61.4L309.8,59.9M309.8,59.9L306.9,61.8M306.9,61.8L306.4,67.9" stroke="#f0f0f0" stroke-opacity="0.4" stroke-width="0.6" fill="none"/>
<polygon points="402.1,110.1 405.6,112.4 410.1,113.3 411.7,111.9 405.1,102.7" fill="#fff" fill-opacity="0.05"/>
<polygon points="405.1,102.7 411.7,111.9 414.3,109.7 412.1,101.7 405.5,101.6" fill="#000" fill-opacity="0.11"/>
<path d="M402.1,110.1L405.6,112.4M405.6,112.4L410.1,113.3M410.1,113.3L414.3,109.7M414.3,109.7L412.1,101.7" stroke="#111" stroke-opacity="0.6" stroke-width="0.75" fill="none"/>
<path d="M405.5,101.6L402.1,110.1M412.1,101.7L405.5,101.6" stroke="#f0f0f0" stroke-opacity="0.4" stroke-width="0.6" fill="none"/>
<polygon points="392.4,137.1 396.5,133.7 391.4,130.3 389.1,134.6 390.8,137.0" fill="#fff" fill-opacity="0.13"/>
<polygon points="400.5,130.4 393.2,127.0 391.4,130.3 396.5,133.7" fill="#000" fill-opacity="0.25"/>
<path d="M390.8,137.0L392.4,137.1M392.4,137.1L400.5,130.4M389.1,134.6L390.8,137.0" stroke="#111" stroke-opacity="0.6" stroke-width="0.75" fill="none"/>
<path d="M400.5,130.4L393.2,127.0M393.2,127.0L389.1,134.6" stroke="#f0f0f0" stroke-opacity="0.4" stroke-width="0.6" fill="none"/>
<polygon points="336.4,111.7 334.8,113.0 334.6,119.9 335.5,120.1 339.5,118.3 337.3,111.9" fill="#fff" fill-opacity="0.09"/>
<polygon points="337.3,111.9 339.5,118.3 344.0,116.3 344.2,116.1 344.0,114.0" fill="#000" fill-opacity="0.19"/>
<path d="M334.6,119.9L335.5,120.1M335.5,120.1L344.0,116.3M344.0,116.3L344.2,116.1M344.2,116.1L344.0,114.0" stroke="#111" stroke-opacity="0.6" stroke-width="0.75" fill="none"/>
<path d="M344.0,114.0L336.4,111.7M336.4,111.7L334.8,113.0M334.8,113.0L334.6,119.9" stroke="#f0f0f0" stroke-opacity="0.4" stroke-width="0.6" fill="none"/>
<polygon points="333.5,104.3 339.0,107.6 339.1,107.5 339.0,102.5 333.6,104.2" fill="#fff" fill-opacity="0.05"/>
<polygon points="343.2,104.3 342.6,102.2 341.6,101.7 339.0,102.5 339.1,107.5" fill="#000" fill-opacity="0.23"/>
<path d="M339.0,107.6L343.2,104.3M343.2,104.3L342.6,102.2" stroke="#111" stroke-opacity="0.6" stroke-width="0.75" fill="none"/>
<path d="M333.6,104.2L333.5,104.3M333.5,104.3L339.0,107.6M342.6,102.2L341.6,101.7M341.6,101.7L333.6,104.2" stroke="#f0f0f0" stroke-opacity="0.4" stroke-width="0.6" fill="none"/>
<polygon points="385.1,142.5 385.7,143.9 389.0,143.4 387.3,141.6" fill="#fff" fill-opacity="0.06"/>
<polygon points="386.2,145.0 390.6,145.0 389.0,143.4 385.7,143.9" fill="#000" fill-opacity="0.21"/>
<path d="M386.2,145.0L390.6,145.0M390.6,145.0L387.3,141.6" stroke="#111" stroke-opacity="0.6" stroke-width="0.75" fill="none"/>
<path d="M387.3,141.6L385.1,142.5M385.1,142.5L386.2,145.0" stroke="#f0f0f0" stroke-opacity="0.4" stroke-width="0.6" fill="none"/>
<polygon points="425.0,37.4 420.5,34.5 420.4,34.8 419.7,38.9 425.0,38.6" fill="#fff" fill-opacity="0.13"/>
<polygon points="422.3,42.6 425.0,41.5 425.0,38.6 419.7,38.9 419.7,39.3" fill="#000" fill-opacity="0.04"/>
<path d="M419.7,39.3L422.3,42.6M422.3,42.6L425.0,41.5M425.0,41.5L425.0,37.4" stroke="#111" stroke-opacity="0.6" stroke-width="0.75" fill="none"/>
<path d="M425.0,37.4L420.5,34.5M420.5,34.5L420.4,34.8M420.4,34.8L419.7,39.3" stroke="#f0f0f0" stroke-opacity="0.4" stroke-width="0.6" fill="none"/>
<polygon points="283.0,45.2 285.8,44.0 285.3,34.2 284.8,33.7 283.6,33.7 281.4,35.7" fill="#fff" fill-opacity="0.07"/>
<polygon points="291.9,41.3 285.3,34.2 285.8,44.0" fill="#000" fill-opacity="0.12"/>
<path d="M283.0,45.2L291.9,41.3" stroke="#111" stroke-opacity="0.6" stroke-width="0.75" fill="none"/>
<path d="M281.4,35.7L283.0,45.2M291.9,41.3L284.8,33.7M284.8,33.7L283.6,33.7M283.6,33.7L281.4,35.7" stroke="#f0f0f0" stroke-opacity="0.4" stroke-width="0.6" fill="none"/>
<polygon points="297.4,90.2 293.7,95.4 295.1,96.6 298.9,97.8 300.1,97.3 299.6,89.8" fill="#fff" fill-opacity="0.06"/>
<polygon points="302.0,89.6 301.3,89.6 299.6,89.8 300.1,97.3 306.3,95.0 302.8,90.1" fill="#000" fill-opacity="0.16"/>
<path d="M295.1,96.6L298.9,97.8M298.9,97.8L306.3,95.0M306.3,95.0L302.8,90.1" stroke="#111" stroke-opacity="0.6" stroke-width="0.75" fill="none"/>
<path d="M302.8,90.1L302.0,89.6M302.0,89.6L301.3,89.6M301.3,89.6L297.4,90.2M297.4,90.2L293.7,95.4M293.7,95.4L295.1,96.6" stroke="#f0f0f0" stroke-opacity="0.4" stroke-width="0.6" fill="none"/>
<polygon points="327.7,143.0 325.7,143.5 323.9,145.0 328.9,145.0 328.4,143.2" fill="#fff" fill-opacity="0.16"/>
<polygon points="333.3,144.1 328.4,143.2 328.9,145.0 333.3,145.0 333.4,144.4" fill="#000" fill-opacity="0.08"/>
<path d="M333.4,144.4L333.3,144.1M333.3,144.1L327.7,143.0M323.9,145.0L333.3,145.0M333.3,145.0L333.4,144.4" stroke="#111" stroke-opacity="0.6" stroke-width="0.75" fill="none"/>
<path d="M327.7,143.0L325.7,143.5M325.7,143.5L323.9,145.0" stroke="#f0f0f0" stroke-opacity="0.4" stroke-width="0.6" fill="none"/>
<polygon points="352.5,118.5 352.8,118.8 355.0,113.6 349.1,109.4 347.9,109.7" fill="#fff" fill-opacity="0.13"/>
<polygon points="357.6,107.3 349.1,109.4 355.0,113.6" fill="#fff" fill-opacity="0.00"/>
<path d="M347.9,109.7L352.5,118.5M352.5,118.5L352.8,118.8M352.8,118.8L357.6,107.3" stroke="#111" stroke-opacity="0.6" stroke-width="0.75" fill="none"/>
<path d="M357.6,107.3L347.9,109.7" stroke="#f0f0f0" stroke-opacity="0.4" stroke-width="0.6" fill="none"/>
<polygon points="277.7,67.2 281.2,71.0 284.5,66.9 278.7,65.6" fill="#fff" fill-opacity="0.16"/>
<polygon points="284.3,62.5 283.6,62.2 280.6,62.8 278.7,65.6 284.5,66.9 284.8,66.4" fill="#000" fill-opacity="0.14"/>
<path d="M284.8,66.4L284.3,62.5M277.7,67.2L281.2,71.0M281.2,71.0L284.8,66.4" stroke="#111" stroke-opacity="0.6" stroke-width="0.75" fill="none"/>
<path d="M284.3,62.5L283.6,62.2M283.6,62.2L280.6,62.8M280.6,62.8L277.7,67.2" stroke="#f0f0f0" stroke-opacity="0.4" stroke-width="0.6" fill="none"/>
<polygon points="281.4,35.7 276.8,37.6 276.8,39.4 277.7,41.6 282.3,41.3" fill="#fff" fill-opacity="0.16"/>
<polygon points="283.0,45.2 282.3,41.3 277.7,41.6 280.6,48.3" fill="#000" fill-opacity="0.01"/>
<path d="M280.6,48.3L283.0,45.2M283.0,45.2L281.4,35.7M276.8,39.4L280.6,48.3" stroke="#111" stroke-opacity="0.6" stroke-width="0.75" fill="none"/>
<path d="M281.4,35.7L276.8,37.6M276.8,37.6L276.8,39.4" stroke="#f0f0f0" stroke-opacity="0.4" stroke-width="0.6" fill="none"/>
<polygon points="302.0,89.6 302.8,90.1 308.9,83.8 301.7,80.7" fill="#fff" fill-opacity="0.11"/>
<polygon points="307.2,77.9 302.2,76.7 301.6,77.7 301.7,80.7 308.9,83.8 312.5,80.2" fill="#000" fill-opacity="0.05"/>
<path d="M302.0,89.6L302.8,90.1M302.8,90.1L312.5,80.2" stroke="#111" stroke-opacity="0.6" stroke-width="0.75" fill="none"/>
<path d="M312.5,80.2L307.2,77.9M307.2,77.9L302.2,76.7M302.2,76.7L301.6,77.7M301.6,77.7L302.0,89.6" stroke="#f0f0f0" stroke-opacity="0.4" stroke-width="0.6" fill="none"/>
<polygon points="325.5,88.6 327.1,90.4 333.5,93.7 336.9,91.0 324.7,84.1" fill="#fff" fill-opacity="0.18"/>
<polygon points="335.6,85.5 324.6,83.5 324.7,84.1 336.9,91.0 341.2,87.7" fill="#000" fill-opacity="0.11"/>
<path d="M341.2,87.7L335.6,85.5M327.1,90.4L333.5,93.7M333.5,93.7L341.2,87.7" stroke="#111" stroke-opacity="0.6" stroke-width="0.75" fill="none"/>
<path d="M335.6,85.5L324.6,83.5M324.6,83.5L325.5,88.6M325.5,88.6L327.1,90.4" stroke="#f0f0f0" stroke-opacity="0.4" stroke-width="0.6" fill="none"/>
<polygon points="384.9,91.2 394.1,88.3 394.0,87.6 385.8,84.2" fill="#fff" fill-opacity="0.16"/>
<polygon points="389.7,80.0 389.0,79.9 386.3,80.4 385.8,84.2 394.0,87.6 393.4,84.2" fill="#000" fill-opacity="0.19"/>
<path d="M384.9,91.2L394.1,88.3M394.1,88.3L393.4,84.2" stroke="#111" stroke-opacity="0.6" stroke-width="0.75" fill="none"/>
<path d="M393.4,84.2L389.7,80.0M389.7,80.0L389.0,79.9M389.0,79.9L386.3,80.4M386.3,80.4L384.9,91.2" stroke="#f0f0f0" stroke-opacity="0.4" stroke-width="0.6" fill="none"/>
<polygon points="371.1,97.4 360.1,104.0 360.0,104.4 377.8,102.6" fill="#000" fill-opacity="0.02"/>
<polygon points="359.9,106.0 371.4,107.9 375.4,106.8 378.1,102.8 377.8,102.6 360.0,104.4 359.7,105.8" fill="#000" fill-opacity="0.15"/>
<path d="M359.9,106.0L371.4,107.9M371.4,107.9L375.4,106.8M375.4,106.8L378.1,102.8" stroke="#111" stroke-opacity="0.6" stroke-width="0.75" fill="none"/>
<path d="M359.7,105.8L359.9,106.0M378.1,102.8L371.1,97.4M371.1,97.4L360.1,104.0M360.1,104.0L359.7,105.8" stroke="#f0f0f0" stroke-opacity="0.4" stroke-width="0.6" fill="none"/>
<polygon points="276.8,56.6 276.8,65.7 279.0,60.2" fill="#fff" fill-opacity="0.08"/>
<polygon points="280.6,62.8 279.0,60.2 276.8,65.7 276.8,67.1 277.7,67.2" fill="#000" fill-opacity="0.12"/>
<path d="M277.7,67.2L280.6,62.8M276.8,67.1L277.7,67.2" stroke="#111" stroke-opacity="0.6" stroke-width="0.75" fill="none"/>
<path d="M280.6,62.8L276.8,56.6M276.8,56.6L276.8,67.1" stroke="#f0f0f0" stroke-opacity="0.4" stroke-width="0.6" fill="none"/>
<polygon points="276.8,133.6 276.8,137.5 282.0,136.0" fill="#fff" fill-opacity="0.02"/>
<polygon points="282.0,136.0 276.8,137.5 276.8,137.9 286.6,138.2" fill="#000" fill-opacity="0.20"/>
<path d="M286.6,138.2L276.8,133.6M276.8,137.9L286.6,138.2" stroke="#111" stroke-opacity="0.6" stroke-width="0.75" fill="none"/>
<path d="M276.8,133.6L276.8,137.9" stroke="#f0f0f0" stroke-opacity="0.4" stroke-width="0.6" fill="none"/>
<polygon points="336.5,62.3 339.1,68.6 343.8,65.6 343.6,64.0 337.1,60.8" fill="#fff" fill-opacity="0.19"/>
<polygon points="337.1,60.8 343.6,64.0 342.6,55.7 337.5,59.8" fill="#000" fill-opacity="0.08"/>
<path d="M336.5,62.3L339.1,68.6M339.1,68.6L343.8,65.6" stroke="#111" stroke-opacity="0.6" stroke-width="0.75" fill="none"/>
<path d="M337.5,59.8L336.5,62.3M343.8,65.6L342.6,55.7M342.6,55.7L337.5,59.8" stroke="#f0f0f0" stroke-opacity="0.4" stroke-width="0.6" fill="none"/>
<polygon points="409.7,37.2 403.9,34.4 400.5,38.4 403.8,43.8 410.2,37.7" fill="#fff" fill-opacity="0.07"/>
<polygon points="414.1,44.0 414.8,42.2 410.2,37.7 403.8,43.8 404.0,44.1 407.6,46.0" fill="#000" fill-opacity="0.18"/>
<path d="M407.6,46.0L414.1,44.0M414.1,44.0L414.8,42.2M414.8,42.2L409.7,37.2M404.0,44.1L407.6,46.0" stroke="#111" stroke-opacity="0.6" stroke-width="0.75" fill="none"/>
<path d="M409.7,37.2L403.9,34.4M403.9,34.4L400.5,38.4M400.5,38.4L404.0,44.1" stroke="#f0f0f0" stroke-opacity="0.4" stroke-width="0.6" fill="none"/>
<polygon points="419.4,75.1 420.5,72.2 415.1,69.9 415.1,70.1 416.1,73.4" fill="#fff" fill-opacity="0.03"/>
<polygon points="421.1,70.4 415.8,66.8 415.1,69.9 420.5,72.2" fill="#000" fill-opacity="0.15"/>
<path d="M416.1,73.4L419.4,75.1M419.4,75.1L421.1,70.4" stroke="#111" stroke-opacity="0.6" stroke-width="0.75" fill="none"/>
<path d="M421.1,70.4L415.8,66.8M415.8,66.8L415.1,70.1M415.1,70.1L416.1,73.4" stroke="#f0f0f0" stroke-opacity="0.4" stroke-width="0.6" fill="none"/>
<polygon points="332.2,137.9 328.2,142.5 332.8,141.2 332.2,137.9" fill="#fff" fill-opacity="0.04"/>
<polygon points="327.7,143.0 333.3,144.1 332.8,141.2 328.2,142.5" fill="#000" fill-opacity="0.19"/>
<path d="M327.7,143.0L333.3,144.1M333.3,144.1L332.2,137.9" stroke="#111" stroke-opacity="0.6" stroke-width="0.75" fill="none"/>
<path d="M332.2,137.9L332.2,137.9M332.2,137.9L327.7,143.0" stroke="#f0f0f0" stroke-opacity="0.4" stroke-width="0.6" fill="none"/>
<polygon points="407.6,46.0 410.7,54.2 414.8,45.4 414.1,44.0" fill="#fff" fill-opacity="0.03"/>
<polygon points="411.1,55.1 418.5,52.8 414.8,45.4 410.7,54.2" fill="#000" fill-opacity="0.22"/>
<path d="M411.1,55.1L418.5,52.8M418.5,52.8L414.1,44.0" stroke="#111" stroke-opacity="0.6" stroke-width="0.75" fill="none"/>
<path d="M414.1,44.0L407.6,46.0M407.6,46.0L411.1,55.1" stroke="#f0f0f0" stroke-opacity="0.4" stroke-width="0.6" fill="none"/>
<polygon points="418.7,59.6 416.1,63.1 420.1,62.9" fill="#fff" fill-opacity="0.14"/>
<polygon points="420.5,63.8 420.1,62.9 416.1,63.1 414.5,65.3 414.9,65.6" fill="#000" fill-opacity="0.24"/>
<path d="M414.9,65.6L420.5,63.8M414.5,65.3L414.9,65.6" stroke="#111" stroke-opacity="0.6" stroke-width="0.75" fill="none"/>
<path d="M420.5,63.8L418.7,59.6M418.7,59.6L414.5,65.3" stroke="#f0f0f0" stroke-opacity="0.4" stroke-width="0.6" fill="none"/>
<polygon points="332.2,137.9 333.0,142.9 337.9,140.1" fill="#fff" fill-opacity="0.16"/>
<polygon points="339.7,142.5 340.6,141.1 337.9,140.1 333.0,142.9 333.3,144.1 333.4,144.4" fill="#000" fill-opacity="0.09"/>
<path d="M333.4,144.4L339.7,142.5M339.7,142.5L340.6,141.1M333.3,144.1L333.4,144.4" stroke="#111" stroke-opacity="0.6" stroke-width="0.75" fill="none"/>
<path d="M340.6,141.1L332.2,137.9M332.2,137.9L333.3,144.1" stroke="#f0f0f0" stroke-opacity="0.4" stroke-width="0.6" fill="none"/>
<polygon points="385.2,70.3 388.1,72.7 388.7,72.7 390.8,68.6 385.9,68.0" fill="#fff" fill-opacity="0.15"/>
<polygon points="393.4,72.6 394.1,71.6 394.0,69.0 390.8,68.6 388.7,72.7" fill="#000" fill-opacity="0.17"/>
<path d="M388.1,72.7L393.4,72.6M393.4,72.6L394.1,71.6M394.1,71.6L394.0,69.0" stroke="#111" stroke-opacity="0.6" stroke-width="0.75" fill="none"/>
<path d="M385.9,68.0L385.2,70.3M385.2,70.3L388.1,72.7M394.0,69.0L385.9,68.0" stroke="#f0f0f0" stroke-opacity="0.4" stroke-width="0.6" fill="none"/>
<polygon points="321.5,127.2 322.8,130.8 332.1,136.0 335.4,132.4 335.3,132.2 322.3,125.8" fill="#fff" fill-opacity="0.16"/>
<polygon points="323.8,123.1 322.3,125.8 335.3,132.2 330.8,122.7" fill="#000" fill-opacity="0.18"/>
<path d="M322.8,130.8L332.1,136.0M332.1,136.0L335.4,132.4M335.4,132.4L330.8,122.7" stroke="#111" stroke-opacity="0.6" stroke-width="0.75" fill="none"/>
<path d="M330.8,122.7L323.8,123.1M323.8,123.1L321.5,127.2M321.5,127.2L322.8,130.8" stroke="#f0f0f0" stroke-opacity="0.4" stroke-width="0.6" fill="none"/>
<polygon points="294.2,33.7 293.4,39.7 295.6,37.1 295.0,33.7" fill="#fff" fill-opacity="0.20"/>
<polygon points="295.0,33.7 295.6,37.1 298.6,33.7" fill="#000" fill-opacity="0.13"/>
<path d="M294.2,33.7L293.4,39.7M293.4,39.7L298.6,33.7" stroke="#111" stroke-opacity="0.6" stroke-width="0.75" fill="none"/>
<path d="M298.6,33.7L294.2,33.7" stroke="#f0f0f0" stroke-opacity="0.4" stroke-width="0.6" fill="none"/>
<polygon points="358.9,137.8 364.1,137.6 364.0,134.0 358.1,137.2" fill="#fff" fill-opacity="0.14"/>
<polygon points="364.3,141.9 364.1,137.6 358.9,137.8" fill="#000" fill-opacity="0.09"/>
<path d="M358.1,137.2L364.3,141.9M364.3,141.9L364.0,134.0" stroke="#111" stroke-opacity="0.6" stroke-width="0.75" fill="none"/>
<path d="M364.0,134.0L358.1,137.2" stroke="#f0f0f0" stroke-opacity="0.4" stroke-width="0.6" fill="none"/>
<polygon points="283.8,58.8 291.9,56.2 282.1,53.5" fill="#fff" fill-opacity="0.03"/>
<polygon points="293.2,53.2 281.5,51.5 282.1,53.5 291.9,56.2 293.6,55.6" fill="#000" fill-opacity="0.12"/>
<path d="M293.6,55.6L293.2,53.2M283.8,58.8L293.6,55.6" stroke="#111" stroke-opacity="0.6" stroke-width="0.75" fill="none"/>
<path d="M293.2,53.2L281.5,51.5M281.5,51.5L283.8,58.8" stroke="#f0f0f0" stroke-opacity="0.4" stroke-width="0.6" fill="none"/>
<polygon points="371.8,54.5 373.5,56.5 373.9,56.6 378.0,55.2 373.4,49.6" fill="#fff" fill-opacity="0.07"/>
<polygon points="373.4,49.6 378.0,55.2 378.7,54.9 380.5,52.2 374.3,46.9" fill="#000" fill-opacity="0.18"/>
<path d="M371.8,54.5L373.5,56.5M373.5,56.5L373.9,56.6M373.9,56.6L378.7,54.9M378.7,54.9L380.5,52.2" stroke="#111" stroke-opacity="0.6" stroke-width="0.75" fill="none"/>
<path d="M374.3,46.9L371.8,54.5M380.5,52.2L374.3,46.9" stroke="#f0f0f0" stroke-opacity="0.4" stroke-width="0.6" fill="none"/>
<polygon points="397.7,116.3 404.7,114.9 405.6,112.4 402.1,110.1 398.1,109.9 397.6,109.9" fill="#fff" fill-opacity="0.10"/>
<polygon points="397.9,121.2 401.3,123.4 404.7,114.9 397.7,116.3" fill="#000" fill-opacity="0.14"/>
<path d="M397.9,121.2L401.3,123.4M401.3,123.4L405.6,112.4" stroke="#111" stroke-opacity="0.6" stroke-width="0.75" fill="none"/>
<path d="M397.6,109.9L397.9,121.2M405.6,112.4L402.1,110.1M402.1,110.1L398.1,109.9M398.1,109.9L397.6,109.9" stroke="#f0f0f0" stroke-opacity="0.4" stroke-width="0.6" fill="none"/>
<polygon points="339.7,142.5 339.9,143.8 345.1,142.1 344.3,139.9 341.4,140.5 340.6,141.1" fill="#fff" fill-opacity="0.23"/>
<polygon points="340.0,145.0 346.1,145.0 345.1,142.1 339.9,143.8" fill="#000" fill-opacity="0.12"/>
<path d="M340.0,145.0L346.1,145.0M346.1,145.0L344.3,139.9" stroke="#111" stroke-opacity="0.6" stroke-width="0.75" fill="none"/>
<path d="M340.6,141.1L339.7,142.5M339.7,142.5L340.0,145.0M344.3,139.9L341.4,140.5M341.4,140.5L340.6,141.1" stroke="#f0f0f0" stroke-opacity="0.4" stroke-width="0.6" fill="none"/>
<polygon points="289.3,115.7 284.7,116.5 284.0,118.4 285.3,120.5 292.4,118.5" fill="#fff" fill-opacity="0.12"/>
<polygon points="292.4,118.5 285.3,120.5 286.7,122.9 287.4,123.5 295.1,120.9" fill="#000" fill-opacity="0.20"/>
<path d="M295.1,120.9L289.3,115.7M286.7,122.9L287.4,123.5M287.4,123.5L295.1,120.9" stroke="#111" stroke-opacity="0.6" stroke-width="0.75" fill="none"/>
<path d="M289.3,115.7L284.7,116.5M284.7,116.5L284.0,118.4M284.0,118.4L286.7,122.9" stroke="#f0f0f0" stroke-opacity="0.4" stroke-width="0.6" fill="none"/>
<polygon points="410.9,137.1 410.4,140.2 418.9,139.2" fill="#fff" fill-opacity="0.14"/>
<polygon points="420.7,140.4 421.0,139.8 418.9,139.2 410.4,140.2 410.2,142.1" fill="#fff" fill-opacity="0.02"/>
<path d="M410.2,142.1L420.7,140.4M420.7,140.4L421.0,139.8" stroke="#111" stroke-opacity="0.6" stroke-width="0.75" fill="none"/>
<path d="M421.0,139.8L410.9,137.1M410.9,137.1L410.2,142.1" stroke="#f0f0f0" stroke-opacity="0.4" stroke-width="0.6" fill="none"/>
<polygon points="406.1,144.0 405.7,145.0 408.8,145.0 408.4,143.4" fill="#fff" fill-opacity="0.10"/>
<polygon points="408.4,143.4 408.8,145.0 411.6,145.0 409.7,143.0" fill="#000" fill-opacity="0.11"/>
<path d="M405.7,145.0L411.6,145.0M411.6,145.0L409.7,143.0" stroke="#111" stroke-opacity="0.6" stroke-width="0.75" fill="none"/>
<path d="M409.7,143.0L406.1,144.0M406.1,144.0L405.7,145.0" stroke="#f0f0f0" stroke-opacity="0.4" stroke-width="0.6" fill="none"/>
<polygon points="417.6,95.3 422.2,101.3 424.7,101.1 420.1,86.9" fill="#fff" fill-opacity="0.24"/>
<polygon points="420.7,84.9 420.1,86.9 424.7,101.1 425.0,101.0 425.0,84.8 420.7,84.9" fill="#000" fill-opacity="0.12"/>
<path d="M417.6,95.3L422.2,101.3M422.2,101.3L425.0,101.0M425.0,101.0L425.0,84.8" stroke="#111" stroke-opacity="0.6" stroke-width="0.75" fill="none"/>
<path d="M420.7,84.9L420.7,84.9M420.7,84.9L417.6,95.3M425.0,84.8L420.7,84.9" stroke="#f0f0f0" stroke-opacity="0.4" stroke-width="0.6" fill="none"/>
<polygon points="362.1,42.1 363.0,48.7 368.8,42.7 367.6,41.5" fill="#fff" fill-opacity="0.08"/>
<polygon points="363.0,48.8 364.0,52.5 364.2,52.6 365.4,52.5 369.8,43.8 368.8,42.7 363.0,48.7" fill="#000" fill-opacity="0.10"/>
<path d="M363.0,48.8L364.0,52.5M364.0,52.5L364.2,52.6M364.2,52.6L365.4,52.5M365.4,52.5L369.8,43.8" stroke="#111" stroke-opacity="0.6" stroke-width="0.75" fill="none"/>
<path d="M367.6,41.5L362.1,42.1M362.1,42.1L363.0,48.8M369.8,43.8L367.6,41.5" stroke="#f0f0f0" stroke-opacity="0.4" stroke-width="0.6" fill="none"/>
<polygon points="374.5,133.6 380.6,135.6 382.9,133.0 382.8,132.9 375.3,131.1" fill="#fff" fill-opacity="0.07"/>
<polygon points="375.3,131.1 382.8,132.9 377.4,126.9 376.3,128.1" fill="#000" fill-opacity="0.26"/>
<path d="M374.5,133.6L380.6,135.6M380.6,135.6L382.9,133.0" stroke="#111" stroke-opacity="0.6" stroke-width="0.75" fill="none"/>
<path d="M376.3,128.1L374.5,133.6M382.9,133.0L377.4,126.9M377.4,126.9L376.3,128.1" stroke="#f0f0f0" stroke-opacity="0.4" stroke-width="0.6" fill="none"/>
<polygon points="321.0,77.9 320.6,79.3 324.5,83.2 330.2,80.7 327.1,71.5" fill="#fff" fill-opacity="0.15"/>
<polygon points="327.1,71.4 327.1,71.5 330.2,80.7 332.4,79.8 337.9,76.2 338.1,74.6 338.1,73.7" fill="#000" fill-opacity="0.01"/>
<path d="M320.6,79.3L324.5,83.2M324.5,83.2L332.4,79.8M332.4,79.8L337.9,76.2M337.9,76.2L338.1,74.6M338.1,74.6L338.1,73.7" stroke="#111" stroke-opacity="0.6" stroke-width="0.75" fill="none"/>
<path d="M338.1,73.7L327.1,71.4M327.1,71.4L321.0,77.9M321.0,77.9L320.6,79.3" stroke="#f0f0f0" stroke-opacity="0.4" stroke-width="0.6" fill="none"/>
<polygon points="306.9,61.8 301.8,60.6 294.8,60.0 293.9,61.7 293.7,65.8 294.8,67.3 306.7,64.2" fill="#fff" fill-opacity="0.18"/>
<polygon points="301.7,73.9 306.4,67.9 306.7,64.2 294.8,67.3 297.5,71.1" fill="#000" fill-opacity="0.03"/>
<path d="M297.5,71.1L301.7,73.9M301.7,73.9L306.4,67.9M306.4,67.9L306.9,61.8" stroke="#111" stroke-opacity="0.6" stroke-width="0.75" fill="none"/>
<path d="M306.9,61.8L301.8,60.6M301.8,60.6L294.8,60.0M294.8,60.0L293.9,61.7M293.9,61.7L293.7,65.8M293.7,65.8L297.5,71.1" stroke="#f0f0f0" stroke-opacity="0.4" stroke-width="0.6" fill="none"/>
<polygon points="310.0,97.6 312.6,99.2 322.2,91.3 314.4,86.5" fill="#fff" fill-opacity="0.11"/>
<polygon points="324.5,83.2 320.6,79.3 316.7,80.5 314.4,86.5 322.2,91.3 325.5,88.6 324.6,83.5" fill="#000" fill-opacity="0.21"/>
<path d="M310.0,97.6L312.6,99.2M312.6,99.2L325.5,88.6M325.5,88.6L324.6,83.5" stroke="#111" stroke-opacity="0.6" stroke-width="0.75" fill="none"/>
<path d="M324.6,83.5L324.5,83.2M324.5,83.2L320.6,79.3M320.6,79.3L316.7,80.5M316.7,80.5L310.0,97.6" stroke="#f0f0f0" stroke-opacity="0.4" stroke-width="0.6" fill="none"/>
<polygon points="381.4,33.7 380.2,38.4 381.2,40.4 387.9,43.6 386.2,33.7" fill="#fff" fill-opacity="0.12"/>
<polygon points="391.7,33.7 386.2,33.7 387.9,43.6 388.7,44.0 393.8,39.6" fill="#000" fill-opacity="0.18"/>
<path d="M393.8,39.6L391.7,33.7M381.2,40.4L388.7,44.0M388.7,44.0L393.8,39.6" stroke="#111" stroke-opacity="0.6" stroke-width="0.75" fill="none"/>
<path d="M391.7,33.7L381.4,33.7M381.4,33.7L380.2,38.4M380.2,38.4L381.2,40.4" stroke="#f0f0f0" stroke-opacity="0.4" stroke-width="0.6" fill="none"/>
<polygon points="325.4,33.7 327.0,34.3 326.3,33.7" fill="#fff" fill-opacity="0.20"/>
<polygon points="327.2,34.3 327.1,33.7 326.3,33.7 327.0,34.3 327.1,34.3" fill="#000" fill-opacity="0.08"/>
<path d="M327.1,34.3L327.2,34.3M327.2,34.3L327.1,33.7" stroke="#111" stroke-opacity="0.6" stroke-width="0.75" fill="none"/>
<path d="M327.1,33.7L325.4,33.7M325.4,33.7L327.1,34.3" stroke="#f0f0f0" stroke-opacity="0.4" stroke-width="0.6" fill="none"/>
<polygon points="382.6,58.1 378.8,61.9 384.9,61.8 385.4,59.1" fill="#fff" fill-opacity="0.06"/>
<polygon points="377.8,62.9 378.4,64.5 384.4,64.6 384.9,61.8 378.8,61.9" fill="#000" fill-opacity="0.15"/>
<path d="M378.4,64.5L384.4,64.6M384.4,64.6L385.4,59.1" stroke="#111" stroke-opacity="0.6" stroke-width="0.75" fill="none"/>
<path d="M385.4,59.1L382.6,58.1M382.6,58.1L377.8,62.9M377.8,62.9L378.4,64.5" stroke="#f0f0f0" stroke-opacity="0.4" stroke-width="0.6" fill="none"/>
<polygon points="348.9,103.0 352.8,103.6 352.3,101.9 349.8,101.3" fill="#000" fill-opacity="0.01"/>
<polygon points="349.8,101.3 352.3,101.9 351.2,98.2" fill="#000" fill-opacity="0.18"/>
<path d="M348.9,103.0L352.8,103.6" stroke="#111" stroke-opacity="0.6" stroke-width="0.75" fill="none"/>
<path d="M351.2,98.2L348.9,103.0M352.8,103.6L351.2,98.2" stroke="#f0f0f0" stroke-opacity="0.4" stroke-width="0.6" fill="none"/>
<polygon points="344.4,125.9 345.1,124.8 345.1,124.4 339.1,118.5 335.5,120.1" fill="#fff" fill-opacity="0.08"/>
<polygon points="344.0,116.3 339.1,118.5 345.1,124.4" fill="#000" fill-opacity="0.24"/>
<path d="M335.5,120.1L344.4,125.9M344.4,125.9L345.1,124.8M345.1,124.8L344.0,116.3" stroke="#111" stroke-opacity="0.6" stroke-width="0.75" fill="none"/>
<path d="M344.0,116.3L335.5,120.1" stroke="#f0f0f0" stroke-opacity="0.4" stroke-width="0.6" fill="none"/>
<polygon points="419.9,145.0 421.1,145.0 425.0,137.3 423.5,136.7 421.0,139.8 420.7,140.4 419.8,144.9" fill="#fff" fill-opacity="0.05"/>
<polygon points="425.0,145.0 425.0,137.3 425.0,137.3 421.1,145.0" fill="#000" fill-opacity="0.16"/>
<path d="M419.8,144.9L419.9,145.0M419.9,145.0L425.0,145.0M425.0,145.0L425.0,137.3" stroke="#111" stroke-opacity="0.6" stroke-width="0.75" fill="none"/>
<path d="M425.0,137.3L423.5,136.7M423.5,136.7L421.0,139.8M421.0,139.8L420.7,140.4M420.7,140.4L419.8,144.9" stroke="#f0f0f0" stroke-opacity="0.4" stroke-width="0.6" fill="none"/>
<polygon points="297.3,122.0 294.7,126.8 295.7,132.0 301.4,133.7 300.8,122.3" fill="#fff" fill-opacity="0.11"/>
<polygon points="300.8,122.3 301.4,133.7 304.5,134.6 306.2,132.4 307.4,128.9 305.2,122.7" fill="#000" fill-opacity="0.13"/>
<path d="M295.7,132.0L304.5,134.6M304.5,134.6L306.2,132.4M306.2,132.4L307.4,128.9M307.4,128.9L305.2,122.7" stroke="#111" stroke-opacity="0.6" stroke-width="0.75" fill="none"/>
<path d="M305.2,122.7L297.3,122.0M297.3,122.0L294.7,126.8M294.7,126.8L295.7,132.0" stroke="#f0f0f0" stroke-opacity="0.4" stroke-width="0.6" fill="none"/>
<polygon points="350.4,145.0 353.3,143.8 353.8,142.9 353.7,141.7 345.5,138.5 344.3,139.9 346.1,145.0" fill="#fff" fill-opacity="0.22"/>
<polygon points="353.1,135.6 352.3,134.5 349.3,134.2 345.5,138.5 353.7,141.7" fill="#000" fill-opacity="0.06"/>
<path d="M346.1,145.0L350.4,145.0M350.4,145.0L353.3,143.8M353.3,143.8L353.8,142.9M353.8,142.9L353.1,135.6" stroke="#111" stroke-opacity="0.6" stroke-width="0.75" fill="none"/>
<path d="M353.1,135.6L352.3,134.5M352.3,134.5L349.3,134.2M349.3,134.2L344.3,139.9M344.3,139.9L346.1,145.0" stroke="#f0f0f0" stroke-opacity="0.4" stroke-width="0.6" fill="none"/>
<polygon points="294.5,110.8 296.3,111.4 300.7,110.6 301.4,107.9 294.1,107.7 293.2,108.9" fill="#fff" fill-opacity="0.09"/>
<polygon points="302.2,104.8 299.2,103.7 295.4,106.0 294.1,107.7 301.4,107.9" fill="#000" fill-opacity="0.05"/>
<path d="M294.5,110.8L296.3,111.4M296.3,111.4L300.7,110.6M300.7,110.6L302.2,104.8" stroke="#111" stroke-opacity="0.6" stroke-width="0.75" fill="none"/>
<path d="M293.2,108.9L294.5,110.8M302.2,104.8L299.2,103.7M299.2,103.7L295.4,106.0M295.4,106.0L293.2,108.9" stroke="#f0f0f0" stroke-opacity="0.4" stroke-width="0.6" fill="none"/>
<polygon points="414.7,120.9 422.4,126.4 424.3,125.0 419.1,116.9 414.4,120.5" fill="#fff" fill-opacity="0.19"/>
<polygon points="425.0,124.6 425.0,114.6 424.3,113.8 423.5,113.6 419.1,116.9 424.3,125.0" fill="#fff" fill-opacity="0.00"/>
<path d="M414.7,120.9L422.4,126.4M422.4,126.4L425.0,124.6M425.0,124.6L425.0,114.6" stroke="#111" stroke-opacity="0.6" stroke-width="0.75" fill="none"/>
<path d="M414.4,120.5L414.7,120.9M425.0,114.6L424.3,113.8M424.3,113.8L423.5,113.6M423.5,113.6L414.4,120.5" stroke="#f0f0f0" stroke-opacity="0.4" stroke-width="0.6" fill="none"/>
<polygon points="342.6,102.2 343.2,104.3 343.5,104.4 348.9,103.0 349.1,102.6 345.0,96.7" fill="#fff" fill-opacity="0.21"/>
<polygon points="351.6,95.9 345.8,94.9 345.0,96.7 349.1,102.6 351.2,98.2" fill="#000" fill-opacity="0.17"/>
<path d="M351.2,98.2L351.6,95.9M342.6,102.2L343.2,104.3M343.2,104.3L343.5,104.4M343.5,104.4L348.9,103.0M348.9,103.0L351.2,98.2" stroke="#111" stroke-opacity="0.6" stroke-width="0.75" fill="none"/>
<path d="M351.6,95.9L345.8,94.9M345.8,94.9L342.6,102.2" stroke="#f0f0f0" stroke-opacity="0.4" stroke-width="0.6" fill="none"/>
<polygon points="333.6,43.0 334.4,42.5 334.1,40.7 321.7,39.5 323.9,45.4" fill="#fff" fill-opacity="0.01"/>
<polygon points="333.8,39.0 333.2,38.5 327.2,34.3 327.1,34.3 321.1,37.8 321.7,39.5 334.1,40.7" fill="#000" fill-opacity="0.18"/>
<path d="M323.9,45.4L333.6,43.0M333.6,43.0L334.4,42.5M334.4,42.5L333.8,39.0M333.8,39.0L333.2,38.5" stroke="#111" stroke-opacity="0.6" stroke-width="0.75" fill="none"/>
<path d="M333.2,38.5L327.2,34.3M327.2,34.3L327.1,34.3M327.1,34.3L321.1,37.8M321.1,37.8L323.9,45.4" stroke="#f0f0f0" stroke-opacity="0.4" stroke-width="0.6" fill="none"/>
<polygon points="295.4,44.4 297.6,42.9 298.7,33.7 298.6,33.7 293.4,39.7 292.7,41.6" fill="#fff" fill-opacity="0.10"/>
<polygon points="304.0,38.3 300.0,33.7 298.7,33.7 297.6,42.9" fill="#000" fill-opacity="0.28"/>
<path d="M292.7,41.6L295.4,44.4M295.4,44.4L304.0,38.3" stroke="#111" stroke-opacity="0.6" stroke-width="0.75" fill="none"/>
<path d="M304.0,38.3L300.0,33.7M300.0,33.7L298.6,33.7M298.6,33.7L293.4,39.7M293.4,39.7L292.7,41.6" stroke="#f0f0f0" stroke-opacity="0.4" stroke-width="0.6" fill="none"/>
<polygon points="363.4,127.2 368.3,121.7 361.4,121.1 358.8,125.0 359.1,125.7" fill="#fff" fill-opacity="0.02"/>
<polygon points="371.0,118.7 366.6,115.8 364.8,115.6 361.4,121.1 368.3,121.7" fill="#000" fill-opacity="0.11"/>
<path d="M359.1,125.7L363.4,127.2M363.4,127.2L371.0,118.7M358.8,125.0L359.1,125.7" stroke="#111" stroke-opacity="0.6" stroke-width="0.75" fill="none"/>
<path d="M371.0,118.7L366.6,115.8M366.6,115.8L364.8,115.6M364.8,115.6L358.8,125.0" stroke="#f0f0f0" stroke-opacity="0.4" stroke-width="0.6" fill="none"/>
<polygon points="330.7,54.4 337.5,59.8 342.6,55.7 342.6,55.6 343.0,54.4 332.3,48.3" fill="#fff" fill-opacity="0.25"/>
<polygon points="343.2,48.3 340.8,45.3 334.4,42.5 333.6,43.0 332.3,48.3 343.0,54.4 344.0,51.2" fill="#000" fill-opacity="0.14"/>
<path d="M344.0,51.2L343.2,48.3M330.7,54.4L337.5,59.8M337.5,59.8L342.6,55.7M342.6,55.7L342.6,55.6M342.6,55.6L344.0,51.2" stroke="#111" stroke-opacity="0.6" stroke-width="0.75" fill="none"/>
<path d="M343.2,48.3L340.8,45.3M340.8,45.3L334.4,42.5M334.4,42.5L333.6,43.0M333.6,43.0L330.7,54.4" stroke="#f0f0f0" stroke-opacity="0.4" stroke-width="0.6" fill="none"/>
<polygon points="297.3,122.0 296.4,121.2 295.1,120.9 287.4,123.5 287.9,125.0 296.6,123.3" fill="#fff" fill-opacity="0.21"/>
<polygon points="294.7,126.8 296.6,123.3 287.9,125.0 288.4,126.8" fill="#000" fill-opacity="0.08"/>
<path d="M288.4,126.8L294.7,126.8M294.7,126.8L297.3,122.0M297.3,122.0L296.4,121.2" stroke="#111" stroke-opacity="0.6" stroke-width="0.75" fill="none"/>
<path d="M296.4,121.2L295.1,120.9M295.1,120.9L287.4,123.5M287.4,123.5L288.4,126.8" stroke="#f0f0f0" stroke-opacity="0.4" stroke-width="0.6" fill="none"/>
<polygon points="278.9,83.7 276.8,83.6 276.8,86.2 277.1,86.1 279.0,83.8" fill="#fff" fill-opacity="0.13"/>
<polygon points="279.0,83.8 277.1,86.1 279.7,85.6 279.9,84.8" fill="#000" fill-opacity="0.07"/>
<path d="M279.9,84.8L278.9,83.7M276.8,86.2L279.7,85.6M279.7,85.6L279.9,84.8" stroke="#111" stroke-opacity="0.6" stroke-width="0.75" fill="none"/>
<path d="M278.9,83.7L276.8,83.6M276.8,83.6L276.8,86.2" stroke="#f0f0f0" stroke-opacity="0.4" stroke-width="0.6" fill="none"/>
<polygon points="332.5,33.7 333.2,38.5 333.8,39.0 335.4,36.7 333.0,33.7" fill="#fff" fill-opacity="0.19"/>
<polygon points="333.0,33.7 335.4,36.7 337.4,33.7" fill="#000" fill-opacity="0.06"/>
<path d="M333.2,38.5L333.8,39.0M333.8,39.0L337.4,33.7" stroke="#111" stroke-opacity="0.6" stroke-width="0.75" fill="none"/>
<path d="M337.4,33.7L332.5,33.7M332.5,33.7L333.2,38.5" stroke="#f0f0f0" stroke-opacity="0.4" stroke-width="0.6" fill="none"/>
<polygon points="357.4,95.7 360.1,104.0 367.5,99.5 360.9,94.0" fill="#fff" fill-opacity="0.15"/>
<polygon points="368.9,90.1 360.9,94.0 367.5,99.5 371.1,97.4" fill="#000" fill-opacity="0.01"/>
<path d="M371.1,97.4L368.9,90.1M360.1,104.0L371.1,97.4" stroke="#111" stroke-opacity="0.6" stroke-width="0.75" fill="none"/>
<path d="M368.9,90.1L357.4,95.7M357.4,95.7L360.1,104.0" stroke="#f0f0f0" stroke-opacity="0.4" stroke-width="0.6" fill="none"/>
<polygon points="349.9,78.7 347.4,85.1 353.0,87.2 351.8,76.6" fill="#fff" fill-opacity="0.05"/>
<polygon points="352.6,75.6 351.8,76.6 353.0,87.2 355.2,88.0 356.7,86.6 354.5,76.9" fill="#000" fill-opacity="0.12"/>
<path d="M347.4,85.1L355.2,88.0M355.2,88.0L356.7,86.6M356.7,86.6L354.5,76.9" stroke="#111" stroke-opacity="0.6" stroke-width="0.75" fill="none"/>
<path d="M354.5,76.9L352.6,75.6M352.6,75.6L349.9,78.7M349.9,78.7L347.4,85.1" stroke="#f0f0f0" stroke-opacity="0.4" stroke-width="0.6" fill="none"/>
<polygon points="417.6,40.5 414.1,36.2 409.7,37.2 414.8,42.2" fill="#fff" fill-opacity="0.18"/>
<polygon points="419.7,39.3 420.4,34.8 414.1,36.2 417.6,40.5" fill="#000" fill-opacity="0.19"/>
<path d="M414.8,42.2L419.7,39.3M419.7,39.3L420.4,34.8" stroke="#111" stroke-opacity="0.6" stroke-width="0.75" fill="none"/>
<path d="M420.4,34.8L409.7,37.2M409.7,37.2L414.8,42.2" stroke="#f0f0f0" stroke-opacity="0.4" stroke-width="0.6" fill="none"/>
<polygon points="420.4,53.1 418.5,52.8 411.1,55.1 407.7,58.8 407.7,60.3 419.3,57.4" fill="#fff" fill-opacity="0.21"/>
<polygon points="418.7,59.6 419.3,57.4 407.7,60.3 407.7,61.2 413.9,65.1 414.5,65.3" fill="#000" fill-opacity="0.04"/>
<path d="M414.5,65.3L418.7,59.6M418.7,59.6L420.4,53.1M407.7,61.2L413.9,65.1M413.9,65.1L414.5,65.3" stroke="#111" stroke-opacity="0.6" stroke-width="0.75" fill="none"/>
<path d="M420.4,53.1L418.5,52.8M418.5,52.8L411.1,55.1M411.1,55.1L407.7,58.8M407.7,58.8L407.7,61.2" stroke="#f0f0f0" stroke-opacity="0.4" stroke-width="0.6" fill="none"/>
<polygon points="420.5,63.8 414.9,65.6 415.8,66.8 417.1,67.7 424.0,65.8 423.2,64.2" fill="#fff" fill-opacity="0.20"/>
<polygon points="421.1,70.4 425.0,68.3 425.0,68.0 424.0,65.8 417.1,67.7" fill="#000" fill-opacity="0.08"/>
<path d="M415.8,66.8L421.1,70.4M421.1,70.4L425.0,68.3M425.0,68.3L425.0,68.0M425.0,68.0L423.2,64.2" stroke="#111" stroke-opacity="0.6" stroke-width="0.75" fill="none"/>
<path d="M423.2,64.2L420.5,63.8M420.5,63.8L414.9,65.6M414.9,65.6L415.8,66.8" stroke="#f0f0f0" stroke-opacity="0.4" stroke-width="0.6" fill="none"/>
<polygon points="394.0,69.0 394.1,71.6 400.9,74.7 402.4,73.4 396.1,65.4" fill="#fff" fill-opacity="0.10"/>
<polygon points="396.2,65.1 396.1,65.4 402.4,73.4 402.5,73.4 404.4,70.2 403.9,65.9" fill="#000" fill-opacity="0.06"/>
<path d="M394.1,71.6L400.9,74.7M400.9,74.7L402.5,73.4M402.5,73.4L404.4,70.2M404.4,70.2L403.9,65.9" stroke="#111" stroke-opacity="0.6" stroke-width="0.75" fill="none"/>
<path d="M403.9,65.9L396.2,65.1M396.2,65.1L394.0,69.0M394.0,69.0L394.1,71.6" stroke="#f0f0f0" stroke-opacity="0.4" stroke-width="0.6" fill="none"/>
<polygon points="344.0,114.0 344.2,116.1 352.5,118.5 350.5,114.7 344.2,113.6" fill="#fff" fill-opacity="0.15"/>
<polygon points="344.2,113.6 350.5,114.7 347.9,109.7 346.7,109.2" fill="#000" fill-opacity="0.10"/>
<path d="M344.2,116.1L352.5,118.5M352.5,118.5L347.9,109.7" stroke="#111" stroke-opacity="0.6" stroke-width="0.75" fill="none"/>
<path d="M346.7,109.2L344.0,114.0M344.0,114.0L344.2,116.1M347.9,109.7L346.7,109.2" stroke="#f0f0f0" stroke-opacity="0.4" stroke-width="0.6" fill="none"/>
<polygon points="355.8,44.6 351.6,52.4 352.2,52.5 356.9,48.2 356.6,46.5" fill="#fff" fill-opacity="0.13"/>
<polygon points="356.1,52.9 357.7,52.0 356.9,48.2 352.2,52.5" fill="#000" fill-opacity="0.24"/>
<path d="M351.6,52.4L356.1,52.9M356.1,52.9L357.7,52.0M357.7,52.0L356.6,46.5" stroke="#111" stroke-opacity="0.6" stroke-width="0.75" fill="none"/>
<path d="M356.6,46.5L355.8,44.6M355.8,44.6L351.6,52.4" stroke="#f0f0f0" stroke-opacity="0.4" stroke-width="0.6" fill="none"/>
<polygon points="332.4,79.8 334.5,83.5 339.8,81.1 337.9,76.2" fill="#fff" fill-opacity="0.15"/>
<polygon points="335.6,85.5 341.2,87.7 342.2,87.3 339.8,81.1 334.5,83.5" fill="#000" fill-opacity="0.10"/>
<path d="M335.6,85.5L341.2,87.7M341.2,87.7L342.2,87.3M342.2,87.3L337.9,76.2" stroke="#111" stroke-opacity="0.6" stroke-width="0.75" fill="none"/>
<path d="M337.9,76.2L332.4,79.8M332.4,79.8L335.6,85.5" stroke="#f0f0f0" stroke-opacity="0.4" stroke-width="0.6" fill="none"/>
<polygon points="328.6,103.5 333.5,104.3 333.6,104.2 334.0,103.9 333.2,97.1" fill="#fff" fill-opacity="0.14"/>
<polygon points="333.7,96.3 333.2,97.1 334.0,103.9 338.6,100.0" fill="#000" fill-opacity="0.22"/>
<path d="M328.6,103.5L333.5,104.3M333.5,104.3L333.6,104.2M333.6,104.2L338.6,100.0" stroke="#111" stroke-opacity="0.6" stroke-width="0.75" fill="none"/>
<path d="M338.6,100.0L333.7,96.3M333.7,96.3L328.6,103.5" stroke="#f0f0f0" stroke-opacity="0.4" stroke-width="0.6" fill="none"/>
</g>
<rect x="276.8" y="145.0" width="148.2" height="7.0" fill="#000"/>
<rect x="368.2" y="145.3" width="12.8" height="1.6" fill="#fff"/>
<rect x="369.5" y="149.6" width="9" height="0.9" fill="#bbb"/>
<rect x="394.5" y="146.8" width="4.5" height="0.9" fill="#bbb"/>
<rect x="407.5" y="146.8" width="6" height="0.9" fill="#bbb"/>
<rect x="394.5" y="149.6" width="7" height="0.9" fill="#bbb"/>
<rect x="407.5" y="149.6" width="4.5" height="0.9" fill="#bbb"/>
<text x="434.00" y="20.00" font-size="15.8" text-anchor="start" >(C)</text>
<rect x="501.60" y="63.69" width="15.90" height="84.91" fill="#fff" stroke="#000" stroke-width="0.9" />
<line x1="509.55" y1="61.26" x2="509.55" y2="66.12" stroke="#000" stroke-width="0.9"/>
<line x1="508.05" y1="61.26" x2="511.05" y2="61.26" stroke="#000" stroke-width="0.9"/>
<line x1="508.05" y1="66.12" x2="511.05" y2="66.12" stroke="#000" stroke-width="0.9"/>
<rect x="522.40" y="80.19" width="15.90" height="68.41" fill="#d90000" stroke="#000" stroke-width="0.9" />
<line x1="530.35" y1="73.39" x2="530.35" y2="86.98" stroke="#000" stroke-width="0.9"/>
<line x1="528.85" y1="73.39" x2="531.85" y2="73.39" stroke="#000" stroke-width="0.9"/>
<line x1="528.85" y1="86.98" x2="531.85" y2="86.98" stroke="#000" stroke-width="0.9"/>
<rect x="583.00" y="92.32" width="16.40" height="56.28" fill="#d90000" stroke="#000" stroke-width="0.9" />
<line x1="591.20" y1="86.01" x2="591.20" y2="99.11" stroke="#000" stroke-width="0.9"/>
<line x1="589.70" y1="86.01" x2="592.70" y2="86.01" stroke="#000" stroke-width="0.9"/>
<line x1="589.70" y1="99.11" x2="592.70" y2="99.11" stroke="#000" stroke-width="0.9"/>
<path d="M530.00,62.05V66.45M528.09,63.15L531.91,65.35M528.09,65.35L531.91,63.15" stroke="#333" stroke-width="1.25" stroke-linecap="round" fill="none"/>
<path d="M591.50,74.70V79.10M589.59,75.80L593.41,78.00M589.59,78.00L593.41,75.80" stroke="#333" stroke-width="1.25" stroke-linecap="round" fill="none"/>
<rect x="489.50" y="27.30" width="122.10" height="121.30" fill="none" stroke="#000" stroke-width="1.4" />
<line x1="489.50" y1="124.34" x2="492.30" y2="124.34" stroke="#000" stroke-width="1"/>
<line x1="489.50" y1="100.08" x2="492.30" y2="100.08" stroke="#000" stroke-width="1"/>
<line x1="489.50" y1="75.82" x2="492.30" y2="75.82" stroke="#000" stroke-width="1"/>
<line x1="489.50" y1="51.56" x2="492.30" y2="51.56" stroke="#000" stroke-width="1"/>
<text x="477.60" y="152.00" font-size="10" text-anchor="end" >0.0</text>
<text x="477.60" y="127.74" font-size="10" text-anchor="end" >0.5</text>
<text x="477.60" y="103.48" font-size="10" text-anchor="end" >1.0</text>
<text x="477.60" y="79.22" font-size="10" text-anchor="end" >1.5</text>
<text x="477.60" y="54.96" font-size="10" text-anchor="end" >2.0</text>
<text x="477.60" y="30.70" font-size="10" text-anchor="end" >2.5</text>
<line x1="550.60" y1="148.60" x2="550.60" y2="146.30" stroke="#000" stroke-width="1"/>
<text x="520.00" y="164.60" font-size="10" text-anchor="middle" >Ca</text>
<text x="581.00" y="164.60" font-size="10" text-anchor="middle" >Si</text>
<text transform="translate(460.6,88.1) rotate(-90)" font-size="10" text-anchor="middle">Concenetration (mM)</text>
<rect x="509.60" y="37.20" width="5.70" height="5.30" fill="#fff" stroke="#000" stroke-width="0.9" />
<text x="517.40" y="42.90" font-size="10.3" text-anchor="start" >Day 0</text>
<rect x="560.60" y="37.20" width="5.70" height="5.30" fill="#d90000" stroke="#000" stroke-width="0.9" />
<text x="568.60" y="42.90" font-size="10.3" text-anchor="start" >Day 1</text>
<text x="9.40" y="202.00" font-size="15.8" text-anchor="start" >(D)</text>
<rect x="72.50" y="310.42" width="11.20" height="19.48" fill="#fff" stroke="#000" stroke-width="1.1" />
<line x1="78.10" y1="308.84" x2="78.10" y2="312.01" stroke="#000" stroke-width="0.9"/>
<line x1="76.60" y1="308.84" x2="79.60" y2="308.84" stroke="#000" stroke-width="0.9"/>
<line x1="76.60" y1="312.01" x2="79.60" y2="312.01" stroke="#000" stroke-width="0.9"/>
<rect x="86.00" y="307.70" width="10.80" height="22.20" fill="#d90000" stroke="#000" stroke-width="1.1" />
<line x1="91.40" y1="306.19" x2="91.40" y2="309.21" stroke="#000" stroke-width="0.9"/>
<line x1="89.90" y1="306.19" x2="92.90" y2="306.19" stroke="#000" stroke-width="0.9"/>
<line x1="89.90" y1="309.21" x2="92.90" y2="309.21" stroke="#000" stroke-width="0.9"/>
<rect x="112.30" y="296.38" width="11.20" height="33.52" fill="#fff" stroke="#000" stroke-width="1.1" />
<line x1="117.90" y1="293.36" x2="117.90" y2="299.40" stroke="#000" stroke-width="0.9"/>
<line x1="116.40" y1="293.36" x2="119.40" y2="293.36" stroke="#000" stroke-width="0.9"/>
<line x1="116.40" y1="299.40" x2="119.40" y2="299.40" stroke="#000" stroke-width="0.9"/>
<rect x="125.80" y="283.09" width="10.80" height="46.81" fill="#d90000" stroke="#000" stroke-width="1.1" />
<line x1="131.20" y1="280.67" x2="131.20" y2="285.51" stroke="#000" stroke-width="0.9"/>
<line x1="129.70" y1="280.67" x2="132.70" y2="280.67" stroke="#000" stroke-width="0.9"/>
<line x1="129.70" y1="285.51" x2="132.70" y2="285.51" stroke="#000" stroke-width="0.9"/>
<rect x="152.00" y="269.80" width="11.20" height="60.10" fill="#fff" stroke="#000" stroke-width="1.1" />
<line x1="157.60" y1="266.33" x2="157.60" y2="273.27" stroke="#000" stroke-width="0.9"/>
<line x1="156.10" y1="266.33" x2="159.10" y2="266.33" stroke="#000" stroke-width="0.9"/>
<line x1="156.10" y1="273.27" x2="159.10" y2="273.27" stroke="#000" stroke-width="0.9"/>
<rect x="165.50" y="249.87" width="10.80" height="80.03" fill="#d90000" stroke="#000" stroke-width="1.1" />
<line x1="170.90" y1="245.19" x2="170.90" y2="254.55" stroke="#000" stroke-width="0.9"/>
<line x1="169.40" y1="245.19" x2="172.40" y2="245.19" stroke="#000" stroke-width="0.9"/>
<line x1="169.40" y1="254.55" x2="172.40" y2="254.55" stroke="#000" stroke-width="0.9"/>
<path d="M131.00,272.30V275.90M129.43,273.20L132.57,275.00M129.43,275.00L132.57,273.20" stroke="#333" stroke-width="1.25" stroke-linecap="round" fill="none"/>
<path d="M170.60,236.60V241.00M168.69,237.70L172.51,239.90M168.69,239.90L172.51,237.70" stroke="#333" stroke-width="1.25" stroke-linecap="round" fill="none"/>
<rect x="64.90" y="209.10" width="119.10" height="120.80" fill="none" stroke="#000" stroke-width="1.4" />
<line x1="64.90" y1="299.70" x2="67.90" y2="299.70" stroke="#000" stroke-width="1"/>
<line x1="64.90" y1="269.50" x2="67.90" y2="269.50" stroke="#000" stroke-width="1"/>
<line x1="64.90" y1="239.30" x2="67.90" y2="239.30" stroke="#000" stroke-width="1"/>
<text x="53.40" y="333.30" font-size="10" text-anchor="end" >0.0</text>
<text x="53.40" y="303.10" font-size="10" text-anchor="end" >0.2</text>
<text x="53.40" y="272.90" font-size="10" text-anchor="end" >0.4</text>
<text x="53.40" y="242.70" font-size="10" text-anchor="end" >0.6</text>
<text x="53.40" y="212.50" font-size="10" text-anchor="end" >0.8</text>
<line x1="104.60" y1="329.90" x2="104.60" y2="327.60" stroke="#000" stroke-width="1"/>
<line x1="144.30" y1="329.90" x2="144.30" y2="327.60" stroke="#000" stroke-width="1"/>
<text x="84.70" y="345.40" font-size="10" text-anchor="middle" >1</text>
<text x="124.50" y="345.40" font-size="10" text-anchor="middle" >3</text>
<text x="164.20" y="345.40" font-size="10" text-anchor="middle" >7</text>
<text x="124.00" y="355.40" font-size="10.4" text-anchor="middle" >Culture time (days)</text>
<text transform="translate(36.3,283.4) rotate(-90)" font-size="10.4" text-anchor="middle">Absorbance</text>
<rect x="92.60" y="220.40" width="5.90" height="5.60" fill="#fff" stroke="#000" stroke-width="0.9" />
<text x="100.20" y="226.30" font-size="10.4" text-anchor="start" >Ctl</text>
<rect x="138.50" y="220.40" width="5.90" height="5.60" fill="#d90000" stroke="#000" stroke-width="0.9" />
<text x="146.00" y="226.30" font-size="10.4" text-anchor="start" >CS</text>
<text x="201.30" y="202.50" font-size="15.8" text-anchor="start" >(E)</text>
<rect x="238.50" y="216.30" width="35.29" height="20.43" fill="#fdf0ee"/>
<rect x="273.79" y="216.30" width="35.29" height="20.43" fill="#e7e9fb"/>
<rect x="309.07" y="216.30" width="35.29" height="20.43" fill="#e8eafb"/>
<rect x="344.36" y="216.30" width="35.29" height="20.43" fill="#dcdffb"/>
<rect x="379.64" y="216.30" width="35.29" height="20.43" fill="#f8eaea"/>
<rect x="414.93" y="216.30" width="35.29" height="20.43" fill="#fef8f6"/>
<rect x="450.21" y="216.30" width="35.29" height="20.43" fill="#e4e6fb"/>
<rect x="238.50" y="236.73" width="35.29" height="20.43" fill="#e5e8fb"/>
<rect x="273.79" y="236.73" width="35.29" height="20.43" fill="#fdf6f4"/>
<rect x="309.07" y="236.73" width="35.29" height="20.43" fill="#f8e7e5"/>
<rect x="344.36" y="236.73" width="35.29" height="20.43" fill="#fcf4f2"/>
<rect x="379.64" y="236.73" width="35.29" height="20.43" fill="#ffffff"/>
<rect x="414.93" y="236.73" width="35.29" height="20.43" fill="#fdf5f3"/>
<rect x="450.21" y="236.73" width="35.29" height="20.43" fill="#fafafe"/>
<rect x="238.50" y="257.17" width="35.29" height="20.43" fill="#fef6f4"/>
<rect x="273.79" y="257.17" width="35.29" height="20.43" fill="#fcf0ee"/>
<rect x="309.07" y="257.17" width="35.29" height="20.43" fill="#ffffff"/>
<rect x="344.36" y="257.17" width="35.29" height="20.43" fill="#f9e6e4"/>
<rect x="379.64" y="257.17" width="35.29" height="20.43" fill="#e9ebfb"/>
<rect x="414.93" y="257.17" width="35.29" height="20.43" fill="#eef0fc"/>
<rect x="450.21" y="257.17" width="35.29" height="20.43" fill="#f8e3e1"/>
<rect x="238.50" y="277.60" width="35.29" height="20.43" fill="#eaa8a8"/>
<rect x="273.79" y="277.60" width="35.29" height="20.43" fill="#db0000"/>
<rect x="309.07" y="277.60" width="35.29" height="20.43" fill="#e07070"/>
<rect x="344.36" y="277.60" width="35.29" height="20.43" fill="#e48080"/>
<rect x="379.64" y="277.60" width="35.29" height="20.43" fill="#dc4448"/>
<rect x="414.93" y="277.60" width="35.29" height="20.43" fill="#e48888"/>
<rect x="450.21" y="277.60" width="35.29" height="20.43" fill="#e89898"/>
<rect x="238.50" y="298.03" width="35.29" height="20.43" fill="#db1010"/>
<rect x="273.79" y="298.03" width="35.29" height="20.43" fill="#e48080"/>
<rect x="309.07" y="298.03" width="35.29" height="20.43" fill="#e06060"/>
<rect x="344.36" y="298.03" width="35.29" height="20.43" fill="#e47878"/>
<rect x="379.64" y="298.03" width="35.29" height="20.43" fill="#e07070"/>
<rect x="414.93" y="298.03" width="35.29" height="20.43" fill="#e69090"/>
<rect x="450.21" y="298.03" width="35.29" height="20.43" fill="#eaa4a4"/>
<rect x="238.50" y="318.47" width="35.29" height="20.43" fill="#dc4444"/>
<rect x="273.79" y="318.47" width="35.29" height="20.43" fill="#dc3a3a"/>
<rect x="309.07" y="318.47" width="35.29" height="20.43" fill="#eeaaaa"/>
<rect x="344.36" y="318.47" width="35.29" height="20.43" fill="#dc2020"/>
<rect x="379.64" y="318.47" width="35.29" height="20.43" fill="#e89a9a"/>
<rect x="414.93" y="318.47" width="35.29" height="20.43" fill="#dc4444"/>
<rect x="450.21" y="318.47" width="35.29" height="20.43" fill="#dc4848"/>
<line x1="238.50" y1="216.30" x2="238.50" y2="338.90" stroke="rgba(50,50,50,0.42)" stroke-width="0.7"/>
<line x1="273.79" y1="216.30" x2="273.79" y2="338.90" stroke="rgba(50,50,50,0.42)" stroke-width="0.7"/>
<line x1="309.07" y1="216.30" x2="309.07" y2="338.90" stroke="rgba(50,50,50,0.42)" stroke-width="0.7"/>
<line x1="344.36" y1="216.30" x2="344.36" y2="338.90" stroke="rgba(50,50,50,0.42)" stroke-width="0.7"/>
<line x1="379.64" y1="216.30" x2="379.64" y2="338.90" stroke="rgba(50,50,50,0.42)" stroke-width="0.7"/>
<line x1="414.93" y1="216.30" x2="414.93" y2="338.90" stroke="rgba(50,50,50,0.42)" stroke-width="0.7"/>
<line x1="450.21" y1="216.30" x2="450.21" y2="338.90" stroke="rgba(50,50,50,0.42)" stroke-width="0.7"/>
<line x1="485.50" y1="216.30" x2="485.50" y2="338.90" stroke="rgba(50,50,50,0.42)" stroke-width="0.7"/>
<line x1="238.50" y1="216.30" x2="485.50" y2="216.30" stroke="rgba(50,50,50,0.42)" stroke-width="0.7"/>
<line x1="238.50" y1="236.73" x2="485.50" y2="236.73" stroke="rgba(50,50,50,0.42)" stroke-width="0.7"/>
<line x1="238.50" y1="257.17" x2="485.50" y2="257.17" stroke="rgba(50,50,50,0.42)" stroke-width="0.7"/>
<line x1="238.50" y1="277.60" x2="485.50" y2="277.60" stroke="rgba(50,50,50,0.42)" stroke-width="0.7"/>
<line x1="238.50" y1="298.03" x2="485.50" y2="298.03" stroke="rgba(50,50,50,0.42)" stroke-width="0.7"/>
<line x1="238.50" y1="318.47" x2="485.50" y2="318.47" stroke="rgba(50,50,50,0.42)" stroke-width="0.7"/>
<line x1="238.50" y1="338.90" x2="485.50" y2="338.90" stroke="rgba(50,50,50,0.42)" stroke-width="0.7"/>
<text x="256.14" y="209.60" font-size="8" text-anchor="middle" >VEGF</text>
<text x="291.43" y="209.60" font-size="8" text-anchor="middle" >FGF-2</text>
<text x="326.71" y="209.60" font-size="8" text-anchor="middle" >HGF</text>
<text x="362.00" y="209.60" font-size="8" text-anchor="middle" >Ang-1</text>
<text x="397.29" y="209.60" font-size="8" text-anchor="middle" >IL-10</text>
<text x="432.57" y="209.60" font-size="8" text-anchor="middle" >IL-1RA</text>
<text x="467.86" y="209.60" font-size="8" text-anchor="middle" >TGF-β</text>
<text x="229.60" y="229.42" font-size="8" text-anchor="end" >Ctl-1</text>
<text x="229.60" y="249.85" font-size="8" text-anchor="end" >Ctl-2</text>
<text x="229.60" y="270.28" font-size="8" text-anchor="end" >Ctl-3</text>
<text x="229.60" y="290.72" font-size="8" text-anchor="end" >CS-1</text>
<text x="229.60" y="311.15" font-size="8" text-anchor="end" >CS-2</text>
<text x="229.60" y="331.58" font-size="8" text-anchor="end" >CS-3</text>
<defs><linearGradient id="cb" x1="0" x2="1" y1="0" y2="0"><stop offset="0" stop-color="#0000ff"/><stop offset="0.5" stop-color="#ffffff"/><stop offset="1" stop-color="#dd0000"/></linearGradient></defs>
<rect x="415.00" y="342.10" width="70.10" height="6.10" fill="url(#cb)" stroke="#333355" stroke-width="0.8" />
<text x="415.30" y="359.90" font-size="7.6" text-anchor="middle" >0</text>
<text x="451.10" y="359.90" font-size="7.6" text-anchor="middle" >1</text>
<text x="485.10" y="359.90" font-size="7.6" text-anchor="middle" >2</text>
<rect x="534.94" y="284.97" width="6.50" height="38.33" fill="#fff" stroke="#000" stroke-width="0.8" />
<line x1="538.19" y1="282.28" x2="538.19" y2="287.65" stroke="#000" stroke-width="0.9"/>
<line x1="537.19" y1="282.28" x2="539.19" y2="282.28" stroke="#000" stroke-width="0.9"/>
<line x1="537.19" y1="287.65" x2="539.19" y2="287.65" stroke="#000" stroke-width="0.9"/>
<rect x="542.24" y="258.90" width="6.00" height="64.40" fill="#d90000" stroke="#000" stroke-width="0.8" />
<line x1="545.24" y1="246.25" x2="545.24" y2="271.55" stroke="#000" stroke-width="0.9"/>
<line x1="544.24" y1="246.25" x2="546.24" y2="246.25" stroke="#000" stroke-width="0.9"/>
<line x1="544.24" y1="271.55" x2="546.24" y2="271.55" stroke="#000" stroke-width="0.9"/>
<path d="M545.34,234.10V238.50M543.43,235.20L547.26,237.40M543.43,237.40L547.26,235.20" stroke="#333" stroke-width="1.25" stroke-linecap="round" fill="none"/>
<rect x="556.23" y="284.97" width="6.50" height="38.33" fill="#fff" stroke="#000" stroke-width="0.8" />
<line x1="559.48" y1="282.28" x2="559.48" y2="287.65" stroke="#000" stroke-width="0.9"/>
<line x1="558.48" y1="282.28" x2="560.48" y2="282.28" stroke="#000" stroke-width="0.9"/>
<line x1="558.48" y1="287.65" x2="560.48" y2="287.65" stroke="#000" stroke-width="0.9"/>
<rect x="563.53" y="253.92" width="6.00" height="69.38" fill="#d90000" stroke="#000" stroke-width="0.8" />
<line x1="566.53" y1="242.03" x2="566.53" y2="265.80" stroke="#000" stroke-width="0.9"/>
<line x1="565.53" y1="242.03" x2="567.53" y2="242.03" stroke="#000" stroke-width="0.9"/>
<line x1="565.53" y1="265.80" x2="567.53" y2="265.80" stroke="#000" stroke-width="0.9"/>
<path d="M566.63,230.00V234.40M564.71,231.10L568.54,233.30M564.71,233.30L568.54,231.10" stroke="#333" stroke-width="1.25" stroke-linecap="round" fill="none"/>
<rect x="577.51" y="284.97" width="6.50" height="38.33" fill="#fff" stroke="#000" stroke-width="0.8" />
<line x1="580.76" y1="282.28" x2="580.76" y2="287.65" stroke="#000" stroke-width="0.9"/>
<line x1="579.76" y1="282.28" x2="581.76" y2="282.28" stroke="#000" stroke-width="0.9"/>
<line x1="579.76" y1="287.65" x2="581.76" y2="287.65" stroke="#000" stroke-width="0.9"/>
<rect x="584.81" y="265.42" width="6.00" height="57.88" fill="#d90000" stroke="#000" stroke-width="0.8" />
<line x1="587.81" y1="259.28" x2="587.81" y2="271.55" stroke="#000" stroke-width="0.9"/>
<line x1="586.81" y1="259.28" x2="588.81" y2="259.28" stroke="#000" stroke-width="0.9"/>
<line x1="586.81" y1="271.55" x2="588.81" y2="271.55" stroke="#000" stroke-width="0.9"/>
<path d="M587.91,248.00V252.40M586.00,249.10L589.83,251.30M586.00,251.30L589.83,249.10" stroke="#333" stroke-width="1.25" stroke-linecap="round" fill="none"/>
<rect x="598.80" y="284.97" width="6.50" height="38.33" fill="#fff" stroke="#000" stroke-width="0.8" />
<line x1="602.05" y1="281.52" x2="602.05" y2="288.42" stroke="#000" stroke-width="0.9"/>
<line x1="601.05" y1="281.52" x2="603.05" y2="281.52" stroke="#000" stroke-width="0.9"/>
<line x1="601.05" y1="288.42" x2="603.05" y2="288.42" stroke="#000" stroke-width="0.9"/>
<rect x="606.10" y="260.43" width="6.00" height="62.87" fill="#d90000" stroke="#000" stroke-width="0.8" />
<line x1="609.10" y1="251.62" x2="609.10" y2="269.25" stroke="#000" stroke-width="0.9"/>
<line x1="608.10" y1="251.62" x2="610.10" y2="251.62" stroke="#000" stroke-width="0.9"/>
<line x1="608.10" y1="269.25" x2="610.10" y2="269.25" stroke="#000" stroke-width="0.9"/>
<path d="M609.20,240.20V244.60M607.29,241.30L611.11,243.50M607.29,243.50L611.11,241.30" stroke="#333" stroke-width="1.25" stroke-linecap="round" fill="none"/>
<rect x="620.09" y="284.97" width="6.50" height="38.33" fill="#fff" stroke="#000" stroke-width="0.8" />
<line x1="623.34" y1="282.67" x2="623.34" y2="287.27" stroke="#000" stroke-width="0.9"/>
<line x1="622.34" y1="282.67" x2="624.34" y2="282.67" stroke="#000" stroke-width="0.9"/>
<line x1="622.34" y1="287.27" x2="624.34" y2="287.27" stroke="#000" stroke-width="0.9"/>
<rect x="627.39" y="263.50" width="6.00" height="59.80" fill="#d90000" stroke="#000" stroke-width="0.8" />
<line x1="630.39" y1="256.60" x2="630.39" y2="270.40" stroke="#000" stroke-width="0.9"/>
<line x1="629.39" y1="256.60" x2="631.39" y2="256.60" stroke="#000" stroke-width="0.9"/>
<line x1="629.39" y1="270.40" x2="631.39" y2="270.40" stroke="#000" stroke-width="0.9"/>
<path d="M630.49,244.90V249.30M628.57,246.00L632.40,248.20M628.57,248.20L632.40,246.00" stroke="#333" stroke-width="1.25" stroke-linecap="round" fill="none"/>
<rect x="641.37" y="284.97" width="6.50" height="38.33" fill="#fff" stroke="#000" stroke-width="0.8" />
<line x1="644.62" y1="283.82" x2="644.62" y2="286.12" stroke="#000" stroke-width="0.9"/>
<line x1="643.62" y1="283.82" x2="645.62" y2="283.82" stroke="#000" stroke-width="0.9"/>
<line x1="643.62" y1="286.12" x2="645.62" y2="286.12" stroke="#000" stroke-width="0.9"/>
<rect x="648.67" y="263.88" width="6.00" height="59.42" fill="#d90000" stroke="#000" stroke-width="0.8" />
<line x1="651.67" y1="257.37" x2="651.67" y2="270.40" stroke="#000" stroke-width="0.9"/>
<line x1="650.67" y1="257.37" x2="652.67" y2="257.37" stroke="#000" stroke-width="0.9"/>
<line x1="650.67" y1="270.40" x2="652.67" y2="270.40" stroke="#000" stroke-width="0.9"/>
<path d="M651.77,244.90V249.30M649.86,246.00L653.69,248.20M649.86,248.20L653.69,246.00" stroke="#333" stroke-width="1.25" stroke-linecap="round" fill="none"/>
<rect x="662.66" y="284.97" width="6.50" height="38.33" fill="#fff" stroke="#000" stroke-width="0.8" />
<line x1="665.91" y1="281.90" x2="665.91" y2="288.03" stroke="#000" stroke-width="0.9"/>
<line x1="664.91" y1="281.90" x2="666.91" y2="281.90" stroke="#000" stroke-width="0.9"/>
<line x1="664.91" y1="288.03" x2="666.91" y2="288.03" stroke="#000" stroke-width="0.9"/>
<rect x="669.96" y="266.18" width="6.00" height="57.12" fill="#d90000" stroke="#000" stroke-width="0.8" />
<line x1="672.96" y1="258.52" x2="672.96" y2="273.85" stroke="#000" stroke-width="0.9"/>
<line x1="671.96" y1="258.52" x2="673.96" y2="258.52" stroke="#000" stroke-width="0.9"/>
<line x1="671.96" y1="273.85" x2="673.96" y2="273.85" stroke="#000" stroke-width="0.9"/>
<path d="M673.06,246.70V251.10M671.14,247.80L674.97,250.00M671.14,250.00L674.97,247.80" stroke="#333" stroke-width="1.25" stroke-linecap="round" fill="none"/>
<rect x="531.20" y="208.30" width="149.00" height="115.00" fill="none" stroke="#000" stroke-width="1.4" />
<line x1="552.49" y1="323.30" x2="552.49" y2="320.30" stroke="#000" stroke-width="1"/>
<line x1="573.77" y1="323.30" x2="573.77" y2="320.30" stroke="#000" stroke-width="1"/>
<line x1="595.06" y1="323.30" x2="595.06" y2="320.30" stroke="#000" stroke-width="1"/>
<line x1="616.34" y1="323.30" x2="616.34" y2="320.30" stroke="#000" stroke-width="1"/>
<line x1="637.63" y1="323.30" x2="637.63" y2="320.30" stroke="#000" stroke-width="1"/>
<line x1="658.91" y1="323.30" x2="658.91" y2="320.30" stroke="#000" stroke-width="1"/>
<text x="519.40" y="326.70" font-size="10" text-anchor="end" >0.0</text>
<text x="519.40" y="288.37" font-size="10" text-anchor="end" >1.0</text>
<text x="519.40" y="250.03" font-size="10" text-anchor="end" >2.0</text>
<text x="519.40" y="211.70" font-size="10" text-anchor="end" >3.0</text>
<text transform="translate(502.0,265.6) rotate(-90)" font-size="10.3" text-anchor="middle">Normalized to Ctl</text>
<text transform="translate(543.84,335.5) rotate(-45)" font-size="10" text-anchor="end">VEGF</text>
<text transform="translate(565.13,335.5) rotate(-45)" font-size="10" text-anchor="end">FGF-2</text>
<text transform="translate(586.41,335.5) rotate(-45)" font-size="10" text-anchor="end">HGF</text>
<text transform="translate(607.70,335.5) rotate(-45)" font-size="10" text-anchor="end">Ang-1</text>
<text transform="translate(628.99,335.5) rotate(-45)" font-size="10" text-anchor="end">IL-10</text>
<text transform="translate(650.27,335.5) rotate(-45)" font-size="10" text-anchor="end">IL-1RA</text>
<text transform="translate(671.56,335.5) rotate(-45)" font-size="10" text-anchor="end">TGF-β</text>
<rect x="568.30" y="217.40" width="6.00" height="5.80" fill="#fff" stroke="#000" stroke-width="0.9" />
<text x="576.40" y="223.30" font-size="10.4" text-anchor="start" >Ctl</text>
<rect x="624.20" y="217.40" width="5.60" height="5.80" fill="#d90000" stroke="#000" stroke-width="0.9" />
<text x="631.40" y="223.30" font-size="10.4" text-anchor="start" >CS</text>
</svg>
</body></html>
